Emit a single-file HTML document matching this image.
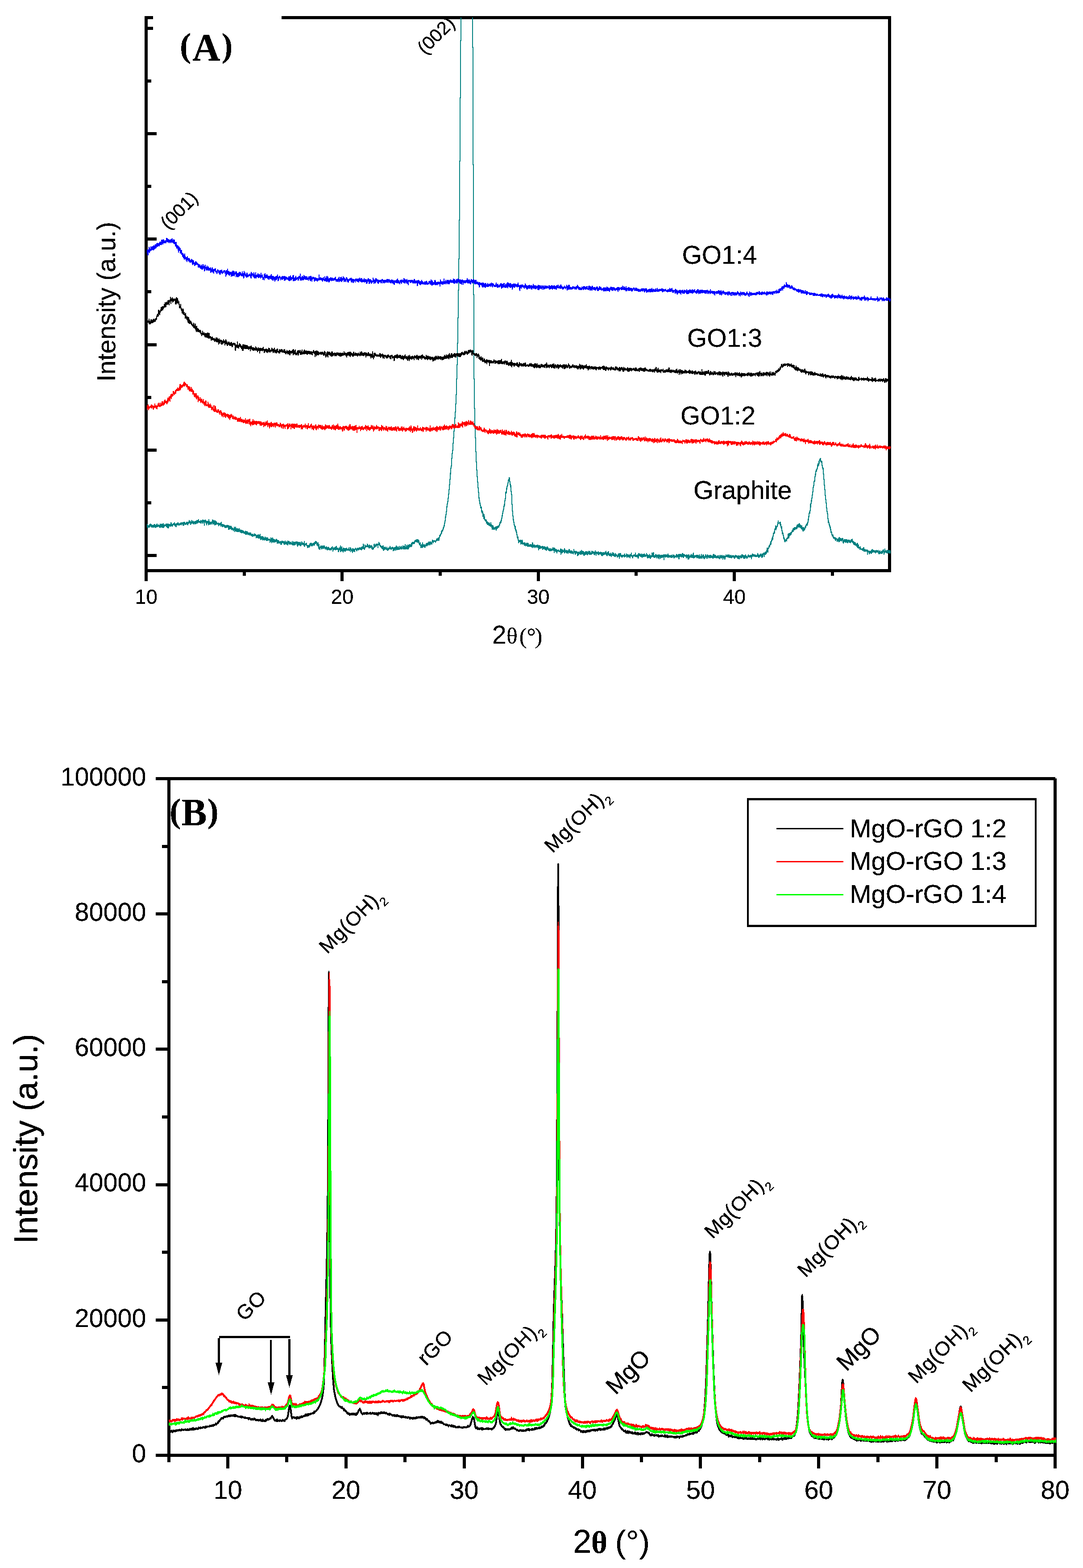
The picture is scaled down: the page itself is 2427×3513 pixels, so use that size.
<!DOCTYPE html>
<html lang="en"><head><meta charset="utf-8"><title>XRD patterns</title>
<style>html,body{margin:0;padding:0;background:#fff}body{width:2427px;height:3513px;overflow:hidden}svg{display:block}text{fill:#000;filter:url(#crisp)}</style>
</head><body>
<svg width="2427" height="3513" viewBox="0 0 2427 3513">
<rect width="2427" height="3513" fill="#fff"/>
<defs><filter id="crisp" x="-20%" y="-20%" width="140%" height="140%" color-interpolation-filters="sRGB"><feComponentTransfer><feFuncA type="discrete" tableValues="0 1 1"/></feComponentTransfer></filter></defs>
<g id="plotA">
<g shape-rendering="crispEdges">
<rect x="324" y="36" width="7" height="1266" fill="#000"/>
<rect x="1990" y="36" width="7" height="1246" fill="#000"/>
<rect x="324" y="36" width="1673" height="7" fill="#000"/>
<rect x="324" y="1275" width="1673" height="7" fill="#000"/>
<rect x="331" y="60" width="20" height="7" fill="#000"/>
<rect x="331" y="178" width="8" height="7" fill="#000"/>
<rect x="331" y="296" width="20" height="7" fill="#000"/>
<rect x="331" y="414" width="8" height="7" fill="#000"/>
<rect x="331" y="532" width="20" height="7" fill="#000"/>
<rect x="331" y="650" width="8" height="7" fill="#000"/>
<rect x="331" y="769" width="20" height="7" fill="#000"/>
<rect x="331" y="887" width="8" height="7" fill="#000"/>
<rect x="331" y="1005" width="20" height="7" fill="#000"/>
<rect x="331" y="1123" width="8" height="7" fill="#000"/>
<rect x="331" y="1241" width="20" height="7" fill="#000"/>
<rect x="544" y="1282" width="7" height="8" fill="#000"/>
<rect x="763" y="1282" width="7" height="20" fill="#000"/>
<rect x="983" y="1282" width="7" height="8" fill="#000"/>
<rect x="1203" y="1282" width="7" height="20" fill="#000"/>
<rect x="1422" y="1282" width="7" height="8" fill="#000"/>
<rect x="1642" y="1282" width="7" height="20" fill="#000"/>
<rect x="1862" y="1282" width="7" height="8" fill="#000"/>
<rect x="343" y="30" width="288" height="120" fill="#fff"/>
</g>
<g fill="none" stroke-width="1" shape-rendering="crispEdges">
<path stroke="#008080" d="M329.5 1174v8m1 -8v10m1 -8v8m1 -7v5m1 -5v5m1 -7v7m1 -8v8m1 -9v8m1 -8v6m1 -5v7m1 -7v8m1 -6v6m1 -6v6m1 -6v6m1 -6v6m1 -7v7m1 -8v8m1 -8v7m1 -7v9m1 -7v7m1 -7v6m1 -8v8m1 -9v8m1 -8v8m1 -5v5m1 -6v5m1 -5v5m1 -4v6m1 -6v6m1 -9v10m1 -10v10m1 -9v7m1 -7v8m1 -9v9m1 -9v9m1 -8v9m1 -11v11m1 -11v11m1 -8v7m1 -7v6m1 -6v4m1 -4v4m1 -6v6m1 -6v8m1 -8v8m1 -8v10m1 -10v10m1 -10v11m1 -11v11m1 -10v9m1 -9v5m1 -5v6m1 -6v6m1 -10v10m1 -10v9m1 -8v8m1 -5v6m1 -6v6m1 -7v6m1 -7v4m1 -4v5m1 -7v7m1 -7v9m1 -6v6m1 -6v8m1 -8v8m1 -9v9m1 -9v5m1 -6v6m1 -7v7m1 -7v6m1 -4v6m1 -5v5m1 -6v5m1 -5v4m1 -5v5m1 -6v7m1 -7v7m1 -6v4m1 -5v5m1 -5v8m1 -8v8m1 -9v9m1 -9v9m1 -9v6m1 -6v7m1 -4v4m1 -5v5m1 -7v6m1 -6v6m1 -6v7m1 -7v8m1 -7v7m1 -9v6m1 -9v8m1 -8v8m1 -6v5m1 -5v9m1 -7v7m1 -11v10m1 -10v8m1 -5v5m1 -7v7m1 -7v8m1 -6v7m1 -7v7m1 -7v5m1 -5v7m1 -8v8m1 -8v7m1 -7v7m1 -9v9m1 -9v7m1 -7v8m1 -8v8m1 -10v8m1 -8v8m1 -4v4m1 -4v5m1 -5v5m1 -7v8m1 -8v8m1 -7v7m1 -7v4m1 -6v9m1 -9v9m1 -9v9m1 -8v5m1 -5v13m1 -13v13m1 -14v7m1 -7v7m1 -6v9m1 -7v10m1 -10v10m1 -10v6m1 -6v6m1 -6v10m1 -14v14m1 -14v12m1 -8v9m1 -7v7m1 -7v6m1 -6v6m1 -6v6m1 -7v7m1 -11v8m1 -8v11m1 -11v11m1 -9v9m1 -10v9m1 -9v12m1 -10v10m1 -11v11m1 -11v10m1 -8v8m1 -8v7m1 -5v5m1 -3v3m1 -4v5m1 -5v8m1 -8v8m1 -7v5m1 -5v5m1 -6v6m1 -6v9m1 -11v11m1 -11v9m1 -4v7m1 -7v7m1 -7v7m1 -7v6m1 -5v5m1 -5v6m1 -5v7m1 -7v7m1 -6v6m1 -6v6m1 -7v7m1 -7v6m1 -6v6m1 -6v6m1 -6v11m1 -10v10m1 -10v10m1 -9v8m1 -8v8m1 -8v7m1 -7v8m1 -8v9m1 -7v8m1 -6v6m1 -6v5m1 -4v7m1 -6v6m1 -10v8m1 -8v12m1 -10v10m1 -12v10m1 -10v11m1 -7v7m1 -8v9m1 -9v9m1 -8v8m1 -8v8m1 -7v7m1 -9v9m1 -9v8m1 -5v7m1 -7v7m1 -6v7m1 -7v7m1 -7v8m1 -8v8m1 -7v6m1 -6v6m1 -5v6m1 -6v7m1 -5v5m1 -5v5m1 -7v9m1 -9v9m1 -8v8m1 -8v8m1 -8v8m1 -8v7m1 -5v7m1 -6v6m1 -6v5m1 -5v6m1 -6v7m1 -7v7m1 -7v6m1 -6v8m1 -5v5m1 -5v6m1 -6v7m1 -7v7m1 -7v5m1 -3v4m1 -7v7m1 -7v6m1 -5v5m1 -5v5m1 -4v9m1 -7v7m1 -8v7m1 -7v7m1 -7v8m1 -9v9m1 -9v10m1 -9v9m1 -9v8m1 -10v11m1 -11v14m1 -9v9m1 -8v7m1 -8v8m1 -8v8m1 -8v10m1 -9v9m1 -9v8m1 -6v6m1 -5v6m1 -9v9m1 -9v8m1 -6v6m1 -6v8m1 -8v8m1 -8v8m1 -8v8m1 -8v7m1 -4v4m1 -4v4m1 -4v4m1 -4v9m1 -8v8m1 -12v10m1 -10v10m1 -9v12m1 -11v11m1 -13v11m1 -11v11m1 -8v8m1 -8v9m1 -8v8m1 -8v7m1 -6v6m1 -6v6m1 -8v7m1 -7v7m1 -6v10m1 -9v9m1 -8v8m1 -8v8m1 -8v7m1 -6v7m1 -5v5m1 -5v4m1 -5v8m1 -8v9m1 -8v8m1 -10v9m1 -9v6m1 -5v5m1 -5v5m1 -5v7m1 -6v8m1 -8v8m1 -10v9m1 -9v8m1 -5v6m1 -7v7m1 -7v7m1 -6v7m1 -10v11m1 -11v11m1 -10v6m1 -6v8m1 -8v8m1 -6v6m1 -6v6m1 -6v6m1 -6v6m1 -4v4m1 -8v9m1 -9v10m1 -7v7m1 -9v9m1 -9v9m1 -8v8m1 -8v8m1 -8v7m1 -8v8m1 -8v5m1 -5v7m1 -7v10m1 -10v12m1 -11v11m1 -11v8m1 -8v8m1 -7v7m1 -8v8m1 -8v9m1 -9v10m1 -7v7m1 -11v9m1 -9v7m1 -6v7m1 -5v5m1 -5v5m1 -5v7m1 -11v13m1 -13v13m1 -7v7m1 -8v5m1 -5v4m1 -5v7m1 -7v8m1 -3v7m1 -7v7m1 -7v6m1 -6v6m1 -6v6m1 -9v9m1 -10v8m1 -9v8m1 -8v6m1 -6v8m1 -8v8m1 -6v6m1 -7v7m1 -8v6m1 -6v6m1 -6v7m1 -9v9m1 -9v7m1 -9v7m1 -7v7m1 -7v6m1 -5v9m1 -8v8m1 -6v8m1 -9v9m1 -9v14m1 -10v12m1 -12v12m1 -6v7m1 -8v8m1 -10v6m1 -6v7m1 -6v8m1 -9v9m1 -9v8m1 -7v6m1 -7v7m1 -7v8m1 -8v8m1 -8v6m1 -3v6m1 -6v6m1 -6v6m1 -7v7m1 -7v9m1 -7v7m1 -7v7m1 -8v7m1 -7v7m1 -6v7m1 -5v5m1 -5v5m1 -5v5m1 -6v6m1 -7v7m1 -8v7m1 -8v6m1 -6v12m1 -8v8m1 -10v7m1 -7v6m1 -5v5m1 -7v7m1 -7v8m1 -9v9m1 -10v9m1 -9v9m1 -5v5m1 -5v5m1 -5v10m1 -8v8m1 -10v10m1 -10v6m1 -8v8m1 -11v15m1 -15v15m1 -11v10m1 -12v11m1 -11v11m1 -5v6m1 -9v11m1 -11v11m1 -11v8m1 -7v7m1 -7v8m1 -8v8m1 -8v8m1 -8v6m1 -7v7m1 -7v6m1 -3v4m1 -5v5m1 -5v4m1 -7v8m1 -8v9m1 -5v5m1 -9v7m1 -7v11m1 -10v10m1 -8v5m1 -3v5m1 -8v11m1 -11v11m1 -10v7m1 -7v7m1 -7v7m1 -6v7m1 -8v8m1 -10v5m1 -5v5m1 -3v6m1 -6v6m1 -8v8m1 -8v5m1 -4v5m1 -6v6m1 -6v6m1 -7v5m1 -5v6m1 -6v6m1 -5v5m1 -7v8m1 -8v8m1 -9v8m1 -8v6m1 -12v12m1 -12v12m1 -10v11m1 -5v6m1 -12v12m1 -12v9m1 -7v5m1 -5v4m1 -4v4m1 -8v8m1 -8v8m1 -7v7m1 -4v5m1 -6v8m1 -9v9m1 -9v8m1 -6v6m1 -6v6m1 -7v6m1 -6v9m1 -7v8m1 -8v9m1 -6v6m1 -6v5m1 -12v12m1 -13v10m1 -10v9m1 -6v6m1 -8v6m1 -7v7m1 -7v7m1 -7v5m1 -5v4m1 -4v10m1 -10v10m1 -14v7m1 -7v8m1 -6v7m1 -6v8m1 -4v5m1 -5v6m1 -4v5m1 -5v7m1 -7v7m1 -8v9m1 -9v12m1 -12v12m1 -8v8m1 -9v7m1 -7v7m1 -7v6m1 -6v6m1 -3v4m1 -7v7m1 -7v9m1 -6v6m1 -6v6m1 -7v6m1 -7v6m1 -6v5m1 -8v7m1 -7v8m1 -6v6m1 -4v5m1 -6v6m1 -7v5m1 -5v5m1 -5v10m1 -8v8m1 -9v8m1 -8v8m1 -8v6m1 -7v9m1 -9v9m1 -12v9m1 -9v11m1 -9v9m1 -9v8m1 -6v6m1 -8v8m1 -8v8m1 -5v5m1 -9v9m1 -9v7m1 -5v6m1 -6v6m1 -8v8m1 -8v8m1 -5v5m1 -9v7m1 -7v9m1 -8v8m1 -8v8m1 -8v8m1 -12v12m1 -12v12m1 -6v6m1 -10v9m1 -9v10m1 -8v8m1 -11v11m1 -11v11m1 -10v10m1 -11v9m1 -10v8m1 -8v7m1 -7v6m1 -5v6m1 -10v10m1 -10v9m1 -11v10m1 -10v6m1 -6v5m1 -5v5m1 -5v5m1 -7v7m1 -9v8m1 -8v5m1 -6v5m1 -5v6m1 -7v7m1 -7v7m1 -7v8m1 -8v8m1 -7v7m1 -7v10m1 -8v10m1 -5v6m1 -7v8m1 -8v13m1 -7v7m1 -9v8m1 -8v9m1 -13v13m1 -13v12m1 -7v6m1 -7v6m1 -6v8m1 -7v7m1 -7v7m1 -7v7m1 -10v6m1 -6v7m1 -8v8m1 -8v8m1 -8v6m1 -7v7m1 -9v9m1 -9v7m1 -6v8m1 -9v9m1 -9v8m1 -8v6m1 -4v5m1 -7v7m1 -11v11m1 -11v6m1 -5v7m1 -6v6m1 -7v4m1 -4v4m1 -3v3m1 -3v5m1 -6v6m1 -8v6m1 -8v6m1 -6v6m1 -6v6m1 -8v7m1 -7v8m1 -8v8m1 -13v12m1 -13v8m1 -10v6m1 -7v7m1 -12v8m1 -10v9m1 -10v8m1 -9v5m1 -9v9m1 -11v8m1 -12v9m1 -14v11m1 -16v13m1 -22v16m1 -21v16m1 -23v15m1 -26v20m1 -26v19m1 -24v14m1 -22v15m1 -24v19m1 -29v21m1 -32v23m1 -35v25m1 -39v28m1 -39v27m1 -32v20m1 -37v24m1 -35v30m1 -37v20m1 -36v25m1 -37v30m1 -45v29m1 -42v30m1 -47v32m1 -45v32m1 -50v34m1 -55v41m1 -76v58m1 -90v69m1 -117v82m1 -139v107m1 -169v121m1 -191v134m1 -221v159m1 -291v221m1 -363v276m1 -404v272m1 -323v181m1 -181v53m25 -53v68m1 -68v331m1 -265v556m1 -293v482m1 -191v257m1 -68v106m1 -40v68m1 -30v61m1 -33v56m1 -25v43m1 -20v35m1 -17v29m1 -14v27m1 -15v25m1 -12v25m1 -15v21m1 -9v15m1 -8v12m1 -7v13m1 -8v8m1 -4v12m1 -12v15m1 -7v7m1 -6v14m1 -12v12m1 -8v13m1 -11v11m1 -11v13m1 -8v10m1 -4v5m1 -5v6m1 -5v9m1 -9v9m1 -5v8m1 -8v8m1 -7v7m1 -6v7m1 -6v7m1 -7v7m1 -7v8m1 -5v6m1 -10v10m1 -10v10m1 -6v9m1 -7v11m1 -11v11m1 -10v9m1 -9v10m1 -7v7m1 -5v5m1 -6v6m1 -7v5m1 -5v7m1 -8v10m1 -10v10m1 -10v7m1 -8v7m1 -7v6m1 -7v6m1 -6v5m1 -8v8m1 -12v9m1 -10v8m1 -10v6m1 -9v9m1 -13v11m1 -17v13m1 -18v13m1 -18v13m1 -17v11m1 -18v13m1 -17v13m1 -21v15m1 -20v17m1 -31v21m1 -22v17m1 -25v13m1 -17v16m1 -19v11m1 -16v10m1 -16v13m1 -15v10m1 -14v9m1 -9v11m1 -10v17m1 -9v14m1 -8v18m1 -15v22m1 -9v31m1 -24v39m1 -17v28m1 -13v22m1 -11v16m1 -8v14m1 -8v11m1 -5v10m1 -7v10m1 -10v13m1 -6v9m1 -7v12m1 -8v14m1 -8v10m1 -5v9m1 -9v15m1 -8v8m1 -7v5m1 -5v5m1 -6v6m1 -6v11m1 -10v10m1 -10v9m1 -10v10m1 -10v11m1 -9v9m1 -5v5m1 -4v4m1 -5v8m1 -8v8m1 -8v7m1 -6v8m1 -6v6m1 -8v7m1 -7v7m1 -7v9m1 -9v9m1 -9v9m1 -8v8m1 -5v5m1 -5v5m1 -6v6m1 -6v6m1 -6v6m1 -6v7m1 -6v6m1 -11v13m1 -13v13m1 -12v10m1 -6v6m1 -6v8m1 -8v8m1 -8v6m1 -4v4m1 -5v7m1 -7v7m1 -7v5m1 -5v5m1 -6v8m1 -8v8m1 -6v11m1 -12v12m1 -12v9m1 -8v8m1 -8v8m1 -7v6m1 -5v5m1 -5v5m1 -6v5m1 -5v9m1 -9v9m1 -8v7m1 -7v6m1 -6v6m1 -6v8m1 -8v8m1 -7v8m1 -7v7m1 -7v8m1 -10v10m1 -10v7m1 -6v7m1 -5v6m1 -6v7m1 -4v5m1 -7v7m1 -7v7m1 -7v7m1 -5v5m1 -6v6m1 -6v5m1 -5v5m1 -8v7m1 -7v8m1 -7v7m1 -7v12m1 -12v12m1 -12v8m1 -6v7m1 -6v7m1 -7v7m1 -7v10m1 -8v8m1 -8v5m1 -6v4m1 -4v5m1 -4v5m1 -3v3m1 -5v5m1 -8v9m1 -9v14m1 -14v14m1 -13v10m1 -9v9m1 -9v8m1 -8v7m1 -5v4m1 -6v6m1 -9v12m1 -12v12m1 -10v9m1 -6v4m1 -5v7m1 -7v8m1 -7v7m1 -7v6m1 -6v8m1 -8v8m1 -11v8m1 -8v9m1 -9v9m1 -6v7m1 -7v7m1 -6v6m1 -7v7m1 -7v8m1 -7v7m1 -6v5m1 -4v6m1 -12v12m1 -12v8m1 -4v6m1 -6v9m1 -8v8m1 -9v8m1 -8v6m1 -5v5m1 -4v10m1 -10v10m1 -10v9m1 -9v8m1 -8v8m1 -7v4m1 -7v8m1 -8v9m1 -8v8m1 -11v11m1 -11v10m1 -8v8m1 -8v8m1 -8v8m1 -7v10m1 -10v10m1 -8v8m1 -8v8m1 -10v8m1 -8v8m1 -8v8m1 -8v7m1 -7v9m1 -9v9m1 -7v7m1 -10v7m1 -7v8m1 -7v8m1 -9v9m1 -9v9m1 -6v6m1 -5v5m1 -9v9m1 -9v8m1 -8v7m1 -6v6m1 -6v5m1 -4v7m1 -7v7m1 -7v8m1 -11v11m1 -11v8m1 -5v9m1 -9v9m1 -9v5m1 -5v5m1 -4v6m1 -8v8m1 -8v9m1 -7v7m1 -7v5m1 -5v5m1 -6v6m1 -6v7m1 -6v8m1 -8v9m1 -9v9m1 -8v8m1 -9v7m1 -7v7m1 -7v7m1 -6v5m1 -7v7m1 -7v6m1 -8v9m1 -9v10m1 -6v8m1 -9v9m1 -9v9m1 -11v8m1 -8v9m1 -9v10m1 -6v7m1 -6v6m1 -6v6m1 -8v8m1 -8v10m1 -7v7m1 -8v5m1 -8v8m1 -8v9m1 -8v8m1 -7v7m1 -6v7m1 -5v6m1 -9v9m1 -9v9m1 -7v5m1 -5v5m1 -3v6m1 -5v5m1 -8v8m1 -8v6m1 -8v9m1 -9v13m1 -12v12m1 -13v9m1 -9v7m1 -7v9m1 -5v6m1 -6v6m1 -6v6m1 -6v6m1 -6v4m1 -4v4m1 -5v7m1 -9v9m1 -9v8m1 -5v5m1 -4v3m1 -7v7m1 -7v10m1 -9v9m1 -8v6m1 -6v6m1 -6v7m1 -6v6m1 -6v6m1 -8v10m1 -10v10m1 -9v5m1 -9v9m1 -9v9m1 -3v6m1 -6v7m1 -8v8m1 -8v5m1 -6v4m1 -4v5m1 -5v5m1 -9v10m1 -10v10m1 -5v5m1 -5v5m1 -5v6m1 -7v7m1 -7v10m1 -13v13m1 -13v11m1 -10v6m1 -6v6m1 -6v7m1 -6v7m1 -6v6m1 -8v8m1 -8v10m1 -8v8m1 -9v7m1 -7v7m1 -7v7m1 -8v8m1 -8v7m1 -5v6m1 -6v6m1 -5v4m1 -8v7m1 -7v10m1 -7v9m1 -9v9m1 -8v8m1 -8v7m1 -6v6m1 -9v9m1 -9v11m1 -8v8m1 -8v8m1 -8v5m1 -11v11m1 -11v10m1 -9v9m1 -11v11m1 -11v12m1 -11v12m1 -6v6m1 -6v6m1 -8v7m1 -8v7m1 -7v10m1 -8v8m1 -8v5m1 -5v8m1 -9v9m1 -9v9m1 -8v10m1 -11v11m1 -11v7m1 -5v8m1 -9v9m1 -9v7m1 -7v7m1 -7v7m1 -7v7m1 -7v6m1 -7v7m1 -7v13m1 -13v13m1 -13v6m1 -6v7m1 -7v7m1 -7v7m1 -7v6m1 -5v5m1 -6v7m1 -9v10m1 -10v10m1 -7v6m1 -6v6m1 -5v5m1 -5v5m1 -5v5m1 -6v7m1 -7v7m1 -7v7m1 -5v5m1 -8v7m1 -7v6m1 -5v8m1 -8v8m1 -8v8m1 -6v4m1 -4v4m1 -6v6m1 -8v7m1 -7v9m1 -8v8m1 -7v5m1 -6v7m1 -8v12m1 -12v12m1 -12v12m1 -12v7m1 -7v7m1 -7v6m1 -6v8m1 -7v7m1 -10v9m1 -9v9m1 -9v11m1 -9v9m1 -9v9m1 -9v6m1 -5v5m1 -4v4m1 -4v5m1 -5v8m1 -9v9m1 -9v7m1 -6v8m1 -8v11m1 -12v12m1 -12v11m1 -11v11m1 -8v5m1 -6v6m1 -7v6m1 -8v8m1 -8v9m1 -7v7m1 -7v7m1 -10v10m1 -12v13m1 -13v13m1 -7v7m1 -7v6m1 -6v6m1 -6v4m1 -5v6m1 -6v6m1 -6v8m1 -8v8m1 -8v7m1 -7v7m1 -7v9m1 -7v7m1 -10v9m1 -9v10m1 -6v6m1 -7v6m1 -10v10m1 -10v11m1 -7v7m1 -9v6m1 -7v9m1 -9v9m1 -8v10m1 -7v7m1 -7v6m1 -10v8m1 -8v7m1 -7v10m1 -7v7m1 -9v6m1 -7v10m1 -10v10m1 -8v5m1 -5v6m1 -6v6m1 -7v8m1 -8v8m1 -8v7m1 -6v6m1 -6v6m1 -5v5m1 -5v6m1 -9v10m1 -11v11m1 -11v9m1 -9v9m1 -7v7m1 -7v7m1 -7v7m1 -6v7m1 -5v5m1 -6v6m1 -6v5m1 -6v7m1 -7v7m1 -7v7m1 -4v5m1 -8v9m1 -10v10m1 -10v7m1 -5v6m1 -7v7m1 -8v8m1 -8v7m1 -5v9m1 -9v9m1 -10v7m1 -7v7m1 -6v9m1 -9v9m1 -9v8m1 -11v7m1 -7v6m1 -4v4m1 -5v5m1 -6v7m1 -7v7m1 -6v6m1 -7v8m1 -8v8m1 -6v6m1 -6v6m1 -7v7m1 -7v8m1 -6v6m1 -7v6m1 -6v5m1 -5v5m1 -5v5m1 -5v7m1 -6v7m1 -7v7m1 -9v8m1 -8v6m1 -5v5m1 -5v5m1 -5v6m1 -5v7m1 -7v7m1 -8v8m1 -8v9m1 -8v8m1 -8v8m1 -9v5m1 -5v7m1 -6v6m1 -9v9m1 -9v8m1 -8v8m1 -8v6m1 -5v8m1 -7v8m1 -8v8m1 -8v8m1 -8v8m1 -10v9m1 -9v7m1 -4v6m1 -6v7m1 -5v5m1 -8v6m1 -8v7m1 -7v6m1 -4v5m1 -5v5m1 -5v5m1 -6v6m1 -6v6m1 -6v10m1 -10v10m1 -13v9m1 -9v7m1 -6v6m1 -6v6m1 -5v5m1 -5v5m1 -5v6m1 -6v6m1 -5v5m1 -5v5m1 -4v4m1 -6v6m1 -9v8m1 -8v9m1 -7v9m1 -7v7m1 -7v6m1 -7v7m1 -8v6m1 -7v7m1 -7v7m1 -5v8m1 -10v10m1 -10v9m1 -9v9m1 -11v9m1 -9v5m1 -4v9m1 -11v11m1 -12v7m1 -7v7m1 -8v8m1 -11v9m1 -14v13m1 -13v10m1 -10v11m1 -11v11m1 -15v7m1 -9v8m1 -9v6m1 -9v9m1 -13v9m1 -10v9m1 -12v11m1 -15v9m1 -11v9m1 -12v10m1 -16v15m1 -16v9m1 -12v7m1 -12v11m1 -13v12m1 -18v10m1 -10v11m1 -9v9m1 -10v7m1 -10v6m1 -11v11m1 -15v11m1 -11v8m1 -3v2m1 -3v3m1 -4v7m1 -7v9m1 -9v13m1 -8v11m1 -6v11m1 -11v18m1 -9v9m1 -5v9m1 -7v13m1 -8v10m1 -6v10m1 -7v9m1 -6v6m1 -7v6m1 -6v4m1 -7v8m1 -8v8m1 -10v5m1 -12v12m1 -13v12m1 -12v11m1 -12v12m1 -12v8m1 -8v6m1 -8v8m1 -8v7m1 -8v7m1 -10v7m1 -8v6m1 -9v8m1 -9v9m1 -9v8m1 -10v7m1 -7v7m1 -7v7m1 -7v6m1 -6v4m1 -6v7m1 -10v10m1 -11v10m1 -10v8m1 -9v7m1 -7v8m1 -10v10m1 -10v10m1 -9v9m1 -7v8m1 -7v8m1 -7v9m1 -9v9m1 -9v10m1 -6v9m1 -9v10m1 -10v10m1 -10v8m1 -6v6m1 -9v8m1 -10v8m1 -10v7m1 -9v8m1 -9v5m1 -7v7m1 -9v9m1 -16v13m1 -19v15m1 -22v17m1 -20v13m1 -16v8m1 -22v22m1 -24v18m1 -25v17m1 -22v14m1 -21v16m1 -23v16m1 -26v19m1 -23v16m1 -25v15m1 -17v13m1 -22v13m1 -19v18m1 -24v14m1 -17v13m1 -14v6m1 -9v9m1 -16v12m1 -15v12m1 -12v8m1 -13v11m1 -13v12m1 -15v11m1 -12v6m1 -7v9m1 -9v10m1 -4v5m1 -5v12m1 -11v16m1 -7v10m1 -5v16m1 -15v27m1 -14v27m1 -15v25m1 -12v25m1 -15v24m1 -11v19m1 -10v21m1 -13v21m1 -10v15m1 -7v18m1 -13v22m1 -11v11m1 -6v11m1 -7v10m1 -6v10m1 -7v11m1 -8v14m1 -9v9m1 -4v9m1 -7v10m1 -5v5m1 -5v8m1 -7v9m1 -5v5m1 -4v4m1 -4v6m1 -5v7m1 -7v8m1 -8v8m1 -6v3m1 -3v8m1 -7v7m1 -7v6m1 -7v7m1 -9v11m1 -12v12m1 -12v11m1 -9v8m1 -8v7m1 -6v6m1 -6v7m1 -7v7m1 -8v6m1 -6v11m1 -10v12m1 -8v8m1 -10v8m1 -8v6m1 -6v7m1 -7v8m1 -8v8m1 -8v8m1 -8v7m1 -7v9m1 -7v7m1 -8v8m1 -8v5m1 -5v7m1 -7v7m1 -6v6m1 -5v6m1 -8v8m1 -9v7m1 -7v6m1 -7v9m1 -9v9m1 -5v7m1 -6v8m1 -7v8m1 -7v7m1 -7v8m1 -7v7m1 -7v8m1 -5v5m1 -5v7m1 -9v10m1 -10v12m1 -11v11m1 -8v9m1 -9v9m1 -4v4m1 -4v7m1 -8v8m1 -8v7m1 -3v4m1 -3v3m1 -3v4m1 -5v6m1 -6v6m1 -8v8m1 -8v10m1 -10v10m1 -6v6m1 -6v6m1 -6v6m1 -4v4m1 -5v4m1 -4v6m1 -6v12m1 -11v11m1 -11v5m1 -3v5m1 -5v8m1 -8v8m1 -8v6m1 -6v6m1 -6v6m1 -8v9m1 -10v10m1 -11v9m1 -9v8m1 -6v6m1 -6v5m1 -5v6m1 -5v5m1 -5v5m1 -5v7m1 -7v7m1 -8v6m1 -6v6m1 -5v5m1 -5v5m1 -6v6m1 -6v9m1 -6v7m1 -8v8m1 -9v8m1 -8v8m1 -5v4m1 -5v6m1 -7v7m1 -7v7m1 -8v7m1 -9v9m1 -9v6m1 -6v12m1 -9v9m1 -14v11m1 -11v9m1 -5v5m1 -5v6m1 -6v6m1 -6v7m1 -8v8m1 -8v8m1 -7v6m1 -7v7m1 -7v8m1 -7v7m1 -7v7m1 -7v7"/>
<path stroke="#f00" d="M329.5 908v11m1 -11v9m1 -11v10m1 -10v13m1 -10v10m1 -8v5m1 -6v5m1 -6v5m1 -5v4m1 -7v9m1 -9v9m1 -8v8m1 -8v6m1 -4v8m1 -8v9m1 -9v9m1 -9v6m1 -11v10m1 -10v9m1 -5v6m1 -6v8m1 -8v8m1 -7v8m1 -9v9m1 -13v8m1 -8v7m1 -9v9m1 -9v9m1 -8v9m1 -5v5m1 -10v10m1 -10v8m1 -6v6m1 -11v11m1 -11v10m1 -10v9m1 -9v10m1 -7v7m1 -11v9m1 -11v11m1 -12v10m1 -10v8m1 -5v5m1 -5v6m1 -6v8m1 -11v11m1 -15v13m1 -13v11m1 -11v10m1 -13v10m1 -10v10m1 -10v12m1 -14v14m1 -17v9m1 -9v11m1 -12v12m1 -12v7m1 -6v6m1 -13v11m1 -11v11m1 -11v7m1 -6v8m1 -6v6m1 -11v9m1 -9v8m1 -10v10m1 -11v6m1 -6v5m1 -8v8m1 -8v8m1 -6v6m1 -7v7m1 -10v9m1 -14v14m1 -15v15m1 -15v14m1 -12v10m1 -9v6m1 -7v7m1 -7v7m1 -8v6m1 -8v7m1 -10v10m1 -11v10m1 -10v11m1 -10v10m1 -8v6m1 -6v5m1 -3v7m1 -6v7m1 -7v7m1 -7v12m1 -8v8m1 -8v8m1 -8v11m1 -10v11m1 -11v11m1 -10v9m1 -5v7m1 -11v11m1 -11v11m1 -7v7m1 -7v13m1 -10v10m1 -10v10m1 -8v12m1 -7v9m1 -9v9m1 -9v8m1 -8v11m1 -11v12m1 -12v14m1 -9v9m1 -9v6m1 -6v15m1 -15v15m1 -12v9m1 -8v8m1 -4v4m1 -8v10m1 -10v13m1 -9v9m1 -10v8m1 -8v9m1 -7v9m1 -6v6m1 -10v10m1 -10v13m1 -7v7m1 -7v10m1 -12v12m1 -13v11m1 -11v13m1 -12v12m1 -4v4m1 -4v3m1 -9v11m1 -11v12m1 -9v11m1 -8v8m1 -8v8m1 -10v9m1 -9v10m1 -7v7m1 -7v12m1 -8v8m1 -8v6m1 -5v7m1 -11v12m1 -12v13m1 -5v7m1 -15v15m1 -15v15m1 -13v12m1 -12v13m1 -8v9m1 -6v6m1 -4v5m1 -8v8m1 -8v8m1 -8v6m1 -6v9m1 -6v9m1 -8v8m1 -10v6m1 -6v10m1 -10v11m1 -8v11m1 -10v10m1 -8v7m1 -6v9m1 -11v11m1 -11v6m1 -6v10m1 -10v10m1 -9v11m1 -11v11m1 -9v9m1 -8v5m1 -6v6m1 -6v8m1 -8v8m1 -7v9m1 -9v10m1 -9v9m1 -8v11m1 -12v12m1 -12v8m1 -10v10m1 -10v8m1 -6v5m1 -5v10m1 -7v7m1 -8v7m1 -7v9m1 -5v5m1 -7v6m1 -6v7m1 -7v8m1 -7v7m1 -7v6m1 -5v6m1 -3v7m1 -9v9m1 -9v8m1 -7v8m1 -9v9m1 -9v9m1 -8v8m1 -11v10m1 -10v12m1 -7v7m1 -8v8m1 -8v8m1 -6v6m1 -6v8m1 -8v8m1 -8v8m1 -8v7m1 -6v6m1 -10v11m1 -11v13m1 -8v8m1 -10v9m1 -9v9m1 -9v9m1 -9v10m1 -10v10m1 -11v7m1 -7v12m1 -13v13m1 -13v14m1 -8v11m1 -10v10m1 -10v6m1 -8v8m1 -8v10m1 -14v14m1 -14v13m1 -9v9m1 -10v10m1 -10v8m1 -6v7m1 -8v8m1 -8v9m1 -9v10m1 -10v10m1 -10v7m1 -6v6m1 -6v5m1 -6v7m1 -7v7m1 -6v7m1 -7v10m1 -10v10m1 -10v9m1 -9v10m1 -8v8m1 -7v6m1 -7v6m1 -6v6m1 -6v11m1 -12v12m1 -12v9m1 -6v7m1 -9v9m1 -11v10m1 -10v8m1 -7v8m1 -11v11m1 -11v15m1 -10v10m1 -9v5m1 -6v9m1 -9v13m1 -12v12m1 -12v9m1 -11v9m1 -10v12m1 -12v12m1 -9v9m1 -9v7m1 -7v7m1 -6v8m1 -10v10m1 -10v6m1 -6v9m1 -9v11m1 -11v11m1 -11v6m1 -7v9m1 -9v9m1 -8v8m1 -5v5m1 -5v4m1 -4v7m1 -6v6m1 -6v6m1 -10v10m1 -10v8m1 -7v10m1 -7v7m1 -8v10m1 -10v10m1 -10v5m1 -6v12m1 -12v12m1 -10v7m1 -7v6m1 -5v9m1 -9v9m1 -10v5m1 -5v5m1 -6v5m1 -5v12m1 -14v14m1 -14v13m1 -9v9m1 -12v10m1 -10v8m1 -8v8m1 -8v6m1 -3v10m1 -12v12m1 -13v8m1 -8v10m1 -10v10m1 -10v10m1 -10v10m1 -9v11m1 -12v12m1 -12v12m1 -11v7m1 -7v8m1 -9v9m1 -9v9m1 -9v9m1 -9v9m1 -5v5m1 -6v6m1 -6v6m1 -6v7m1 -7v7m1 -7v6m1 -6v5m1 -6v11m1 -12v12m1 -12v11m1 -8v9m1 -8v8m1 -10v6m1 -6v6m1 -5v5m1 -6v6m1 -9v8m1 -8v11m1 -7v7m1 -8v5m1 -5v9m1 -8v9m1 -10v10m1 -14v11m1 -11v11m1 -5v5m1 -5v5m1 -5v6m1 -9v9m1 -9v6m1 -8v9m1 -9v13m1 -8v8m1 -9v8m1 -8v10m1 -9v10m1 -11v11m1 -11v7m1 -5v5m1 -9v9m1 -9v12m1 -12v13m1 -9v9m1 -10v7m1 -7v5m1 -5v8m1 -11v11m1 -11v7m1 -6v7m1 -7v7m1 -7v8m1 -8v8m1 -8v10m1 -7v7m1 -10v10m1 -10v11m1 -8v8m1 -8v6m1 -6v7m1 -7v7m1 -7v9m1 -13v13m1 -13v11m1 -11v10m1 -8v8m1 -8v7m1 -7v6m1 -6v7m1 -7v7m1 -7v8m1 -9v9m1 -9v8m1 -6v7m1 -5v5m1 -5v5m1 -5v7m1 -10v10m1 -10v9m1 -10v8m1 -9v10m1 -10v12m1 -8v8m1 -10v9m1 -9v11m1 -10v10m1 -10v10m1 -12v9m1 -9v9m1 -9v9m1 -12v12m1 -12v14m1 -10v10m1 -8v8m1 -7v7m1 -8v7m1 -7v7m1 -7v7m1 -5v5m1 -5v5m1 -5v9m1 -10v11m1 -13v13m1 -13v8m1 -7v10m1 -10v10m1 -10v9m1 -10v5m1 -5v7m1 -7v7m1 -7v8m1 -8v9m1 -7v7m1 -7v9m1 -9v9m1 -12v12m1 -12v11m1 -14v14m1 -14v12m1 -11v11m1 -7v7m1 -7v7m1 -6v6m1 -8v9m1 -9v11m1 -10v10m1 -10v10m1 -11v11m1 -11v11m1 -11v11m1 -12v11m1 -12v11m1 -11v11m1 -6v13m1 -13v13m1 -13v5m1 -5v5m1 -5v5m1 -8v8m1 -8v7m1 -4v4m1 -4v9m1 -11v11m1 -11v8m1 -8v8m1 -9v9m1 -9v8m1 -5v7m1 -6v6m1 -8v7m1 -7v5m1 -5v5m1 -9v11m1 -11v11m1 -9v6m1 -6v12m1 -12v12m1 -11v7m1 -9v10m1 -10v10m1 -7v8m1 -7v8m1 -8v8m1 -8v7m1 -8v7m1 -11v9m1 -9v9m1 -7v7m1 -8v8m1 -8v10m1 -6v10m1 -13v13m1 -13v10m1 -8v8m1 -8v5m1 -5v6m1 -7v7m1 -10v10m1 -10v10m1 -7v7m1 -7v6m1 -6v5m1 -4v9m1 -9v10m1 -9v9m1 -9v7m1 -7v6m1 -6v7m1 -12v14m1 -14v14m1 -12v10m1 -10v7m1 -7v9m1 -6v8m1 -8v8m1 -8v5m1 -5v6m1 -5v6m1 -10v11m1 -11v11m1 -10v9m1 -9v11m1 -7v8m1 -9v9m1 -11v7m1 -7v6m1 -6v8m1 -7v7m1 -7v7m1 -8v8m1 -9v10m1 -10v10m1 -7v7m1 -7v7m1 -8v8m1 -8v7m1 -7v7m1 -7v8m1 -8v8m1 -10v9m1 -9v10m1 -9v9m1 -9v11m1 -8v8m1 -11v6m1 -7v6m1 -6v10m1 -8v8m1 -7v8m1 -7v7m1 -7v5m1 -5v6m1 -9v9m1 -9v9m1 -10v9m1 -9v12m1 -9v9m1 -9v7m1 -9v7m1 -7v8m1 -5v5m1 -5v8m1 -7v7m1 -9v9m1 -9v8m1 -7v7m1 -7v4m1 -4v5m1 -6v6m1 -6v6m1 -6v8m1 -11v11m1 -11v9m1 -7v11m1 -15v15m1 -15v12m1 -9v9m1 -5v10m1 -10v10m1 -12v11m1 -14v9m1 -9v12m1 -12v12m1 -11v10m1 -10v9m1 -8v7m1 -7v10m1 -9v9m1 -8v7m1 -13v12m1 -12v10m1 -4v6m1 -6v6m1 -5v5m1 -6v6m1 -8v7m1 -7v7m1 -4v6m1 -6v6m1 -7v7m1 -10v9m1 -9v12m1 -11v11m1 -11v9m1 -8v4m1 -4v5m1 -5v5m1 -5v5m1 -7v11m1 -11v11m1 -10v7m1 -7v7m1 -7v8m1 -5v5m1 -7v6m1 -6v8m1 -6v7m1 -14v14m1 -14v14m1 -8v8m1 -9v6m1 -6v8m1 -8v8m1 -8v7m1 -9v7m1 -7v8m1 -5v5m1 -6v6m1 -7v6m1 -6v9m1 -9v9m1 -10v9m1 -11v14m1 -14v14m1 -12v10m1 -10v7m1 -6v6m1 -6v7m1 -9v9m1 -10v8m1 -8v11m1 -8v8m1 -10v9m1 -9v5m1 -4v6m1 -5v7m1 -10v10m1 -10v10m1 -10v10m1 -13v11m1 -11v12m1 -9v9m1 -9v8m1 -8v8m1 -9v8m1 -8v10m1 -8v8m1 -8v5m1 -5v9m1 -9v9m1 -10v8m1 -9v9m1 -9v7m1 -6v5m1 -5v8m1 -8v8m1 -11v10m1 -11v11m1 -11v8m1 -8v8m1 -8v10m1 -7v7m1 -7v7m1 -10v10m1 -10v9m1 -9v9m1 -8v7m1 -3v4m1 -6v6m1 -6v6m1 -13v13m1 -13v13m1 -11v11m1 -10v10m1 -10v9m1 -9v9m1 -9v6m1 -6v6m1 -8v8m1 -11v12m1 -12v14m1 -13v13m1 -12v5m1 -5v7m1 -8v8m1 -8v11m1 -10v10m1 -12v9m1 -10v12m1 -12v12m1 -10v9m1 -9v6m1 -7v9m1 -12v12m1 -12v9m1 -3v5m1 -8v8m1 -10v10m1 -10v10m1 -9v8m1 -8v9m1 -7v7m1 -7v6m1 -7v9m1 -9v9m1 -5v8m1 -8v8m1 -3v7m1 -7v7m1 -6v6m1 -6v8m1 -7v7m1 -7v8m1 -8v9m1 -9v9m1 -8v8m1 -5v5m1 -10v11m1 -11v11m1 -10v8m1 -6v6m1 -6v9m1 -9v9m1 -6v6m1 -4v6m1 -5v5m1 -5v4m1 -6v7m1 -10v10m1 -10v9m1 -7v10m1 -8v8m1 -8v4m1 -4v6m1 -5v6m1 -4v6m1 -7v7m1 -7v9m1 -9v9m1 -9v8m1 -12v10m1 -10v11m1 -9v9m1 -9v10m1 -7v7m1 -9v8m1 -8v7m1 -6v6m1 -6v8m1 -7v7m1 -10v10m1 -10v8m1 -6v7m1 -8v8m1 -8v8m1 -8v8m1 -7v10m1 -13v13m1 -13v11m1 -9v9m1 -9v8m1 -8v9m1 -7v7m1 -8v8m1 -9v7m1 -7v7m1 -7v7m1 -7v10m1 -6v7m1 -12v12m1 -12v11m1 -8v8m1 -8v9m1 -8v9m1 -12v12m1 -12v11m1 -7v8m1 -12v13m1 -13v13m1 -13v9m1 -6v7m1 -5v5m1 -8v9m1 -9v9m1 -8v8m1 -7v7m1 -7v8m1 -6v6m1 -7v5m1 -8v9m1 -9v11m1 -8v8m1 -8v8m1 -9v9m1 -9v7m1 -7v8m1 -7v9m1 -9v10m1 -7v7m1 -6v7m1 -11v11m1 -13v14m1 -14v14m1 -11v11m1 -11v5m1 -6v7m1 -7v7m1 -5v6m1 -7v8m1 -8v8m1 -5v6m1 -6v9m1 -7v7m1 -8v7m1 -7v8m1 -9v9m1 -9v6m1 -6v6m1 -5v7m1 -9v9m1 -9v6m1 -6v9m1 -8v8m1 -7v6m1 -6v7m1 -9v9m1 -9v5m1 -4v7m1 -7v7m1 -7v8m1 -8v8m1 -6v5m1 -5v6m1 -7v7m1 -8v8m1 -8v10m1 -11v11m1 -12v10m1 -10v10m1 -9v9m1 -10v10m1 -10v9m1 -6v7m1 -6v6m1 -5v6m1 -7v7m1 -7v5m1 -5v8m1 -8v8m1 -8v6m1 -5v5m1 -5v5m1 -5v5m1 -3v4m1 -5v5m1 -6v6m1 -7v9m1 -9v9m1 -9v7m1 -7v7m1 -7v5m1 -5v7m1 -7v7m1 -7v8m1 -8v9m1 -9v9m1 -9v8m1 -6v6m1 -5v3m1 -3v4m1 -4v6m1 -8v10m1 -10v10m1 -10v5m1 -5v4m1 -4v6m1 -6v6m1 -7v5m1 -5v9m1 -10v10m1 -10v9m1 -7v6m1 -5v5m1 -5v6m1 -7v7m1 -7v8m1 -8v8m1 -8v7m1 -7v7m1 -8v7m1 -7v7m1 -6v7m1 -8v8m1 -8v9m1 -11v11m1 -11v10m1 -8v10m1 -8v8m1 -8v8m1 -10v11m1 -11v11m1 -10v6m1 -9v9m1 -9v9m1 -5v5m1 -5v5m1 -5v5m1 -4v6m1 -6v6m1 -6v6m1 -6v4m1 -4v4m1 -4v4m1 -4v4m1 -6v6m1 -6v6m1 -5v5m1 -6v6m1 -6v7m1 -8v9m1 -9v9m1 -9v9m1 -9v9m1 -9v11m1 -9v9m1 -9v7m1 -7v5m1 -5v5m1 -6v9m1 -9v10m1 -8v8m1 -9v9m1 -9v6m1 -5v6m1 -6v7m1 -7v7m1 -6v4m1 -4v4m1 -6v6m1 -7v7m1 -7v7m1 -5v5m1 -4v5m1 -5v6m1 -8v10m1 -10v10m1 -10v9m1 -9v7m1 -7v7m1 -7v8m1 -4v5m1 -7v8m1 -8v8m1 -10v5m1 -5v8m1 -11v11m1 -11v9m1 -5v5m1 -5v5m1 -6v7m1 -7v7m1 -6v5m1 -6v8m1 -8v10m1 -9v9m1 -8v7m1 -7v8m1 -8v8m1 -8v7m1 -9v9m1 -9v9m1 -9v9m1 -8v7m1 -8v9m1 -9v9m1 -9v8m1 -5v6m1 -6v6m1 -9v7m1 -7v8m1 -7v8m1 -7v7m1 -7v7m1 -7v7m1 -7v7m1 -7v5m1 -5v5m1 -5v7m1 -6v6m1 -10v10m1 -10v9m1 -4v4m1 -6v7m1 -7v7m1 -7v6m1 -6v8m1 -10v10m1 -10v9m1 -8v7m1 -8v8m1 -8v8m1 -8v9m1 -10v10m1 -10v8m1 -5v10m1 -13v13m1 -13v10m1 -6v7m1 -7v7m1 -8v6m1 -6v6m1 -4v4m1 -5v4m1 -5v6m1 -6v8m1 -7v7m1 -9v9m1 -9v8m1 -8v8m1 -8v8m1 -7v9m1 -10v10m1 -10v6m1 -6v10m1 -7v7m1 -7v7m1 -9v8m1 -8v7m1 -7v7m1 -8v8m1 -8v8m1 -7v8m1 -7v8m1 -8v8m1 -9v7m1 -7v7m1 -8v8m1 -8v7m1 -6v8m1 -6v7m1 -8v8m1 -8v7m1 -7v6m1 -6v5m1 -5v7m1 -5v5m1 -4v6m1 -9v9m1 -9v7m1 -6v5m1 -5v5m1 -6v5m1 -6v9m1 -9v9m1 -6v5m1 -4v5m1 -7v7m1 -7v7m1 -7v5m1 -5v4m1 -5v5m1 -5v8m1 -7v8m1 -6v6m1 -6v5m1 -5v4m1 -4v4m1 -4v4m1 -5v4m1 -4v6m1 -6v6m1 -5v6m1 -6v6m1 -10v10m1 -11v11m1 -11v7m1 -5v8m1 -7v8m1 -8v9m1 -8v9m1 -9v9m1 -10v8m1 -8v7m1 -7v7m1 -5v5m1 -7v6m1 -7v6m1 -6v10m1 -7v7m1 -11v10m1 -10v9m1 -5v7m1 -9v9m1 -9v8m1 -6v6m1 -6v9m1 -9v9m1 -9v6m1 -6v7m1 -8v8m1 -8v8m1 -7v5m1 -5v7m1 -6v6m1 -5v6m1 -8v9m1 -9v9m1 -8v6m1 -6v10m1 -9v9m1 -12v11m1 -11v10m1 -9v9m1 -6v5m1 -7v7m1 -7v8m1 -8v10m1 -11v11m1 -11v6m1 -4v7m1 -7v8m1 -6v6m1 -10v9m1 -9v9m1 -11v10m1 -10v11m1 -5v5m1 -8v8m1 -8v7m1 -8v6m1 -6v6m1 -4v7m1 -6v6m1 -9v8m1 -8v8m1 -8v6m1 -4v4m1 -3v6m1 -8v8m1 -8v8m1 -8v8m1 -8v6m1 -7v11m1 -11v11m1 -11v10m1 -8v5m1 -5v4m1 -4v6m1 -6v6m1 -6v5m1 -5v6m1 -5v5m1 -5v5m1 -6v5m1 -5v6m1 -6v8m1 -6v6m1 -5v6m1 -7v7m1 -7v7m1 -6v6m1 -10v9m1 -9v9m1 -8v9m1 -7v7m1 -6v6m1 -6v6m1 -6v6m1 -6v6m1 -6v6m1 -6v6m1 -5v5m1 -5v7m1 -10v10m1 -10v5m1 -4v4m1 -4v5m1 -5v5m1 -5v8m1 -7v7m1 -10v7m1 -7v8m1 -8v10m1 -9v9m1 -9v9m1 -9v7m1 -7v7m1 -7v7m1 -6v6m1 -6v7m1 -5v5m1 -9v8m1 -8v6m1 -7v9m1 -9v11m1 -10v10m1 -10v9m1 -9v9m1 -8v8m1 -8v7m1 -7v7m1 -8v6m1 -6v9m1 -8v9m1 -10v10m1 -10v6m1 -5v6m1 -5v5m1 -5v5m1 -6v5m1 -5v5m1 -4v7m1 -7v8m1 -11v11m1 -11v5m1 -4v6m1 -5v5m1 -5v6m1 -7v7m1 -7v6m1 -9v9m1 -9v9m1 -7v6m1 -4v4m1 -6v6m1 -6v8m1 -8v8m1 -8v5m1 -6v6m1 -6v8m1 -7v8m1 -8v8m1 -6v6m1 -9v9m1 -9v9m1 -6v6m1 -6v7m1 -6v7m1 -7v7m1 -7v8m1 -7v7m1 -7v6m1 -5v4m1 -3v5m1 -6v8m1 -8v8m1 -7v6m1 -5v5m1 -7v7m1 -7v8m1 -6v6m1 -6v6m1 -8v8m1 -8v8m1 -10v9m1 -9v9m1 -8v7m1 -4v5m1 -6v6m1 -7v7m1 -7v7m1 -7v5m1 -5v6m1 -5v6m1 -7v7m1 -8v10m1 -10v10m1 -9v7m1 -6v6m1 -6v5m1 -6v6m1 -6v7m1 -7v7m1 -7v12m1 -12v12m1 -13v10m1 -10v11m1 -10v10m1 -10v5m1 -5v5m1 -5v5m1 -5v8m1 -8v9m1 -8v8m1 -8v8m1 -9v8m1 -8v8m1 -6v6m1 -8v7m1 -7v8m1 -7v7m1 -7v6m1 -6v5m1 -4v8m1 -8v9m1 -9v9m1 -9v8m1 -8v8m1 -8v8m1 -8v5m1 -4v4m1 -4v7m1 -7v7m1 -8v10m1 -11v11m1 -13v8m1 -8v8m1 -7v9m1 -7v7m1 -7v8m1 -7v7m1 -7v6m1 -8v8m1 -9v8m1 -8v8m1 -6v5m1 -7v7m1 -7v7m1 -5v5m1 -5v7m1 -6v6m1 -8v7m1 -7v7m1 -7v7m1 -7v6m1 -4v6m1 -6v6m1 -7v6m1 -6v6m1 -5v4m1 -8v11m1 -11v11m1 -9v7m1 -7v7m1 -7v9m1 -9v9m1 -9v7m1 -6v6m1 -7v7m1 -7v7m1 -5v5m1 -8v8m1 -8v7m1 -5v6m1 -7v8m1 -8v8m1 -8v10m1 -9v9m1 -9v7m1 -6v5m1 -5v4m1 -4v5m1 -6v6m1 -7v7m1 -7v7m1 -7v7m1 -7v8m1 -5v5m1 -7v6m1 -6v6m1 -6v5m1 -6v9m1 -9v9m1 -9v6m1 -6v7m1 -8v8m1 -8v8m1 -6v6m1 -4v4m1 -5v5m1 -6v8m1 -8v8m1 -7v6m1 -8v6m1 -6v6m1 -6v6m1 -6v5m1 -7v7m1 -7v5m1 -4v4m1 -4v3m1 -7v6m1 -7v7m1 -7v8m1 -11v11m1 -11v7m1 -6v6m1 -6v6m1 -9v7m1 -7v7m1 -10v9m1 -9v7m1 -8v8m1 -9v9m1 -9v9m1 -11v8m1 -8v8m1 -8v7m1 -10v10m1 -10v9m1 -6v6m1 -6v6m1 -6v5m1 -5v6m1 -7v8m1 -8v8m1 -5v5m1 -6v6m1 -6v6m1 -6v7m1 -4v4m1 -4v5m1 -8v9m1 -9v9m1 -8v7m1 -7v9m1 -5v5m1 -4v5m1 -4v4m1 -4v4m1 -5v5m1 -5v4m1 -5v7m1 -7v9m1 -5v7m1 -7v7m1 -9v9m1 -9v9m1 -7v8m1 -11v11m1 -11v7m1 -5v7m1 -6v6m1 -6v6m1 -6v5m1 -4v4m1 -3v6m1 -6v6m1 -6v6m1 -7v7m1 -7v7m1 -6v5m1 -5v6m1 -6v7m1 -6v7m1 -9v9m1 -9v8m1 -5v6m1 -6v10m1 -10v10m1 -10v5m1 -5v5m1 -4v5m1 -7v7m1 -8v7m1 -7v11m1 -8v8m1 -7v6m1 -7v7m1 -7v7m1 -7v7m1 -7v7m1 -6v6m1 -6v6m1 -5v6m1 -5v5m1 -5v6m1 -7v7m1 -8v9m1 -9v9m1 -9v7m1 -5v6m1 -7v7m1 -7v6m1 -6v6m1 -6v8m1 -8v8m1 -8v5m1 -5v6m1 -8v9m1 -9v11m1 -11v11m1 -8v7m1 -7v6m1 -5v4m1 -5v6m1 -6v8m1 -7v7m1 -7v8m1 -7v7m1 -9v7m1 -8v8m1 -8v7m1 -5v6m1 -4v6m1 -7v7m1 -7v7m1 -8v8m1 -8v7m1 -7v7m1 -7v7m1 -6v6m1 -6v6m1 -7v7m1 -7v7m1 -7v8m1 -5v8m1 -8v8m1 -10v9m1 -10v9m1 -9v7m1 -7v7m1 -7v8m1 -7v7m1 -3v3m1 -6v6m1 -7v6m1 -6v6m1 -3v6m1 -5v5m1 -6v6m1 -6v6m1 -7v6m1 -6v5m1 -6v6m1 -8v8m1 -8v10m1 -6v6m1 -6v6m1 -6v6m1 -6v7m1 -5v5m1 -7v5m1 -5v7m1 -5v5m1 -4v4m1 -5v5m1 -5v5m1 -5v5m1 -5v5m1 -6v6m1 -6v5m1 -6v6m1 -6v7m1 -8v8m1 -8v9m1 -5v5m1 -6v6m1 -7v7m1 -7v6m1 -2v4m1 -5v5m1 -7v7m1 -7v6m1 -6v7m1 -10v10m1 -10v10m1 -7v8m1 -7v7m1 -7v6m1 -7v8m1 -8v8m1 -8v7m1 -7v7m1 -6v6m1 -6v6m1 -4v4m1 -6v8m1 -8v8m1 -8v6m1 -5v5m1 -5v5m1 -7v6m1 -7v7m1 -7v6m1 -4v4m1 -3v4m1 -4v4m1 -4v3m1 -3v6m1 -6v6m1 -8v7m1 -10v10m1 -10v10m1 -10v10m1 -7v6m1 -5v7m1 -7v8m1 -6v6m1 -8v6m1 -6v6m1 -6v7m1 -10v12m1 -12v12m1 -9v6m1 -3v5m1 -5v5m1 -5v2m1 -2v4m1 -6v6m1 -6v7m1 -6v6m1 -6v7m1 -8v8m1 -8v6m1 -8v11m1 -11v11m1 -9v6m1 -4v4m1 -8v8m1 -8v9m1 -6v6m1 -5v5m1 -7v7m1 -7v5m1 -4v5m1 -6v6m1 -6v6m1 -5v5m1 -5v4m1 -4v5m1 -4v5m1 -6v6m1 -6v5m1 -6v6m1 -6v7m1 -7v7m1 -6v6m1 -7v8m1 -8v11m1 -9v9m1 -9v6m1 -6v6m1 -6v6m1 -5v5m1 -6v6m1 -6v7m1 -7v7m1 -7v5m1 -5v5"/>
<path stroke="#000" d="M329.5 717v9m1 -9v6m1 -5v5m1 -5v5m1 -9v12m1 -12v12m1 -8v9m1 -7v7m1 -11v10m1 -11v10m1 -10v9m1 -7v7m1 -7v7m1 -9v9m1 -10v9m1 -9v8m1 -6v6m1 -8v7m1 -7v7m1 -8v8m1 -9v6m1 -10v9m1 -12v11m1 -13v7m1 -7v7m1 -16v15m1 -15v15m1 -15v10m1 -8v10m1 -10v10m1 -13v8m1 -13v10m1 -10v9m1 -10v10m1 -11v10m1 -10v9m1 -9v9m1 -9v6m1 -11v10m1 -10v8m1 -12v12m1 -12v12m1 -11v10m1 -12v12m1 -12v7m1 -6v6m1 -10v10m1 -10v9m1 -10v10m1 -10v12m1 -11v11m1 -13v7m1 -13v10m1 -10v16m1 -12v12m1 -13v7m1 -9v9m1 -9v12m1 -9v9m1 -9v7m1 -7v7m1 -7v5m1 -5v5m1 -5v13m1 -13v13m1 -16v16m1 -16v16m1 -16v13m1 -11v12m1 -12v12m1 -8v8m1 -5v8m1 -8v15m1 -9v10m1 -6v6m1 -10v10m1 -10v14m1 -6v8m1 -6v11m1 -9v9m1 -11v13m1 -13v14m1 -12v12m1 -6v7m1 -7v8m1 -4v11m1 -13v13m1 -13v12m1 -7v9m1 -6v8m1 -8v9m1 -9v13m1 -12v14m1 -14v14m1 -13v14m1 -10v11m1 -9v9m1 -8v7m1 -6v7m1 -7v9m1 -6v7m1 -6v7m1 -4v6m1 -5v5m1 -9v12m1 -12v12m1 -10v10m1 -6v8m1 -12v13m1 -13v16m1 -10v13m1 -14v14m1 -14v12m1 -7v9m1 -9v9m1 -8v8m1 -7v7m1 -5v6m1 -6v6m1 -6v7m1 -7v10m1 -8v8m1 -3v7m1 -8v8m1 -12v10m1 -10v9m1 -4v5m1 -7v7m1 -7v8m1 -6v9m1 -8v9m1 -10v10m1 -10v10m1 -10v10m1 -9v10m1 -12v12m1 -12v12m1 -12v14m1 -13v13m1 -13v11m1 -11v13m1 -6v6m1 -6v5m1 -5v10m1 -8v8m1 -8v8m1 -9v8m1 -8v8m1 -5v5m1 -4v5m1 -6v6m1 -6v9m1 -7v7m1 -7v6m1 -9v9m1 -9v10m1 -10v11m1 -11v11m1 -10v10m1 -8v8m1 -7v12m1 -14v14m1 -14v11m1 -8v9m1 -9v9m1 -9v5m1 -5v11m1 -10v10m1 -10v10m1 -9v9m1 -8v6m1 -10v10m1 -10v8m1 -5v6m1 -6v11m1 -11v11m1 -14v11m1 -11v11m1 -9v10m1 -7v10m1 -10v10m1 -7v7m1 -9v7m1 -8v7m1 -7v9m1 -7v8m1 -7v7m1 -8v8m1 -8v8m1 -9v9m1 -9v12m1 -9v9m1 -9v8m1 -9v6m1 -6v4m1 -4v6m1 -6v6m1 -5v16m1 -16v17m1 -14v14m1 -14v6m1 -6v8m1 -15v15m1 -15v14m1 -6v7m1 -7v8m1 -11v11m1 -12v8m1 -8v8m1 -6v8m1 -8v8m1 -6v9m1 -7v7m1 -7v11m1 -14v14m1 -15v15m1 -15v15m1 -14v10m1 -10v9m1 -9v10m1 -10v10m1 -9v9m1 -9v9m1 -9v9m1 -9v9m1 -9v9m1 -7v7m1 -6v8m1 -8v8m1 -8v6m1 -6v6m1 -6v11m1 -12v12m1 -13v8m1 -8v9m1 -6v8m1 -7v7m1 -7v7m1 -7v8m1 -8v8m1 -7v7m1 -7v6m1 -5v5m1 -9v9m1 -9v10m1 -8v8m1 -7v6m1 -6v10m1 -8v8m1 -11v9m1 -9v8m1 -6v6m1 -6v12m1 -13v13m1 -13v8m1 -7v6m1 -6v6m1 -6v6m1 -6v7m1 -8v8m1 -10v8m1 -8v9m1 -4v9m1 -9v9m1 -9v8m1 -8v5m1 -6v7m1 -7v9m1 -9v9m1 -8v7m1 -7v9m1 -8v8m1 -12v9m1 -9v10m1 -9v9m1 -9v10m1 -6v6m1 -7v6m1 -6v4m1 -8v9m1 -9v9m1 -8v7m1 -5v9m1 -9v9m1 -10v9m1 -11v9m1 -9v12m1 -7v7m1 -8v7m1 -7v9m1 -9v9m1 -11v10m1 -10v8m1 -8v9m1 -4v4m1 -4v6m1 -10v10m1 -10v10m1 -8v8m1 -9v6m1 -7v7m1 -7v6m1 -6v8m1 -7v7m1 -7v7m1 -4v4m1 -7v7m1 -7v8m1 -9v9m1 -9v9m1 -6v8m1 -6v7m1 -7v7m1 -10v7m1 -7v8m1 -6v8m1 -8v8m1 -8v8m1 -9v8m1 -9v12m1 -12v12m1 -10v10m1 -10v6m1 -6v6m1 -6v6m1 -7v7m1 -9v8m1 -8v13m1 -14v14m1 -14v12m1 -9v8m1 -8v9m1 -11v11m1 -11v13m1 -6v6m1 -6v6m1 -9v8m1 -10v9m1 -9v12m1 -12v12m1 -13v11m1 -11v7m1 -5v5m1 -7v11m1 -11v11m1 -7v7m1 -9v9m1 -12v11m1 -11v11m1 -5v5m1 -7v7m1 -9v8m1 -10v11m1 -11v11m1 -9v8m1 -7v7m1 -8v8m1 -8v9m1 -8v8m1 -8v9m1 -9v9m1 -9v7m1 -7v7m1 -7v7m1 -7v8m1 -7v7m1 -7v7m1 -7v7m1 -7v7m1 -7v8m1 -7v8m1 -8v8m1 -11v6m1 -7v7m1 -7v9m1 -6v6m1 -6v13m1 -14v14m1 -14v10m1 -10v12m1 -13v13m1 -13v10m1 -9v10m1 -9v9m1 -9v9m1 -8v8m1 -7v5m1 -4v4m1 -6v6m1 -6v6m1 -5v6m1 -7v7m1 -7v6m1 -6v6m1 -6v7m1 -5v7m1 -8v8m1 -11v11m1 -11v9m1 -7v9m1 -9v13m1 -7v7m1 -11v10m1 -11v8m1 -10v12m1 -12v14m1 -13v13m1 -13v7m1 -7v7m1 -7v8m1 -8v9m1 -7v7m1 -6v8m1 -11v11m1 -12v12m1 -12v12m1 -11v10m1 -7v7m1 -7v6m1 -7v5m1 -5v8m1 -8v8m1 -8v8m1 -7v7m1 -7v7m1 -9v9m1 -9v6m1 -5v6m1 -6v7m1 -7v7m1 -7v7m1 -6v7m1 -8v9m1 -9v9m1 -9v9m1 -8v8m1 -8v7m1 -8v8m1 -8v7m1 -6v6m1 -6v6m1 -10v9m1 -9v9m1 -6v6m1 -6v5m1 -5v8m1 -7v7m1 -7v10m1 -11v11m1 -12v8m1 -8v8m1 -8v8m1 -9v8m1 -8v10m1 -10v10m1 -10v12m1 -12v12m1 -12v9m1 -7v6m1 -5v6m1 -6v8m1 -7v7m1 -11v11m1 -11v11m1 -11v9m1 -5v5m1 -7v7m1 -7v7m1 -7v7m1 -6v6m1 -6v6m1 -6v8m1 -7v7m1 -9v7m1 -7v6m1 -4v6m1 -6v6m1 -10v8m1 -8v10m1 -8v8m1 -11v9m1 -9v10m1 -9v9m1 -6v6m1 -7v7m1 -7v8m1 -7v7m1 -9v8m1 -8v6m1 -6v8m1 -7v11m1 -11v11m1 -11v8m1 -7v6m1 -5v6m1 -9v9m1 -9v8m1 -8v9m1 -6v6m1 -6v6m1 -6v7m1 -7v11m1 -10v10m1 -10v7m1 -8v10m1 -15v15m1 -15v14m1 -5v9m1 -14v14m1 -14v10m1 -11v11m1 -11v7m1 -6v7m1 -5v5m1 -5v6m1 -4v4m1 -5v5m1 -5v5m1 -5v5m1 -4v4m1 -5v5m1 -8v8m1 -8v9m1 -9v11m1 -9v9m1 -9v7m1 -6v4m1 -6v8m1 -8v11m1 -9v9m1 -9v8m1 -7v9m1 -9v9m1 -9v4m1 -4v5m1 -5v7m1 -5v6m1 -7v7m1 -8v8m1 -8v8m1 -9v8m1 -8v6m1 -5v6m1 -4v4m1 -4v7m1 -8v8m1 -8v9m1 -10v10m1 -10v4m1 -4v8m1 -8v8m1 -5v5m1 -5v4m1 -4v11m1 -13v13m1 -13v12m1 -12v6m1 -7v7m1 -7v7m1 -7v7m1 -9v11m1 -11v11m1 -9v7m1 -7v7m1 -5v5m1 -7v7m1 -7v7m1 -7v8m1 -8v8m1 -8v10m1 -7v7m1 -8v7m1 -8v9m1 -9v9m1 -8v10m1 -9v9m1 -10v8m1 -9v8m1 -10v9m1 -9v9m1 -5v7m1 -7v7m1 -7v7m1 -7v10m1 -9v9m1 -12v12m1 -12v9m1 -7v11m1 -14v14m1 -14v11m1 -8v6m1 -5v6m1 -7v7m1 -7v8m1 -9v9m1 -9v7m1 -7v7m1 -5v5m1 -6v9m1 -11v11m1 -11v6m1 -5v6m1 -6v6m1 -6v6m1 -8v11m1 -11v11m1 -11v9m1 -6v8m1 -9v10m1 -10v10m1 -10v6m1 -6v6m1 -6v7m1 -7v7m1 -8v6m1 -7v11m1 -11v11m1 -12v9m1 -9v9m1 -6v6m1 -6v5m1 -4v6m1 -6v7m1 -6v7m1 -6v6m1 -11v9m1 -9v10m1 -8v8m1 -8v10m1 -10v10m1 -10v8m1 -8v8m1 -6v6m1 -7v7m1 -7v9m1 -8v8m1 -8v7m1 -7v6m1 -5v6m1 -6v6m1 -7v11m1 -11v11m1 -9v8m1 -8v8m1 -10v8m1 -8v9m1 -11v11m1 -11v9m1 -7v7m1 -9v8m1 -8v8m1 -5v5m1 -8v9m1 -9v9m1 -8v6m1 -5v5m1 -6v7m1 -7v8m1 -8v8m1 -8v6m1 -5v8m1 -7v7m1 -8v8m1 -8v8m1 -8v7m1 -8v8m1 -11v10m1 -10v9m1 -7v7m1 -7v7m1 -10v10m1 -10v10m1 -7v6m1 -8v8m1 -8v8m1 -9v9m1 -9v11m1 -14v14m1 -14v10m1 -7v9m1 -7v7m1 -11v9m1 -10v11m1 -11v11m1 -10v10m1 -7v7m1 -9v7m1 -7v6m1 -8v8m1 -8v9m1 -9v10m1 -9v9m1 -9v9m1 -9v9m1 -10v6m1 -6v7m1 -7v8m1 -8v8m1 -7v7m1 -8v9m1 -9v9m1 -8v8m1 -9v9m1 -9v9m1 -11v9m1 -9v7m1 -8v8m1 -8v6m1 -4v5m1 -5v6m1 -7v7m1 -10v10m1 -10v9m1 -7v7m1 -9v7m1 -7v6m1 -6v7m1 -5v7m1 -7v7m1 -10v9m1 -10v9m1 -9v8m1 -8v8m1 -8v6m1 -7v7m1 -7v7m1 -6v5m1 -5v11m1 -9v11m1 -13v13m1 -13v9m1 -8v10m1 -4v4m1 -4v4m1 -4v6m1 -5v5m1 -5v6m1 -7v7m1 -7v6m1 -6v11m1 -9v9m1 -8v5m1 -7v7m1 -7v12m1 -10v10m1 -8v10m1 -6v6m1 -6v8m1 -10v10m1 -10v9m1 -6v7m1 -7v10m1 -10v10m1 -10v9m1 -4v5m1 -8v8m1 -8v9m1 -8v10m1 -7v7m1 -7v6m1 -8v8m1 -8v11m1 -11v11m1 -10v6m1 -6v6m1 -5v5m1 -6v8m1 -8v14m1 -13v13m1 -13v7m1 -7v7m1 -7v7m1 -7v7m1 -5v5m1 -5v5m1 -5v5m1 -6v6m1 -9v9m1 -9v6m1 -4v8m1 -7v7m1 -8v8m1 -8v7m1 -5v5m1 -6v5m1 -5v6m1 -6v8m1 -9v9m1 -9v9m1 -9v9m1 -9v9m1 -9v8m1 -8v8m1 -9v9m1 -11v11m1 -11v12m1 -7v7m1 -6v6m1 -6v5m1 -6v6m1 -6v8m1 -8v8m1 -10v8m1 -8v6m1 -4v8m1 -8v8m1 -9v10m1 -10v10m1 -9v8m1 -5v6m1 -6v8m1 -8v8m1 -8v7m1 -8v7m1 -7v9m1 -10v10m1 -14v15m1 -15v17m1 -12v12m1 -12v8m1 -6v6m1 -6v6m1 -6v9m1 -9v9m1 -9v7m1 -7v6m1 -5v5m1 -5v5m1 -7v8m1 -8v8m1 -8v10m1 -10v10m1 -6v7m1 -8v8m1 -12v12m1 -12v9m1 -7v7m1 -6v5m1 -5v7m1 -7v7m1 -7v7m1 -6v6m1 -6v6m1 -7v7m1 -8v8m1 -8v8m1 -7v6m1 -8v9m1 -9v10m1 -9v9m1 -5v4m1 -4v4m1 -5v4m1 -4v5m1 -4v5m1 -5v5m1 -7v7m1 -8v7m1 -7v6m1 -5v6m1 -8v8m1 -8v8m1 -6v7m1 -7v7m1 -6v5m1 -5v7m1 -7v7m1 -7v9m1 -11v11m1 -11v11m1 -11v9m1 -9v9m1 -9v11m1 -9v9m1 -11v9m1 -9v10m1 -6v6m1 -7v6m1 -6v8m1 -8v8m1 -8v8m1 -6v6m1 -9v9m1 -10v8m1 -8v7m1 -6v7m1 -7v7m1 -6v6m1 -6v5m1 -4v6m1 -7v7m1 -8v8m1 -9v9m1 -9v5m1 -5v10m1 -13v13m1 -13v11m1 -8v9m1 -6v6m1 -7v6m1 -6v6m1 -6v8m1 -8v8m1 -8v5m1 -6v6m1 -6v7m1 -6v8m1 -8v8m1 -10v9m1 -9v8m1 -7v9m1 -11v11m1 -11v11m1 -7v8m1 -10v10m1 -10v9m1 -8v5m1 -5v8m1 -6v6m1 -9v8m1 -8v8m1 -8v11m1 -10v10m1 -10v8m1 -8v8m1 -7v5m1 -7v6m1 -6v7m1 -5v5m1 -5v6m1 -6v6m1 -6v8m1 -10v10m1 -10v7m1 -6v10m1 -11v11m1 -11v11m1 -10v10m1 -10v8m1 -9v9m1 -9v7m1 -5v7m1 -6v6m1 -8v7m1 -10v10m1 -10v7m1 -4v9m1 -9v9m1 -8v8m1 -6v4m1 -4v5m1 -6v6m1 -6v5m1 -7v6m1 -7v7m1 -7v8m1 -6v6m1 -5v4m1 -5v7m1 -7v7m1 -7v6m1 -4v4m1 -6v7m1 -7v8m1 -7v7m1 -6v8m1 -8v8m1 -9v8m1 -8v6m1 -10v10m1 -10v13m1 -11v11m1 -11v10m1 -8v8m1 -10v8m1 -8v9m1 -8v8m1 -8v10m1 -8v8m1 -10v10m1 -10v7m1 -5v5m1 -7v7m1 -7v7m1 -9v9m1 -9v10m1 -6v6m1 -6v7m1 -7v10m1 -10v10m1 -10v8m1 -9v9m1 -9v8m1 -6v4m1 -4v7m1 -7v7m1 -8v6m1 -6v7m1 -6v6m1 -6v7m1 -6v6m1 -7v7m1 -7v6m1 -6v6m1 -6v7m1 -7v7m1 -7v9m1 -8v8m1 -8v6m1 -6v4m1 -3v3m1 -4v7m1 -7v7m1 -8v6m1 -6v7m1 -7v8m1 -7v7m1 -7v5m1 -5v4m1 -4v4m1 -6v6m1 -6v7m1 -7v9m1 -10v10m1 -10v10m1 -9v9m1 -8v8m1 -6v8m1 -10v10m1 -10v10m1 -10v7m1 -6v5m1 -4v5m1 -5v7m1 -7v7m1 -6v6m1 -7v5m1 -5v4m1 -3v6m1 -8v8m1 -9v9m1 -9v7m1 -5v5m1 -5v5m1 -5v6m1 -6v6m1 -6v6m1 -5v6m1 -4v4m1 -9v9m1 -9v9m1 -9v9m1 -9v7m1 -6v6m1 -6v8m1 -6v6m1 -5v4m1 -5v8m1 -10v10m1 -10v10m1 -9v9m1 -8v8m1 -9v7m1 -8v6m1 -6v7m1 -6v7m1 -5v8m1 -11v11m1 -11v11m1 -8v8m1 -10v7m1 -7v7m1 -5v5m1 -5v5m1 -5v4m1 -3v5m1 -8v8m1 -8v10m1 -10v10m1 -8v8m1 -8v8m1 -9v9m1 -9v7m1 -7v7m1 -7v6m1 -6v8m1 -7v7m1 -7v5m1 -4v4m1 -5v5m1 -6v5m1 -5v6m1 -4v5m1 -7v7m1 -7v8m1 -9v9m1 -9v8m1 -7v7m1 -5v6m1 -6v6m1 -4v3m1 -6v6m1 -6v8m1 -9v9m1 -9v9m1 -9v5m1 -6v8m1 -8v8m1 -7v7m1 -6v6m1 -6v6m1 -6v7m1 -7v7m1 -7v8m1 -9v9m1 -9v9m1 -10v9m1 -9v9m1 -7v5m1 -4v5m1 -4v5m1 -5v5m1 -4v4m1 -4v4m1 -3v4m1 -6v6m1 -6v6m1 -7v6m1 -6v7m1 -6v6m1 -6v6m1 -5v4m1 -4v6m1 -7v7m1 -7v7m1 -6v6m1 -7v5m1 -5v8m1 -10v10m1 -10v7m1 -10v9m1 -9v10m1 -9v11m1 -6v7m1 -9v9m1 -11v11m1 -11v10m1 -6v6m1 -6v6m1 -6v6m1 -6v6m1 -6v8m1 -9v9m1 -9v5m1 -4v4m1 -4v4m1 -6v9m1 -9v9m1 -5v5m1 -6v6m1 -6v6m1 -6v6m1 -6v6m1 -8v7m1 -7v7m1 -6v5m1 -5v6m1 -8v8m1 -8v8m1 -11v11m1 -11v10m1 -9v11m1 -6v6m1 -7v7m1 -7v8m1 -8v8m1 -8v6m1 -4v4m1 -6v6m1 -6v6m1 -5v5m1 -4v5m1 -6v6m1 -6v7m1 -6v6m1 -9v9m1 -9v8m1 -9v10m1 -10v11m1 -7v7m1 -7v5m1 -6v6m1 -8v13m1 -13v13m1 -10v7m1 -10v8m1 -8v12m1 -10v10m1 -10v7m1 -7v9m1 -9v9m1 -7v6m1 -6v6m1 -6v5m1 -5v5m1 -8v9m1 -9v9m1 -8v6m1 -6v8m1 -7v7m1 -6v5m1 -5v4m1 -3v4m1 -6v6m1 -6v6m1 -8v9m1 -9v10m1 -8v8m1 -8v6m1 -6v7m1 -5v5m1 -7v8m1 -8v8m1 -8v8m1 -6v6m1 -6v4m1 -4v6m1 -7v9m1 -9v9m1 -10v7m1 -7v9m1 -7v7m1 -5v4m1 -5v6m1 -6v6m1 -8v6m1 -6v5m1 -3v6m1 -7v7m1 -7v8m1 -8v8m1 -7v7m1 -6v6m1 -13v13m1 -13v13m1 -7v7m1 -8v8m1 -8v7m1 -5v6m1 -8v8m1 -9v11m1 -11v11m1 -10v9m1 -10v7m1 -7v7m1 -7v7m1 -6v5m1 -8v9m1 -9v9m1 -9v8m1 -4v8m1 -6v6m1 -10v10m1 -10v8m1 -7v8m1 -7v7m1 -5v4m1 -6v6m1 -6v8m1 -6v6m1 -10v9m1 -9v8m1 -7v7m1 -7v8m1 -8v8m1 -5v4m1 -5v5m1 -5v4m1 -4v6m1 -6v7m1 -7v7m1 -9v7m1 -7v9m1 -9v9m1 -9v9m1 -8v8m1 -8v8m1 -7v7m1 -7v5m1 -5v8m1 -10v12m1 -12v12m1 -10v5m1 -6v8m1 -8v9m1 -8v8m1 -9v6m1 -6v6m1 -6v7m1 -7v7m1 -7v7m1 -5v9m1 -12v12m1 -12v12m1 -10v6m1 -6v8m1 -6v6m1 -5v5m1 -6v6m1 -7v5m1 -5v7m1 -7v7m1 -5v5m1 -6v6m1 -6v5m1 -5v5m1 -5v5m1 -7v7m1 -7v7m1 -7v11m1 -10v10m1 -10v6m1 -7v7m1 -7v8m1 -6v6m1 -6v6m1 -7v7m1 -8v9m1 -9v9m1 -7v7m1 -6v6m1 -6v9m1 -11v11m1 -11v9m1 -8v7m1 -7v7m1 -7v7m1 -7v6m1 -6v7m1 -7v7m1 -7v7m1 -6v5m1 -5v5m1 -4v3m1 -5v6m1 -7v7m1 -7v8m1 -7v7m1 -9v7m1 -7v7m1 -6v7m1 -5v6m1 -8v8m1 -8v9m1 -9v9m1 -9v8m1 -6v6m1 -7v7m1 -7v6m1 -6v5m1 -5v6m1 -6v6m1 -5v3m1 -4v7m1 -8v8m1 -8v4m1 -4v5m1 -6v8m1 -8v8m1 -7v8m1 -9v10m1 -11v11m1 -11v10m1 -12v12m1 -12v8m1 -4v8m1 -8v8m1 -8v7m1 -7v8m1 -6v6m1 -9v7m1 -7v9m1 -9v9m1 -9v7m1 -6v6m1 -6v6m1 -6v6m1 -8v8m1 -8v8m1 -8v10m1 -10v10m1 -9v5m1 -5v7m1 -7v8m1 -6v6m1 -9v11m1 -12v12m1 -12v9m1 -5v5m1 -4v4m1 -8v9m1 -9v9m1 -8v7m1 -6v6m1 -8v8m1 -8v8m1 -6v5m1 -4v6m1 -11v11m1 -11v7m1 -7v4m1 -6v7m1 -7v7m1 -8v6m1 -6v5m1 -8v8m1 -8v8m1 -7v5m1 -9v9m1 -9v7m1 -9v8m1 -12v9m1 -10v7m1 -7v9m1 -6v6m1 -9v8m1 -8v7m1 -7v6m1 -6v5m1 -6v6m1 -6v6m1 -5v5m1 -5v4m1 -4v4m1 -5v4m1 -4v8m1 -8v8m1 -8v6m1 -6v6m1 -6v6m1 -5v7m1 -6v6m1 -6v4m1 -6v7m1 -7v9m1 -6v6m1 -6v6m1 -5v6m1 -7v8m1 -8v8m1 -7v8m1 -8v10m1 -5v6m1 -7v8m1 -11v11m1 -11v11m1 -8v8m1 -8v10m1 -9v9m1 -9v7m1 -7v7m1 -6v7m1 -5v5m1 -5v4m1 -4v7m1 -5v6m1 -7v8m1 -8v8m1 -6v6m1 -8v7m1 -7v7m1 -5v6m1 -6v6m1 -9v9m1 -9v9m1 -9v11m1 -7v9m1 -9v9m1 -8v5m1 -4v4m1 -4v4m1 -4v4m1 -4v9m1 -9v9m1 -8v6m1 -7v5m1 -5v9m1 -9v9m1 -9v8m1 -8v8m1 -8v9m1 -8v8m1 -8v8m1 -6v6m1 -6v7m1 -7v7m1 -9v8m1 -8v7m1 -5v6m1 -5v5m1 -5v4m1 -4v4m1 -4v6m1 -5v5m1 -5v5m1 -5v5m1 -3v3m1 -3v4m1 -7v7m1 -7v7m1 -5v6m1 -6v6m1 -7v7m1 -7v7m1 -8v8m1 -8v10m1 -7v7m1 -7v5m1 -5v4m1 -5v6m1 -6v8m1 -8v10m1 -8v8m1 -8v5m1 -5v5m1 -5v6m1 -6v6m1 -6v5m1 -4v5m1 -5v6m1 -5v5m1 -5v6m1 -6v6m1 -6v6m1 -7v5m1 -5v6m1 -6v6m1 -5v5m1 -6v5m1 -5v6m1 -4v4m1 -4v6m1 -7v7m1 -7v4m1 -4v5m1 -4v4m1 -4v7m1 -8v8m1 -8v7m1 -7v7m1 -7v6m1 -5v5m1 -5v5m1 -5v7m1 -8v8m1 -8v8m1 -10v10m1 -10v12m1 -9v9m1 -11v9m1 -9v9m1 -7v7m1 -6v6m1 -7v7m1 -7v7m1 -5v6m1 -7v7m1 -8v8m1 -8v7m1 -7v6m1 -4v6m1 -7v7m1 -7v6m1 -5v6m1 -4v4m1 -6v6m1 -6v7m1 -8v8m1 -10v9m1 -9v8m1 -5v7m1 -7v7m1 -7v7m1 -7v9m1 -7v7m1 -8v8m1 -9v7m1 -7v7m1 -6v6m1 -6v6m1 -6v7m1 -5v5m1 -4v4m1 -4v4m1 -8v9m1 -10v10m1 -10v8m1 -5v5m1 -4v4m1 -4v2m1 -4v5m1 -5v7m1 -6v6m1 -6v4m1 -4v5m1 -6v6m1 -6v7m1 -6v6m1 -6v5m1 -5v5m1 -5v5m1 -5v4m1 -4v5m1 -5v6m1 -9v9m1 -9v9m1 -6v8m1 -8v8m1 -7v7m1 -7v5m1 -4v4m1 -4v4m1 -4v4m1 -4v5m1 -9v9m1 -9v11m1 -10v10m1 -8v6m1 -5v5m1 -7v7m1 -7v7m1 -6v6m1 -8v10m1 -10v10m1 -8v7m1 -4v3m1 -3v3m1 -3v3m1 -5v6m1 -6v6m1 -6v6m1 -7v6m1 -6v7m1 -5v5m1 -7v7m1 -7v6m1 -5v5m1 -5v5m1 -5v7m1 -7v7m1 -9v7m1 -7v7m1 -5v8m1 -6v7m1 -11v11m1 -11v8m1 -7v9m1 -9v9m1 -9v7m1 -6v6m1 -6v5m1 -4v6m1 -9v9m1 -9v8m1 -6v6m1 -5v4m1 -3v3"/>
<path stroke="#00f" d="M329.5 559v9m1 -9v13m1 -13v13m1 -13v13m1 -19v12m1 -12v14m1 -12v12m1 -9v6m1 -12v10m1 -10v10m1 -9v8m1 -9v9m1 -9v8m1 -9v9m1 -9v10m1 -12v12m1 -12v11m1 -9v7m1 -11v11m1 -11v10m1 -9v8m1 -11v11m1 -11v8m1 -9v9m1 -9v9m1 -8v7m1 -7v6m1 -7v8m1 -10v10m1 -11v8m1 -8v8m1 -7v7m1 -12v12m1 -12v12m1 -12v9m1 -9v11m1 -12v12m1 -12v9m1 -8v8m1 -5v5m1 -7v7m1 -7v7m1 -6v6m1 -12v12m1 -12v9m1 -9v9m1 -8v9m1 -8v8m1 -7v7m1 -7v9m1 -8v8m1 -8v6m1 -6v6m1 -7v9m1 -10v10m1 -10v8m1 -9v9m1 -9v10m1 -6v7m1 -9v9m1 -9v11m1 -10v10m1 -10v10m1 -5v10m1 -10v10m1 -10v12m1 -12v15m1 -9v9m1 -8v8m1 -7v11m1 -11v16m1 -14v14m1 -14v10m1 -8v8m1 -7v13m1 -12v12m1 -8v8m1 -8v11m1 -11v11m1 -5v9m1 -8v9m1 -9v11m1 -9v10m1 -8v11m1 -14v14m1 -14v12m1 -7v8m1 -5v8m1 -8v8m1 -8v11m1 -13v13m1 -13v9m1 -5v6m1 -6v8m1 -8v8m1 -8v9m1 -7v9m1 -7v7m1 -6v5m1 -8v7m1 -7v9m1 -8v11m1 -10v12m1 -12v12m1 -11v9m1 -8v8m1 -4v8m1 -8v8m1 -10v9m1 -10v9m1 -9v9m1 -7v6m1 -6v6m1 -4v5m1 -4v9m1 -8v8m1 -8v9m1 -7v7m1 -8v7m1 -7v10m1 -7v7m1 -7v7m1 -8v10m1 -12v12m1 -12v12m1 -8v8m1 -12v11m1 -11v9m1 -5v12m1 -13v13m1 -15v14m1 -14v9m1 -4v7m1 -7v8m1 -11v11m1 -11v11m1 -8v8m1 -9v8m1 -8v10m1 -7v7m1 -7v6m1 -6v6m1 -7v12m1 -12v12m1 -8v8m1 -11v9m1 -10v10m1 -10v12m1 -8v8m1 -8v10m1 -11v11m1 -11v6m1 -6v5m1 -6v9m1 -9v9m1 -3v4m1 -5v8m1 -8v8m1 -11v9m1 -9v5m1 -3v7m1 -6v6m1 -6v8m1 -8v10m1 -11v11m1 -11v9m1 -9v6m1 -7v8m1 -8v10m1 -7v7m1 -5v3m1 -6v6m1 -6v5m1 -6v4m1 -4v8m1 -7v7m1 -5v12m1 -15v15m1 -15v12m1 -11v10m1 -14v12m1 -12v12m1 -7v9m1 -9v9m1 -9v11m1 -9v9m1 -9v7m1 -7v6m1 -6v11m1 -10v10m1 -12v11m1 -11v11m1 -13v13m1 -13v12m1 -11v11m1 -11v12m1 -11v11m1 -8v5m1 -8v6m1 -6v13m1 -13v13m1 -13v11m1 -8v10m1 -9v9m1 -9v9m1 -10v10m1 -12v10m1 -10v10m1 -10v10m1 -10v8m1 -7v7m1 -5v7m1 -6v6m1 -11v11m1 -11v11m1 -7v8m1 -8v12m1 -17v17m1 -17v15m1 -12v7m1 -7v9m1 -6v7m1 -5v7m1 -11v11m1 -11v11m1 -11v10m1 -6v6m1 -6v6m1 -6v4m1 -6v6m1 -6v5m1 -3v5m1 -8v11m1 -14v15m1 -15v15m1 -13v8m1 -7v5m1 -5v8m1 -6v6m1 -10v12m1 -12v13m1 -10v11m1 -8v8m1 -14v13m1 -13v14m1 -8v8m1 -9v6m1 -6v6m1 -9v9m1 -9v11m1 -9v9m1 -8v8m1 -9v8m1 -8v7m1 -5v8m1 -13v13m1 -13v11m1 -6v6m1 -7v7m1 -7v12m1 -7v7m1 -6v5m1 -12v14m1 -14v14m1 -16v10m1 -10v12m1 -8v8m1 -9v8m1 -8v8m1 -8v8m1 -8v10m1 -7v8m1 -8v8m1 -8v9m1 -9v9m1 -9v6m1 -6v7m1 -9v9m1 -11v12m1 -12v12m1 -8v10m1 -10v10m1 -10v11m1 -11v11m1 -10v7m1 -6v8m1 -8v11m1 -11v11m1 -12v9m1 -10v10m1 -10v9m1 -9v9m1 -12v9m1 -9v15m1 -10v10m1 -10v9m1 -11v9m1 -9v5m1 -5v6m1 -4v8m1 -6v6m1 -8v5m1 -6v8m1 -8v8m1 -9v9m1 -9v7m1 -6v6m1 -6v10m1 -11v11m1 -11v11m1 -10v9m1 -8v8m1 -8v5m1 -5v7m1 -6v6m1 -5v4m1 -4v6m1 -9v10m1 -10v10m1 -10v11m1 -11v11m1 -13v12m1 -12v11m1 -8v8m1 -7v7m1 -7v5m1 -9v8m1 -8v13m1 -14v14m1 -14v14m1 -8v8m1 -8v7m1 -9v9m1 -11v11m1 -11v10m1 -6v5m1 -6v6m1 -6v4m1 -4v8m1 -9v9m1 -11v10m1 -10v6m1 -6v7m1 -12v16m1 -16v16m1 -8v6m1 -6v8m1 -11v11m1 -11v9m1 -8v9m1 -8v8m1 -12v12m1 -12v10m1 -8v8m1 -8v8m1 -7v8m1 -8v8m1 -8v8m1 -8v8m1 -8v8m1 -5v5m1 -5v7m1 -10v10m1 -10v6m1 -6v8m1 -8v10m1 -11v12m1 -12v12m1 -12v10m1 -8v11m1 -9v9m1 -11v7m1 -7v5m1 -5v5m1 -4v9m1 -8v9m1 -10v10m1 -10v8m1 -7v7m1 -7v7m1 -6v6m1 -6v8m1 -8v8m1 -7v5m1 -6v6m1 -14v13m1 -13v13m1 -6v6m1 -7v7m1 -7v6m1 -5v6m1 -6v6m1 -5v7m1 -7v8m1 -9v9m1 -10v7m1 -7v7m1 -3v5m1 -11v11m1 -11v11m1 -7v7m1 -8v9m1 -12v12m1 -13v14m1 -14v14m1 -12v10m1 -10v11m1 -7v9m1 -10v10m1 -10v9m1 -9v7m1 -9v8m1 -8v7m1 -6v8m1 -8v8m1 -8v7m1 -7v7m1 -5v5m1 -6v6m1 -6v6m1 -7v6m1 -6v6m1 -8v8m1 -8v11m1 -6v6m1 -6v6m1 -6v6m1 -6v6m1 -8v9m1 -10v10m1 -12v9m1 -9v12m1 -7v7m1 -11v9m1 -9v9m1 -10v11m1 -11v12m1 -9v9m1 -9v6m1 -10v10m1 -10v8m1 -6v11m1 -10v10m1 -10v9m1 -6v5m1 -6v8m1 -11v11m1 -11v6m1 -6v9m1 -7v9m1 -7v8m1 -8v8m1 -7v7m1 -9v5m1 -5v5m1 -6v6m1 -6v5m1 -6v10m1 -10v11m1 -9v9m1 -9v7m1 -6v9m1 -9v9m1 -9v9m1 -9v6m1 -5v4m1 -4v7m1 -9v9m1 -9v5m1 -5v6m1 -6v7m1 -6v6m1 -7v8m1 -8v8m1 -8v9m1 -9v9m1 -11v8m1 -8v8m1 -5v6m1 -8v9m1 -9v9m1 -9v10m1 -10v10m1 -7v6m1 -6v6m1 -6v6m1 -9v9m1 -9v10m1 -7v7m1 -8v7m1 -7v7m1 -6v10m1 -10v10m1 -10v9m1 -9v9m1 -12v8m1 -8v8m1 -7v12m1 -10v10m1 -11v11m1 -11v8m1 -7v7m1 -7v10m1 -8v8m1 -8v6m1 -5v5m1 -12v10m1 -10v10m1 -7v11m1 -9v9m1 -10v8m1 -8v9m1 -12v12m1 -12v10m1 -9v8m1 -8v6m1 -4v8m1 -8v9m1 -9v10m1 -9v9m1 -8v6m1 -7v5m1 -5v5m1 -5v6m1 -6v8m1 -8v8m1 -10v9m1 -9v5m1 -5v10m1 -8v8m1 -8v7m1 -7v6m1 -6v8m1 -8v8m1 -8v6m1 -6v6m1 -6v6m1 -8v8m1 -8v8m1 -8v8m1 -8v9m1 -8v8m1 -9v6m1 -6v8m1 -6v7m1 -6v6m1 -7v8m1 -8v8m1 -9v7m1 -7v9m1 -8v8m1 -8v8m1 -8v9m1 -7v9m1 -10v10m1 -10v10m1 -10v5m1 -5v6m1 -6v6m1 -8v8m1 -8v9m1 -11v11m1 -11v10m1 -7v8m1 -7v7m1 -7v7m1 -4v6m1 -10v10m1 -10v6m1 -6v7m1 -7v9m1 -10v10m1 -10v6m1 -4v5m1 -6v6m1 -10v11m1 -11v12m1 -11v11m1 -10v10m1 -9v9m1 -9v6m1 -5v8m1 -10v10m1 -10v11m1 -8v8m1 -8v11m1 -12v12m1 -12v4m1 -4v4m1 -3v6m1 -7v7m1 -7v7m1 -7v7m1 -7v5m1 -5v6m1 -6v8m1 -7v7m1 -7v7m1 -10v10m1 -10v10m1 -10v10m1 -8v8m1 -6v6m1 -6v6m1 -7v6m1 -6v13m1 -13v13m1 -13v12m1 -13v8m1 -8v8m1 -7v9m1 -7v8m1 -8v9m1 -9v9m1 -9v7m1 -10v10m1 -10v10m1 -7v7m1 -7v7m1 -6v5m1 -3v5m1 -6v6m1 -8v7m1 -7v8m1 -7v7m1 -8v8m1 -9v8m1 -8v9m1 -7v7m1 -5v5m1 -4v4m1 -8v7m1 -7v6m1 -7v6m1 -6v9m1 -8v8m1 -12v11m1 -11v13m1 -11v12m1 -12v12m1 -11v10m1 -7v7m1 -7v6m1 -6v6m1 -10v9m1 -10v12m1 -12v12m1 -10v10m1 -7v7m1 -7v6m1 -6v7m1 -8v8m1 -8v6m1 -6v6m1 -6v6m1 -6v6m1 -5v10m1 -16v16m1 -16v10m1 -7v8m1 -6v6m1 -7v7m1 -7v8m1 -7v7m1 -8v8m1 -14v12m1 -12v12m1 -6v7m1 -7v7m1 -10v8m1 -8v10m1 -7v7m1 -10v7m1 -7v9m1 -9v10m1 -10v10m1 -10v9m1 -7v8m1 -10v10m1 -10v7m1 -8v7m1 -7v7m1 -6v7m1 -6v6m1 -6v5m1 -6v7m1 -10v10m1 -10v11m1 -9v10m1 -11v11m1 -11v10m1 -7v7m1 -7v5m1 -8v10m1 -10v10m1 -9v9m1 -11v11m1 -11v8m1 -7v7m1 -7v9m1 -8v8m1 -8v10m1 -10v10m1 -10v10m1 -9v9m1 -9v11m1 -12v12m1 -12v7m1 -6v11m1 -10v10m1 -10v6m1 -6v6m1 -6v7m1 -7v7m1 -7v6m1 -7v7m1 -7v6m1 -10v10m1 -10v12m1 -9v9m1 -9v9m1 -8v8m1 -9v9m1 -9v9m1 -6v8m1 -9v9m1 -12v12m1 -12v7m1 -6v8m1 -7v8m1 -8v8m1 -10v8m1 -8v8m1 -7v9m1 -7v9m1 -10v10m1 -10v10m1 -10v10m1 -10v9m1 -5v6m1 -6v6m1 -6v6m1 -6v8m1 -6v6m1 -7v12m1 -12v12m1 -12v11m1 -10v5m1 -4v5m1 -5v5m1 -6v9m1 -9v11m1 -11v11m1 -11v11m1 -11v11m1 -10v8m1 -6v8m1 -10v10m1 -10v11m1 -11v11m1 -11v8m1 -5v6m1 -6v6m1 -9v9m1 -9v9m1 -7v7m1 -6v5m1 -6v6m1 -7v6m1 -6v6m1 -6v8m1 -10v10m1 -10v7m1 -5v7m1 -8v10m1 -10v10m1 -9v5m1 -4v6m1 -4v5m1 -5v5m1 -4v4m1 -7v7m1 -10v10m1 -10v9m1 -5v7m1 -8v9m1 -9v9m1 -9v8m1 -5v5m1 -5v5m1 -7v7m1 -8v7m1 -8v6m1 -7v10m1 -10v13m1 -11v11m1 -11v9m1 -9v9m1 -9v8m1 -10v10m1 -10v10m1 -10v10m1 -5v6m1 -9v9m1 -9v9m1 -8v8m1 -11v10m1 -10v10m1 -12v14m1 -14v14m1 -12v8m1 -8v9m1 -8v8m1 -8v10m1 -11v11m1 -11v11m1 -10v9m1 -7v7m1 -7v12m1 -13v13m1 -13v10m1 -11v8m1 -8v9m1 -8v9m1 -10v10m1 -10v9m1 -8v6m1 -5v5m1 -5v6m1 -7v8m1 -8v8m1 -11v10m1 -10v10m1 -6v6m1 -4v10m1 -10v13m1 -14v14m1 -14v7m1 -7v9m1 -9v9m1 -10v7m1 -7v6m1 -5v6m1 -6v6m1 -4v5m1 -6v8m1 -8v8m1 -12v9m1 -9v10m1 -8v9m1 -7v8m1 -8v10m1 -9v9m1 -9v8m1 -9v8m1 -8v7m1 -7v8m1 -9v9m1 -9v9m1 -7v5m1 -6v9m1 -9v9m1 -9v10m1 -9v9m1 -9v6m1 -10v10m1 -10v11m1 -8v8m1 -8v7m1 -7v9m1 -8v8m1 -9v9m1 -9v9m1 -7v6m1 -6v4m1 -5v9m1 -11v12m1 -12v12m1 -11v11m1 -11v11m1 -11v8m1 -8v8m1 -6v6m1 -8v8m1 -8v8m1 -5v7m1 -9v9m1 -10v6m1 -6v10m1 -8v8m1 -7v6m1 -9v9m1 -9v9m1 -8v6m1 -5v6m1 -7v7m1 -7v6m1 -6v6m1 -5v5m1 -4v4m1 -7v7m1 -7v10m1 -10v10m1 -9v8m1 -7v7m1 -8v8m1 -9v8m1 -8v8m1 -8v10m1 -9v9m1 -9v7m1 -7v7m1 -8v8m1 -8v9m1 -8v8m1 -7v6m1 -6v8m1 -10v10m1 -10v10m1 -9v5m1 -7v8m1 -8v8m1 -8v8m1 -4v4m1 -6v6m1 -6v7m1 -8v8m1 -10v10m1 -10v10m1 -7v6m1 -6v7m1 -4v6m1 -7v7m1 -7v6m1 -5v5m1 -8v6m1 -6v6m1 -4v4m1 -4v6m1 -6v6m1 -10v7m1 -7v13m1 -11v11m1 -10v8m1 -11v11m1 -11v11m1 -11v11m1 -11v10m1 -6v7m1 -6v6m1 -6v5m1 -5v6m1 -5v5m1 -7v6m1 -7v7m1 -7v6m1 -5v5m1 -5v4m1 -4v6m1 -5v6m1 -6v6m1 -8v6m1 -6v8m1 -8v8m1 -11v8m1 -8v8m1 -6v7m1 -6v8m1 -6v7m1 -7v7m1 -7v6m1 -6v7m1 -5v5m1 -5v5m1 -8v8m1 -8v7m1 -6v4m1 -5v8m1 -9v9m1 -9v8m1 -8v6m1 -6v8m1 -6v6m1 -7v7m1 -7v7m1 -8v7m1 -7v7m1 -7v8m1 -3v3m1 -8v9m1 -10v10m1 -10v8m1 -8v11m1 -10v10m1 -10v10m1 -8v7m1 -8v9m1 -11v11m1 -11v11m1 -10v7m1 -4v5m1 -6v7m1 -7v7m1 -7v7m1 -7v8m1 -6v6m1 -8v8m1 -9v6m1 -6v7m1 -7v10m1 -10v10m1 -7v7m1 -7v7m1 -10v8m1 -9v8m1 -8v9m1 -7v7m1 -7v6m1 -6v8m1 -5v5m1 -5v5m1 -5v4m1 -6v7m1 -7v9m1 -9v9m1 -9v9m1 -9v8m1 -8v8m1 -8v9m1 -8v8m1 -11v9m1 -9v10m1 -9v9m1 -8v8m1 -8v8m1 -7v7m1 -6v8m1 -10v10m1 -10v7m1 -9v7m1 -7v8m1 -7v8m1 -8v8m1 -8v9m1 -8v8m1 -9v6m1 -6v8m1 -7v7m1 -7v6m1 -4v6m1 -6v6m1 -7v5m1 -5v5m1 -6v6m1 -7v8m1 -8v11m1 -11v11m1 -11v7m1 -7v8m1 -7v7m1 -6v4m1 -5v3m1 -4v7m1 -7v7m1 -7v7m1 -10v10m1 -10v9m1 -5v5m1 -8v9m1 -9v9m1 -7v7m1 -7v7m1 -5v6m1 -10v12m1 -12v12m1 -8v7m1 -7v7m1 -7v4m1 -6v9m1 -9v9m1 -8v7m1 -7v8m1 -8v8m1 -7v6m1 -6v6m1 -6v8m1 -8v8m1 -7v7m1 -7v7m1 -7v5m1 -7v6m1 -6v4m1 -4v8m1 -6v6m1 -6v5m1 -7v8m1 -8v8m1 -7v7m1 -6v6m1 -6v6m1 -5v6m1 -6v7m1 -7v7m1 -7v6m1 -5v6m1 -5v5m1 -7v7m1 -7v5m1 -6v6m1 -6v7m1 -7v7m1 -7v7m1 -7v5m1 -5v7m1 -7v9m1 -8v8m1 -9v9m1 -9v6m1 -6v7m1 -7v10m1 -10v10m1 -7v6m1 -6v5m1 -6v7m1 -7v7m1 -8v6m1 -6v8m1 -8v8m1 -8v8m1 -8v8m1 -8v8m1 -10v9m1 -9v9m1 -6v7m1 -7v7m1 -8v6m1 -6v7m1 -6v6m1 -5v5m1 -7v7m1 -8v8m1 -8v8m1 -5v4m1 -8v8m1 -8v9m1 -6v6m1 -6v6m1 -6v5m1 -6v6m1 -6v6m1 -5v4m1 -5v5m1 -5v5m1 -6v6m1 -6v8m1 -8v9m1 -8v8m1 -8v7m1 -6v5m1 -5v5m1 -5v5m1 -5v5m1 -6v5m1 -5v6m1 -3v4m1 -4v4m1 -5v6m1 -7v7m1 -7v6m1 -6v6m1 -6v6m1 -9v9m1 -9v9m1 -7v7m1 -7v7m1 -8v8m1 -9v7m1 -7v11m1 -7v7m1 -7v6m1 -5v6m1 -6v6m1 -6v3m1 -5v10m1 -11v11m1 -11v10m1 -8v7m1 -7v10m1 -10v11m1 -9v9m1 -9v7m1 -7v5m1 -6v7m1 -7v7m1 -8v8m1 -8v9m1 -8v10m1 -9v9m1 -10v6m1 -7v7m1 -7v9m1 -8v8m1 -6v6m1 -9v9m1 -9v9m1 -8v8m1 -8v5m1 -5v6m1 -5v6m1 -9v11m1 -11v11m1 -8v8m1 -9v9m1 -9v9m1 -9v8m1 -8v8m1 -10v8m1 -8v8m1 -7v8m1 -7v7m1 -7v7m1 -9v9m1 -9v10m1 -9v9m1 -9v8m1 -7v6m1 -7v6m1 -7v7m1 -7v8m1 -4v4m1 -4v6m1 -8v8m1 -8v8m1 -10v10m1 -10v8m1 -8v8m1 -8v11m1 -8v8m1 -9v8m1 -9v8m1 -8v9m1 -8v8m1 -9v7m1 -7v8m1 -8v8m1 -8v8m1 -7v7m1 -7v6m1 -6v6m1 -6v7m1 -7v8m1 -8v8m1 -8v8m1 -8v8m1 -8v8m1 -9v6m1 -6v9m1 -7v8m1 -8v8m1 -8v6m1 -5v4m1 -5v8m1 -11v11m1 -11v10m1 -5v3m1 -5v6m1 -6v7m1 -6v6m1 -6v6m1 -6v6m1 -6v8m1 -8v8m1 -8v10m1 -9v9m1 -9v5m1 -5v4m1 -5v7m1 -7v7m1 -7v6m1 -6v6m1 -8v8m1 -8v8m1 -7v7m1 -7v10m1 -10v10m1 -9v9m1 -11v9m1 -9v12m1 -9v9m1 -9v7m1 -9v6m1 -6v8m1 -8v8m1 -7v5m1 -3v6m1 -6v6m1 -6v7m1 -6v6m1 -7v5m1 -5v6m1 -5v5m1 -7v9m1 -9v9m1 -9v9m1 -9v6m1 -6v8m1 -8v8m1 -5v4m1 -5v8m1 -8v8m1 -9v9m1 -9v4m1 -4v8m1 -8v8m1 -8v8m1 -7v6m1 -6v6m1 -6v8m1 -8v8m1 -8v6m1 -6v6m1 -5v6m1 -8v8m1 -10v8m1 -8v7m1 -5v6m1 -5v8m1 -7v7m1 -7v5m1 -5v8m1 -11v11m1 -11v7m1 -5v6m1 -6v7m1 -8v8m1 -8v5m1 -4v6m1 -7v7m1 -7v7m1 -6v7m1 -6v7m1 -6v6m1 -6v5m1 -7v7m1 -9v8m1 -8v6m1 -3v6m1 -5v5m1 -5v7m1 -7v8m1 -12v12m1 -12v7m1 -5v8m1 -8v8m1 -8v7m1 -7v7m1 -6v6m1 -6v5m1 -4v4m1 -5v5m1 -5v5m1 -5v5m1 -5v5m1 -4v4m1 -6v7m1 -7v7m1 -8v7m1 -7v6m1 -6v6m1 -6v5m1 -4v4m1 -7v8m1 -8v9m1 -8v8m1 -6v5m1 -5v5m1 -5v6m1 -7v7m1 -8v8m1 -8v8m1 -7v5m1 -5v5m1 -4v5m1 -7v7m1 -7v6m1 -4v4m1 -4v5m1 -4v6m1 -9v9m1 -9v9m1 -9v9m1 -9v7m1 -6v6m1 -6v6m1 -7v6m1 -6v6m1 -6v6m1 -5v6m1 -7v7m1 -7v5m1 -4v6m1 -7v7m1 -7v8m1 -9v9m1 -9v6m1 -5v4m1 -5v6m1 -6v6m1 -7v7m1 -7v4m1 -3v6m1 -9v9m1 -9v8m1 -5v5m1 -5v5m1 -9v9m1 -10v10m1 -10v9m1 -10v10m1 -10v6m1 -6v6m1 -7v7m1 -10v9m1 -9v6m1 -7v10m1 -10v10m1 -10v6m1 -8v8m1 -10v10m1 -10v7m1 -5v5m1 -5v4m1 -11v11m1 -11v11m1 -8v10m1 -8v8m1 -8v6m1 -5v7m1 -7v7m1 -7v6m1 -6v9m1 -8v8m1 -6v6m1 -5v5m1 -8v8m1 -8v7m1 -6v7m1 -5v7m1 -5v6m1 -6v6m1 -6v6m1 -6v7m1 -5v5m1 -5v4m1 -4v5m1 -4v6m1 -5v5m1 -5v6m1 -6v6m1 -7v7m1 -7v9m1 -8v8m1 -7v6m1 -7v6m1 -6v6m1 -5v8m1 -8v8m1 -7v8m1 -8v8m1 -8v7m1 -7v7m1 -6v7m1 -7v7m1 -7v7m1 -4v4m1 -8v8m1 -8v8m1 -5v8m1 -9v9m1 -9v9m1 -8v7m1 -7v5m1 -3v3m1 -3v3m1 -3v6m1 -6v6m1 -6v6m1 -4v4m1 -6v6m1 -6v6m1 -4v3m1 -4v4m1 -4v7m1 -6v6m1 -7v7m1 -7v7m1 -7v7m1 -7v7m1 -6v5m1 -4v5m1 -5v5m1 -5v5m1 -5v5m1 -5v4m1 -2v3m1 -3v3m1 -4v4m1 -4v4m1 -4v4m1 -5v6m1 -6v7m1 -7v7m1 -8v7m1 -7v9m1 -7v7m1 -7v7m1 -7v4m1 -4v6m1 -5v5m1 -6v6m1 -6v5m1 -4v7m1 -7v7m1 -7v7m1 -7v5m1 -6v6m1 -7v7m1 -7v7m1 -7v8m1 -6v7m1 -6v6m1 -5v5m1 -6v8m1 -8v8m1 -10v10m1 -10v8m1 -9v9m1 -9v9m1 -7v5m1 -3v4m1 -5v8m1 -8v8m1 -7v6m1 -7v7m1 -7v7m1 -6v6m1 -6v5m1 -6v8m1 -8v8m1 -11v8m1 -8v10m1 -7v7m1 -8v8m1 -8v8m1 -7v8m1 -6v6m1 -7v7m1 -9v7m1 -7v9m1 -6v6m1 -6v6m1 -6v8m1 -9v9m1 -9v7m1 -6v6m1 -5v5m1 -5v5m1 -6v7m1 -7v7m1 -5v4m1 -4v6m1 -8v8m1 -8v7m1 -4v4m1 -9v9m1 -9v9m1 -7v6m1 -5v8m1 -9v9m1 -10v8m1 -8v7m1 -4v4m1 -4v7m1 -8v8m1 -8v6m1 -5v5m1 -5v5m1 -6v6m1 -6v6m1 -6v8m1 -8v8m1 -6v4m1 -5v6m1 -9v9m1 -9v8m1 -6v6m1 -6v6m1 -4v7m1 -6v6m1 -6v6m1 -8v8m1 -8v9m1 -8v8m1 -9v6m1 -6v6m1 -6v4m1 -4v6m1 -9v9m1 -9v12m1 -9v9m1 -9v8m1 -6v6m1 -6v6m1 -8v6m1 -6v7m1 -6v9m1 -9v9m1 -8v6m1 -5v4m1 -3v3m1 -3v3m1 -5v5m1 -8v8m1 -8v8m1 -4v4m1 -4v4m1 -4v5m1 -5v5m1 -5v5m1 -5v5m1 -5v5m1 -5v6m1 -5v5m1 -6v5m1 -5v5m1 -5v4m1 -8v8m1 -8v12m1 -9v9m1 -9v7m1 -5v6m1 -6v6m1 -9v7m1 -7v6m1 -5v4m1 -4v4m1 -5v6m1 -6v9m1 -7v7m1 -7v5m1 -7v8m1 -8v9m1 -6v6m1 -6v5m1 -5v4m1 -3v3m1 -6v6m1 -7v8m1 -8v8m1 -6v6m1 -7v7m1 -7v5m1 -5v5m1 -5v7m1 -5v7m1 -7v7m1 -7v5"/>
</g>
<text x="403" y="134.6" font-family="'Liberation Serif','Times New Roman',serif" font-weight="bold" font-size="86"><tspan font-size="75.7" dy="-7.5">(</tspan><tspan dy="7.5" dx="3">A</tspan><tspan font-size="75.7" dy="-7.5" dx="3">)</tspan></text>
<text x="0" y="0" font-family="'Liberation Sans',Arial,Helvetica,sans-serif" font-size="45.5" text-anchor="middle" transform="translate(327.5,1353) scale(1,1)">10</text>
<text x="0" y="0" font-family="'Liberation Sans',Arial,Helvetica,sans-serif" font-size="45.5" text-anchor="middle" transform="translate(766.9,1353) scale(1,1)">20</text>
<text x="0" y="0" font-family="'Liberation Sans',Arial,Helvetica,sans-serif" font-size="45.5" text-anchor="middle" transform="translate(1206.3,1353) scale(1,1)">30</text>
<text x="0" y="0" font-family="'Liberation Sans',Arial,Helvetica,sans-serif" font-size="45.5" text-anchor="middle" transform="translate(1645.7,1353) scale(1,1)">40</text>
<text x="1103" y="1442" font-family="'Liberation Sans',Arial,sans-serif" font-size="57">2<tspan font-family="'Liberation Serif','Times New Roman',serif" font-size="51" dx="0.5">θ</tspan><tspan font-family="'Liberation Serif','Times New Roman',serif" font-size="51" dx="4">(°</tspan><tspan font-family="'Liberation Serif','Times New Roman',serif" font-size="51" dx="-2.5">)</tspan></text>
<text x="0" y="0" font-family="'Liberation Sans',Arial,Helvetica,sans-serif" font-size="56.5" text-anchor="middle" transform="translate(258.3,676) rotate(-90)">Intensity (a.u.)</text>
<text x="0" y="0" font-family="'Liberation Sans',Arial,Helvetica,sans-serif" font-size="57" text-anchor="start" transform="translate(1528.5,591.3) scale(1,1)">GO1:4</text>
<text x="0" y="0" font-family="'Liberation Sans',Arial,Helvetica,sans-serif" font-size="57" text-anchor="start" transform="translate(1540,777.4) scale(1,1)">GO1:3</text>
<text x="0" y="0" font-family="'Liberation Sans',Arial,Helvetica,sans-serif" font-size="57" text-anchor="start" transform="translate(1525,950.5) scale(1,1)">GO1:2</text>
<text x="1554" y="1117.6" font-family="'Liberation Sans',Arial,Helvetica,sans-serif" font-size="57.5" text-anchor="start">Graphite</text>
<text x="0" y="0" font-family="'Liberation Sans',Arial,Helvetica,sans-serif" font-size="42" text-anchor="start" transform="translate(377,516) rotate(-45)">(001)</text>
<text x="0" y="0" font-family="'Liberation Sans',Arial,Helvetica,sans-serif" font-size="42" text-anchor="start" transform="translate(952.5,124) rotate(-45)">(002)</text>
</g>
<g id="plotB">
<g shape-rendering="crispEdges">
<rect x="375" y="1741" width="7" height="1535" fill="#000"/>
<rect x="2361" y="1744" width="7" height="1546" fill="#000"/>
<rect x="349" y="1741" width="2016" height="7" fill="#000"/>
<rect x="349" y="3257" width="2019" height="7" fill="#000"/>
<rect x="363" y="3105" width="12" height="7" fill="#000"/>
<rect x="349" y="2954" width="26" height="7" fill="#000"/>
<rect x="363" y="2802" width="12" height="7" fill="#000"/>
<rect x="349" y="2651" width="26" height="7" fill="#000"/>
<rect x="363" y="2499" width="12" height="7" fill="#000"/>
<rect x="349" y="2347" width="26" height="7" fill="#000"/>
<rect x="363" y="2196" width="12" height="7" fill="#000"/>
<rect x="349" y="2044" width="26" height="7" fill="#000"/>
<rect x="363" y="1893" width="12" height="7" fill="#000"/>
<rect x="507" y="3264" width="7" height="26" fill="#000"/>
<rect x="639" y="3264" width="7" height="12" fill="#000"/>
<rect x="772" y="3264" width="7" height="26" fill="#000"/>
<rect x="904" y="3264" width="7" height="12" fill="#000"/>
<rect x="1037" y="3264" width="7" height="26" fill="#000"/>
<rect x="1169" y="3264" width="7" height="12" fill="#000"/>
<rect x="1302" y="3264" width="7" height="26" fill="#000"/>
<rect x="1434" y="3264" width="7" height="12" fill="#000"/>
<rect x="1566" y="3264" width="7" height="26" fill="#000"/>
<rect x="1699" y="3264" width="7" height="12" fill="#000"/>
<rect x="1831" y="3264" width="7" height="26" fill="#000"/>
<rect x="1964" y="3264" width="7" height="12" fill="#000"/>
<rect x="2096" y="3264" width="7" height="26" fill="#000"/>
<rect x="2229" y="3264" width="7" height="12" fill="#000"/>
</g>
<g fill="none" stroke-width="1" shape-rendering="crispEdges">
<path stroke="#000" d="M378.5 3204v7m1 -7v7m1 -6v6m1 -7v5m1 -5v6m1 -6v6m1 -7v6m1 -6v7m1 -5v6m1 -8v8m1 -8v6m1 -6v6m1 -6v5m1 -4v5m1 -6v6m1 -6v6m1 -7v6m1 -6v6m1 -5v5m1 -6v5m1 -5v5m1 -5v5m1 -5v5m1 -6v6m1 -6v5m1 -4v5m1 -5v5m1 -6v6m1 -7v7m1 -7v6m1 -5v5m1 -5v4m1 -4v5m1 -5v5m1 -4v4m1 -5v4m1 -5v5m1 -5v6m1 -5v5m1 -5v5m1 -5v5m1 -6v6m1 -6v6m1 -6v6m1 -5v5m1 -5v5m1 -7v7m1 -7v6m1 -5v5m1 -6v6m1 -6v6m1 -6v6m1 -7v7m1 -7v7m1 -8v8m1 -8v8m1 -6v6m1 -6v6m1 -6v5m1 -5v5m1 -6v6m1 -6v6m1 -6v5m1 -5v5m1 -5v6m1 -5v5m1 -8v7m1 -7v7m1 -6v4m1 -4v5m1 -6v6m1 -6v6m1 -6v6m1 -5v4m1 -4v4m1 -5v5m1 -6v6m1 -6v5m1 -5v5m1 -4v4m1 -5v6m1 -7v7m1 -7v7m1 -7v6m1 -6v6m1 -6v5m1 -5v5m1 -5v4m1 -4v4m1 -4v4m1 -4v4m1 -6v6m1 -6v6m1 -6v5m1 -4v4m1 -5v5m1 -6v6m1 -6v6m1 -6v5m1 -5v6m1 -7v7m1 -7v5m1 -5v5m1 -5v5m1 -8v7m1 -7v6m1 -5v6m1 -6v6m1 -9v7m1 -7v6m1 -9v9m1 -9v8m1 -8v7m1 -9v7m1 -8v7m1 -8v7m1 -9v7m1 -8v7m1 -7v6m1 -6v5m1 -5v5m1 -6v6m1 -7v7m1 -8v8m1 -8v5m1 -5v5m1 -5v5m1 -5v5m1 -6v5m1 -5v5m1 -5v5m1 -5v5m1 -6v6m1 -6v5m1 -6v6m1 -6v6m1 -5v5m1 -6v6m1 -6v6m1 -6v5m1 -5v5m1 -5v5m1 -5v5m1 -5v5m1 -5v5m1 -6v6m1 -6v7m1 -7v7m1 -7v7m1 -7v7m1 -7v7m1 -6v6m1 -5v4m1 -4v5m1 -4v5m1 -5v5m1 -4v4m1 -4v4m1 -4v4m1 -4v5m1 -5v5m1 -6v6m1 -6v7m1 -6v6m1 -6v6m1 -6v5m1 -5v5m1 -4v5m1 -4v4m1 -4v5m1 -6v6m1 -6v6m1 -5v5m1 -4v4m1 -4v4m1 -4v4m1 -4v4m1 -4v6m1 -6v7m1 -7v7m1 -7v5m1 -5v6m1 -6v7m1 -5v5m1 -4v5m1 -6v6m1 -6v5m1 -5v5m1 -5v6m1 -5v5m1 -7v6m1 -6v6m1 -6v6m1 -5v6m1 -6v7m1 -5v5m1 -5v5m1 -5v5m1 -5v5m1 -5v5m1 -5v5m1 -5v6m1 -5v5m1 -6v5m1 -5v5m1 -6v6m1 -6v8m1 -7v7m1 -6v5m1 -5v6m1 -8v8m1 -8v8m1 -6v5m1 -4v5m1 -5v5m1 -5v5m1 -7v7m1 -7v7m1 -7v7m1 -8v6m1 -7v7m1 -7v6m1 -6v5m1 -5v6m1 -5v5m1 -6v5m1 -7v6m1 -6v6m1 -7v6m1 -8v8m1 -9v8m1 -9v6m1 -6v8m1 -7v8m1 -6v8m1 -7v9m1 -7v8m1 -6v7m1 -5v5m1 -5v5m1 -6v6m1 -6v7m1 -8v8m1 -8v8m1 -7v7m1 -5v4m1 -5v5m1 -5v6m1 -6v6m1 -6v5m1 -5v5m1 -5v5m1 -4v5m1 -5v5m1 -7v6m1 -6v6m1 -5v5m1 -5v5m1 -5v5m1 -5v6m1 -8v8m1 -8v7m1 -7v4m1 -6v6m1 -8v7m1 -11v10m1 -17v17m1 -24v21m1 -26v24m1 -26v22m1 -24v17m1 -17v12m1 -12v20m1 -18v25m1 -22v25m1 -19v22m1 -14v14m1 -7v7m1 -7v5m1 -5v5m1 -5v5m1 -5v6m1 -5v5m1 -5v5m1 -5v5m1 -5v7m1 -8v8m1 -8v7m1 -7v7m1 -7v6m1 -6v6m1 -5v6m1 -6v6m1 -8v7m1 -7v6m1 -5v5m1 -7v7m1 -7v6m1 -6v6m1 -5v5m1 -6v6m1 -6v5m1 -6v5m1 -5v4m1 -5v6m1 -8v8m1 -8v7m1 -7v7m1 -7v6m1 -6v7m1 -7v7m1 -8v7m1 -7v7m1 -7v7m1 -7v6m1 -6v5m1 -5v5m1 -6v6m1 -6v5m1 -5v5m1 -5v4m1 -5v5m1 -5v4m1 -5v6m1 -7v7m1 -9v8m1 -8v8m1 -7v6m1 -7v6m1 -7v5m1 -6v5m1 -7v7m1 -7v6m1 -9v7m1 -8v8m1 -10v8m1 -10v9m1 -11v9m1 -12v10m1 -13v11m1 -15v13m1 -16v14m1 -19v16m1 -23v20m1 -28v24m1 -35v32m1 -54v49m1 -87v80m1 -122v114m1 -164v153m1 -197v175m1 -215v177m1 -223v181m1 -240v190m1 -272v228m1 -399v359m1 -611v565m1 -643v584m1 -587v505m1 -505v608m1 -605v731m1 -646v711m1 -405v442m1 -229v254m1 -128v148m1 -83v101m1 -64v81m1 -56v69m1 -49v59m1 -41v47m1 -30v35m1 -22v27m1 -17v21m1 -15v18m1 -13v16m1 -11v14m1 -10v13m1 -10v11m1 -8v11m1 -8v8m1 -6v8m1 -6v7m1 -5v5m1 -4v5m1 -5v5m1 -4v6m1 -6v6m1 -5v6m1 -7v7m1 -7v7m1 -4v6m1 -5v8m1 -8v8m1 -8v7m1 -5v7m1 -6v7m1 -6v6m1 -5v6m1 -5v8m1 -7v7m1 -5v6m1 -6v7m1 -7v7m1 -5v5m1 -5v7m1 -7v7m1 -7v7m1 -6v5m1 -5v5m1 -6v6m1 -6v6m1 -6v6m1 -6v6m1 -6v6m1 -6v6m1 -6v6m1 -6v6m1 -5v6m1 -6v6m1 -8v8m1 -8v8m1 -7v7m1 -9v7m1 -10v10m1 -12v10m1 -11v9m1 -10v8m1 -10v7m1 -7v8m1 -8v11m1 -8v10m1 -9v10m1 -7v8m1 -5v7m1 -5v5m1 -7v6m1 -6v5m1 -5v6m1 -6v6m1 -6v5m1 -5v5m1 -5v5m1 -6v6m1 -6v7m1 -6v6m1 -7v6m1 -6v6m1 -4v4m1 -4v4m1 -5v5m1 -5v5m1 -6v5m1 -5v7m1 -6v6m1 -5v4m1 -5v5m1 -6v6m1 -6v5m1 -4v5m1 -5v6m1 -6v6m1 -6v6m1 -6v6m1 -6v6m1 -5v5m1 -6v7m1 -7v7m1 -7v7m1 -6v8m1 -9v9m1 -10v8m1 -8v6m1 -5v5m1 -5v5m1 -7v7m1 -7v6m1 -6v6m1 -6v6m1 -6v6m1 -5v5m1 -5v5m1 -6v6m1 -6v6m1 -6v6m1 -5v5m1 -5v6m1 -5v5m1 -6v5m1 -5v6m1 -4v5m1 -5v6m1 -5v5m1 -5v5m1 -6v7m1 -7v7m1 -7v7m1 -7v6m1 -5v5m1 -4v4m1 -4v6m1 -5v5m1 -4v5m1 -6v6m1 -6v5m1 -4v5m1 -6v6m1 -6v7m1 -6v6m1 -6v5m1 -5v6m1 -6v6m1 -7v7m1 -7v6m1 -5v6m1 -5v5m1 -5v5m1 -5v5m1 -4v5m1 -5v5m1 -5v6m1 -6v6m1 -6v7m1 -7v7m1 -7v6m1 -6v6m1 -6v6m1 -6v6m1 -6v6m1 -4v4m1 -4v5m1 -6v6m1 -6v6m1 -5v5m1 -5v5m1 -4v5m1 -6v6m1 -6v5m1 -5v5m1 -5v5m1 -4v6m1 -6v7m1 -7v7m1 -7v5m1 -5v5m1 -4v5m1 -5v5m1 -5v6m1 -7v7m1 -7v6m1 -5v5m1 -5v5m1 -6v6m1 -6v6m1 -5v5m1 -7v7m1 -7v6m1 -6v6m1 -5v5m1 -6v5m1 -5v5m1 -5v5m1 -5v5m1 -5v5m1 -5v5m1 -6v6m1 -6v6m1 -6v6m1 -6v6m1 -6v6m1 -6v6m1 -5v5m1 -5v7m1 -7v7m1 -7v6m1 -5v6m1 -5v7m1 -7v8m1 -6v6m1 -6v6m1 -6v6m1 -5v8m1 -6v6m1 -5v5m1 -5v7m1 -6v6m1 -5v8m1 -7v8m1 -6v6m1 -6v5m1 -5v5m1 -6v5m1 -5v6m1 -5v5m1 -5v5m1 -6v6m1 -6v5m1 -5v5m1 -6v6m1 -6v5m1 -6v6m1 -6v6m1 -7v7m1 -8v7m1 -7v7m1 -6v6m1 -6v7m1 -6v6m1 -6v6m1 -5v5m1 -6v7m1 -7v7m1 -7v7m1 -5v5m1 -5v6m1 -6v6m1 -5v7m1 -5v5m1 -4v4m1 -4v4m1 -4v5m1 -4v5m1 -6v6m1 -6v6m1 -5v5m1 -5v5m1 -5v6m1 -4v6m1 -7v7m1 -7v4m1 -4v5m1 -4v4m1 -4v5m1 -5v6m1 -7v7m1 -7v6m1 -6v7m1 -5v5m1 -6v7m1 -7v7m1 -6v5m1 -5v6m1 -6v6m1 -5v6m1 -6v6m1 -4v4m1 -5v5m1 -5v5m1 -5v5m1 -6v6m1 -6v6m1 -5v5m1 -6v5m1 -5v6m1 -4v4m1 -4v4m1 -4v4m1 -4v5m1 -5v5m1 -5v5m1 -5v5m1 -6v6m1 -6v4m1 -3v4m1 -5v5m1 -5v5m1 -4v4m1 -4v4m1 -5v5m1 -6v6m1 -7v6m1 -7v7m1 -7v7m1 -5v4m1 -5v5m1 -8v8m1 -11v9m1 -12v12m1 -16v14m1 -17v15m1 -17v13m1 -16v13m1 -13v9m1 -8v8m1 -7v13m1 -13v19m1 -17v22m1 -18v20m1 -14v16m1 -10v10m1 -5v5m1 -7v7m1 -7v9m1 -7v7m1 -6v5m1 -5v6m1 -6v6m1 -5v5m1 -6v6m1 -6v5m1 -5v5m1 -5v6m1 -7v8m1 -8v8m1 -7v7m1 -7v6m1 -5v5m1 -5v5m1 -4v4m1 -4v3m1 -4v4m1 -4v5m1 -6v6m1 -6v5m1 -5v5m1 -5v6m1 -6v6m1 -6v6m1 -6v6m1 -5v5m1 -5v4m1 -4v4m1 -4v5m1 -5v5m1 -5v6m1 -6v6m1 -7v6m1 -6v5m1 -7v7m1 -8v6m1 -8v8m1 -10v9m1 -13v11m1 -18v17m1 -26v23m1 -30v28m1 -32v28m1 -30v23m1 -23v14m1 -14v16m1 -15v22m1 -20v26m1 -21v25m1 -18v20m1 -13v14m1 -8v10m1 -6v7m1 -7v8m1 -5v6m1 -5v6m1 -6v6m1 -5v7m1 -6v7m1 -6v7m1 -5v6m1 -6v7m1 -7v7m1 -6v5m1 -5v5m1 -5v5m1 -5v5m1 -5v5m1 -5v5m1 -5v5m1 -5v5m1 -5v5m1 -6v5m1 -6v6m1 -7v6m1 -7v7m1 -7v7m1 -6v6m1 -8v7m1 -7v7m1 -5v6m1 -5v5m1 -5v5m1 -5v6m1 -5v5m1 -4v5m1 -4v6m1 -6v6m1 -6v5m1 -4v5m1 -4v5m1 -5v5m1 -5v5m1 -6v6m1 -6v5m1 -5v5m1 -5v5m1 -5v6m1 -5v5m1 -5v5m1 -6v6m1 -6v6m1 -5v5m1 -5v5m1 -5v4m1 -4v5m1 -6v6m1 -7v6m1 -6v6m1 -7v7m1 -7v5m1 -5v6m1 -6v6m1 -7v7m1 -7v7m1 -6v7m1 -6v6m1 -6v4m1 -4v4m1 -5v5m1 -5v6m1 -7v7m1 -7v6m1 -5v5m1 -5v5m1 -5v5m1 -7v7m1 -8v7m1 -7v7m1 -6v6m1 -7v6m1 -6v6m1 -6v6m1 -5v5m1 -5v4m1 -5v5m1 -6v6m1 -6v6m1 -6v6m1 -6v6m1 -6v5m1 -7v7m1 -7v6m1 -6v6m1 -6v5m1 -6v6m1 -7v7m1 -9v7m1 -8v8m1 -10v9m1 -10v9m1 -9v6m1 -8v7m1 -9v8m1 -10v9m1 -11v9m1 -12v11m1 -14v11m1 -15v13m1 -17v15m1 -21v18m1 -27v24m1 -36v32m1 -48v44m1 -67v61m1 -101v92m1 -137v125m1 -178v162m1 -201v178m1 -208v168m1 -195v150m1 -178v124m1 -159v121m1 -169v139m1 -212v185m1 -357v329m1 -572v537m1 -816v768m1 -819v746m1 -747v575m1 -575v711m1 -710v812m1 -718v777m1 -383v427m1 -206v240m1 -138v168m1 -109v139m1 -95v129m1 -95v128m1 -98v128m1 -98v125m1 -91v120m1 -87v113m1 -83v103m1 -76v86m1 -57v63m1 -37v43m1 -23v27m1 -17v21m1 -15v19m1 -13v16m1 -12v16m1 -12v15m1 -11v14m1 -11v14m1 -10v10m1 -7v10m1 -8v9m1 -7v7m1 -7v8m1 -5v5m1 -5v6m1 -5v5m1 -4v6m1 -6v6m1 -5v5m1 -5v5m1 -5v7m1 -6v6m1 -5v6m1 -6v7m1 -6v6m1 -5v5m1 -5v4m1 -4v7m1 -7v7m1 -6v5m1 -5v5m1 -4v5m1 -5v8m1 -6v6m1 -6v5m1 -5v6m1 -6v7m1 -6v6m1 -7v6m1 -6v7m1 -7v7m1 -7v6m1 -5v5m1 -5v6m1 -7v7m1 -7v6m1 -6v6m1 -7v7m1 -7v6m1 -5v5m1 -6v6m1 -6v6m1 -6v6m1 -6v6m1 -6v6m1 -7v6m1 -6v5m1 -5v5m1 -5v5m1 -5v4m1 -5v5m1 -5v6m1 -5v5m1 -6v5m1 -5v6m1 -6v7m1 -6v6m1 -7v5m1 -5v5m1 -5v6m1 -6v6m1 -7v7m1 -7v6m1 -7v6m1 -6v6m1 -6v6m1 -6v6m1 -6v7m1 -6v6m1 -6v6m1 -6v4m1 -4v5m1 -5v5m1 -5v5m1 -7v7m1 -7v7m1 -7v7m1 -6v6m1 -7v7m1 -7v5m1 -5v5m1 -6v6m1 -6v6m1 -6v6m1 -7v7m1 -7v6m1 -6v5m1 -5v5m1 -6v6m1 -7v6m1 -6v6m1 -8v8m1 -9v7m1 -9v9m1 -12v10m1 -11v8m1 -10v9m1 -11v10m1 -13v10m1 -13v11m1 -13v11m1 -13v11m1 -13v10m1 -11v8m1 -8v8m1 -8v13m1 -11v16m1 -15v20m1 -16v20m1 -15v17m1 -12v13m1 -8v10m1 -6v7m1 -5v7m1 -6v7m1 -6v7m1 -6v6m1 -5v6m1 -5v7m1 -6v6m1 -4v5m1 -5v5m1 -6v6m1 -6v8m1 -8v9m1 -7v7m1 -6v6m1 -8v8m1 -8v8m1 -7v8m1 -8v8m1 -8v6m1 -6v7m1 -6v6m1 -6v6m1 -5v5m1 -5v6m1 -6v6m1 -6v6m1 -6v7m1 -7v7m1 -5v5m1 -5v4m1 -5v6m1 -7v7m1 -7v7m1 -6v7m1 -6v6m1 -6v5m1 -5v7m1 -8v8m1 -8v6m1 -5v7m1 -7v7m1 -7v6m1 -4v4m1 -5v5m1 -6v7m1 -7v7m1 -7v5m1 -5v6m1 -6v6m1 -6v6m1 -6v6m1 -6v5m1 -5v5m1 -5v5m1 -6v5m1 -6v5m1 -5v5m1 -6v5m1 -5v5m1 -4v4m1 -4v5m1 -5v6m1 -5v5m1 -5v7m1 -7v8m1 -6v8m1 -6v6m1 -6v6m1 -5v5m1 -8v8m1 -8v7m1 -4v4m1 -4v5m1 -5v5m1 -5v6m1 -6v6m1 -6v6m1 -6v5m1 -4v4m1 -5v5m1 -5v5m1 -5v6m1 -5v5m1 -6v6m1 -6v8m1 -7v7m1 -6v5m1 -5v5m1 -5v5m1 -6v5m1 -5v6m1 -6v6m1 -6v5m1 -5v5m1 -5v6m1 -4v4m1 -4v4m1 -6v6m1 -7v8m1 -8v8m1 -6v6m1 -7v7m1 -7v7m1 -5v5m1 -7v8m1 -8v8m1 -6v6m1 -6v5m1 -5v5m1 -5v5m1 -5v5m1 -5v5m1 -5v5m1 -5v5m1 -5v5m1 -5v5m1 -4v4m1 -4v4m1 -4v5m1 -5v6m1 -6v6m1 -6v5m1 -5v6m1 -6v6m1 -7v7m1 -7v6m1 -5v5m1 -6v6m1 -6v5m1 -4v4m1 -4v7m1 -7v7m1 -8v7m1 -7v5m1 -5v5m1 -5v5m1 -5v5m1 -5v5m1 -6v6m1 -6v6m1 -6v5m1 -5v5m1 -5v4m1 -4v4m1 -5v5m1 -6v5m1 -5v5m1 -5v5m1 -7v7m1 -7v6m1 -6v5m1 -5v5m1 -5v5m1 -6v6m1 -6v6m1 -6v5m1 -5v5m1 -5v5m1 -5v4m1 -5v5m1 -5v5m1 -6v7m1 -7v7m1 -7v6m1 -6v6m1 -6v4m1 -6v6m1 -6v6m1 -6v5m1 -5v6m1 -6v6m1 -7v6m1 -8v8m1 -8v5m1 -6v6m1 -8v8m1 -10v10m1 -10v7m1 -9v8m1 -11v10m1 -14v12m1 -16v14m1 -19v17m1 -22v19m1 -27v23m1 -33v29m1 -41v36m1 -51v46m1 -65v57m1 -80v70m1 -100v88m1 -121v106m1 -140v121m1 -156v133m1 -174v144m1 -188v155m1 -194v160m1 -184v149m1 -153v112m1 -114v70m1 -70v70m1 -68v113m1 -109v149m1 -125v159m1 -120v155m1 -110v141m1 -101v127m1 -93v115m1 -80v100m1 -69v86m1 -60v73m1 -51v62m1 -42v52m1 -35v43m1 -30v36m1 -25v29m1 -19v22m1 -14v16m1 -10v13m1 -9v11m1 -8v10m1 -8v8m1 -5v7m1 -7v8m1 -6v7m1 -7v7m1 -5v7m1 -6v6m1 -5v5m1 -4v5m1 -5v5m1 -4v5m1 -5v5m1 -7v7m1 -7v8m1 -7v9m1 -6v6m1 -6v6m1 -6v6m1 -6v6m1 -6v9m1 -7v8m1 -8v8m1 -7v5m1 -5v6m1 -6v6m1 -5v5m1 -6v5m1 -5v7m1 -7v8m1 -6v6m1 -6v6m1 -5v4m1 -4v4m1 -4v5m1 -5v5m1 -4v4m1 -6v6m1 -6v6m1 -6v6m1 -4v6m1 -5v5m1 -5v5m1 -7v7m1 -7v8m1 -7v7m1 -6v5m1 -5v5m1 -6v6m1 -6v6m1 -4v4m1 -5v5m1 -5v5m1 -5v7m1 -6v6m1 -7v7m1 -7v7m1 -6v5m1 -5v5m1 -5v5m1 -6v6m1 -6v6m1 -5v6m1 -6v6m1 -5v5m1 -5v5m1 -6v6m1 -6v5m1 -4v5m1 -5v5m1 -8v8m1 -8v8m1 -8v8m1 -5v5m1 -6v6m1 -7v7m1 -7v7m1 -4v4m1 -5v5m1 -5v5m1 -5v5m1 -5v6m1 -5v5m1 -5v5m1 -5v5m1 -6v6m1 -7v6m1 -6v5m1 -5v6m1 -6v6m1 -5v5m1 -9v8m1 -8v10m1 -7v7m1 -7v6m1 -6v5m1 -5v7m1 -6v6m1 -6v6m1 -7v6m1 -6v6m1 -4v4m1 -4v5m1 -5v5m1 -7v6m1 -6v5m1 -4v4m1 -4v4m1 -4v5m1 -5v6m1 -6v6m1 -6v5m1 -5v7m1 -6v6m1 -7v5m1 -5v5m1 -5v6m1 -6v6m1 -6v6m1 -6v6m1 -6v5m1 -5v6m1 -6v6m1 -5v5m1 -5v5m1 -5v4m1 -4v5m1 -4v4m1 -5v6m1 -6v6m1 -6v5m1 -6v6m1 -6v7m1 -7v7m1 -6v6m1 -6v6m1 -6v4m1 -4v4m1 -5v5m1 -6v6m1 -6v6m1 -5v7m1 -7v7m1 -7v6m1 -6v6m1 -7v5m1 -5v6m1 -6v6m1 -7v7m1 -7v7m1 -7v7m1 -7v7m1 -5v5m1 -6v5m1 -7v6m1 -6v7m1 -6v6m1 -6v5m1 -5v5m1 -6v6m1 -6v6m1 -6v6m1 -6v6m1 -8v8m1 -8v6m1 -7v6m1 -7v6m1 -6v5m1 -7v7m1 -9v9m1 -13v12m1 -18v16m1 -24v21m1 -30v28m1 -38v34m1 -48v42m1 -60v52m1 -71v62m1 -84v74m1 -99v85m1 -112v94m1 -121v102m1 -133v111m1 -159v134m1 -173v146m1 -148v121m1 -123v93m1 -93v93m1 -89v115m1 -104v129m1 -90v113m1 -76v97m1 -70v90m1 -65v84m1 -61v79m1 -58v75m1 -55v68m1 -49v59m1 -41v49m1 -32v39m1 -26v32m1 -22v26m1 -18v20m1 -13v15m1 -9v11m1 -7v8m1 -7v10m1 -7v7m1 -6v7m1 -6v6m1 -3v4m1 -4v4m1 -4v7m1 -7v7m1 -7v7m1 -7v7m1 -6v6m1 -5v5m1 -5v4m1 -4v6m1 -6v6m1 -6v6m1 -5v6m1 -6v6m1 -6v5m1 -5v6m1 -6v6m1 -6v5m1 -5v5m1 -4v5m1 -4v4m1 -5v5m1 -5v5m1 -5v6m1 -8v8m1 -8v8m1 -7v7m1 -6v6m1 -6v5m1 -5v4m1 -5v7m1 -9v9m1 -9v8m1 -5v5m1 -5v7m1 -8v8m1 -8v7m1 -7v6m1 -6v6m1 -6v6m1 -6v5m1 -5v5m1 -4v6m1 -8v8m1 -8v7m1 -7v6m1 -6v5m1 -6v5m1 -7v7m1 -7v6m1 -8v7m1 -9v8m1 -11v10m1 -14v12m1 -17v16m1 -21v18m1 -23v20m1 -27v23m1 -30v25m1 -34v29m1 -38v32m1 -42v36m1 -52v45m1 -65v56m1 -72v63m1 -68v57m1 -59v44m1 -44v24m1 -23v38m1 -37v52m1 -45v56m1 -43v53m1 -37v48m1 -33v41m1 -30v37m1 -27v33m1 -22v27m1 -19v24m1 -16v20m1 -15v18m1 -13v15m1 -10v12m1 -8v11m1 -10v10m1 -6v8m1 -6v7m1 -6v6m1 -5v6m1 -6v6m1 -4v4m1 -5v7m1 -7v7m1 -5v5m1 -4v5m1 -5v5m1 -5v6m1 -6v6m1 -5v6m1 -6v7m1 -7v7m1 -7v6m1 -5v5m1 -6v6m1 -6v6m1 -5v4m1 -5v5m1 -5v7m1 -6v6m1 -6v6m1 -6v6m1 -6v5m1 -4v4m1 -4v4m1 -4v5m1 -7v7m1 -7v6m1 -4v5m1 -5v5m1 -5v5m1 -5v5m1 -5v5m1 -4v4m1 -5v5m1 -5v5m1 -5v5m1 -5v5m1 -5v6m1 -5v5m1 -5v5m1 -5v5m1 -4v6m1 -7v7m1 -8v7m1 -7v6m1 -4v5m1 -5v5m1 -6v6m1 -6v5m1 -5v5m1 -4v4m1 -4v4m1 -4v5m1 -7v7m1 -7v6m1 -6v7m1 -7v7m1 -5v5m1 -5v5m1 -5v5m1 -5v5m1 -5v4m1 -4v5m1 -6v6m1 -6v6m1 -5v5m1 -6v6m1 -6v5m1 -5v6m1 -7v7m1 -7v7m1 -9v9m1 -9v7m1 -4v4m1 -4v4m1 -5v5m1 -5v6m1 -5v7m1 -7v7m1 -9v6m1 -6v7m1 -5v6m1 -7v7m1 -7v5m1 -4v5m1 -6v6m1 -6v6m1 -5v5m1 -6v6m1 -6v6m1 -7v7m1 -7v5m1 -5v5m1 -5v6m1 -6v6m1 -6v6m1 -6v7m1 -7v7m1 -7v5m1 -5v5m1 -5v6m1 -6v6m1 -7v7m1 -7v7m1 -7v6m1 -6v5m1 -4v5m1 -5v5m1 -6v6m1 -6v6m1 -6v6m1 -5v5m1 -5v4m1 -6v6m1 -6v6m1 -6v7m1 -7v7m1 -5v5m1 -8v8m1 -8v7m1 -7v7m1 -6v4m1 -6v6m1 -6v5m1 -8v7m1 -7v6m1 -8v7m1 -9v9m1 -12v10m1 -14v13m1 -17v15m1 -20v17m1 -22v19m1 -24v20m1 -27v23m1 -31v26m1 -34v29m1 -37v32m1 -41v34m1 -42v34m1 -37v29m1 -32v24m1 -24v15m1 -14v23m1 -21v28m1 -25v34m1 -26v35m1 -26v33m1 -26v32m1 -23v28m1 -19v23m1 -16v19m1 -13v15m1 -10v14m1 -10v10m1 -7v9m1 -7v7m1 -6v6m1 -4v6m1 -6v6m1 -5v8m1 -7v7m1 -6v8m1 -8v9m1 -6v6m1 -4v6m1 -6v7m1 -6v7m1 -5v6m1 -5v5m1 -5v5m1 -5v6m1 -6v7m1 -6v6m1 -5v5m1 -5v5m1 -4v5m1 -4v4m1 -5v5m1 -5v5m1 -4v5m1 -4v4m1 -4v4m1 -5v5m1 -5v5m1 -5v5m1 -5v5m1 -5v6m1 -6v7m1 -7v7m1 -7v7m1 -7v6m1 -7v6m1 -6v6m1 -5v6m1 -7v8m1 -8v8m1 -6v6m1 -6v5m1 -5v5m1 -7v7m1 -7v7m1 -6v6m1 -6v6m1 -6v6m1 -6v6m1 -6v6m1 -6v6m1 -6v5m1 -5v5m1 -5v7m1 -6v6m1 -6v5m1 -5v5m1 -6v6m1 -7v6m1 -6v8m1 -8v8m1 -7v6m1 -7v7m1 -7v5m1 -5v5m1 -6v6m1 -7v6m1 -7v6m1 -6v6m1 -8v8m1 -10v10m1 -14v11m1 -14v12m1 -16v14m1 -18v16m1 -21v17m1 -23v20m1 -27v24m1 -30v25m1 -31v26m1 -33v27m1 -34v27m1 -32v26m1 -30v24m1 -24v17m1 -19v12m1 -12v18m1 -17v25m1 -23v30m1 -24v31m1 -23v29m1 -21v28m1 -20v25m1 -19v24m1 -18v21m1 -14v17m1 -12v14m1 -9v11m1 -8v10m1 -7v9m1 -7v9m1 -7v7m1 -5v8m1 -6v6m1 -6v6m1 -6v6m1 -5v5m1 -4v5m1 -5v5m1 -4v5m1 -5v5m1 -5v5m1 -6v8m1 -8v8m1 -5v5m1 -6v5m1 -5v5m1 -5v5m1 -4v4m1 -5v5m1 -5v5m1 -5v6m1 -6v6m1 -6v5m1 -4v4m1 -4v5m1 -6v6m1 -8v8m1 -8v7m1 -4v5m1 -6v6m1 -6v6m1 -6v7m1 -7v7m1 -7v5m1 -4v5m1 -7v7m1 -7v6m1 -5v6m1 -5v5m1 -5v5m1 -5v5m1 -5v5m1 -5v5m1 -5v5m1 -5v5m1 -5v5m1 -5v5m1 -5v5m1 -6v6m1 -6v5m1 -5v6m1 -6v6m1 -6v7m1 -7v7m1 -7v7m1 -7v6m1 -5v6m1 -6v6m1 -6v7m1 -8v8m1 -8v8m1 -8v8m1 -8v7m1 -5v5m1 -5v4m1 -4v6m1 -6v6m1 -6v6m1 -7v5m1 -5v5m1 -4v3m1 -4v6m1 -6v6m1 -6v6m1 -5v5m1 -5v6m1 -7v7m1 -7v6m1 -6v5m1 -5v6m1 -6v7m1 -7v7m1 -7v7m1 -5v4m1 -5v5m1 -5v5m1 -6v6m1 -6v8m1 -8v8m1 -8v5m1 -5v5m1 -5v6m1 -6v6m1 -6v6m1 -5v5m1 -6v6m1 -6v6m1 -6v6m1 -5v5m1 -5v5m1 -5v5m1 -5v6m1 -6v6m1 -7v6m1 -6v6m1 -7v6m1 -6v6m1 -5v6m1 -5v5m1 -6v5m1 -5v6m1 -6v7m1 -7v7m1 -7v6m1 -6v6m1 -6v6m1 -6v7m1 -6v6m1 -7v7m1 -8v7m1 -7v5m1 -5v6m1 -7v7m1 -7v7m1 -6v6m1 -8v7m1 -8v7m1 -7v7m1 -6v6m1 -4v4m1 -6v6m1 -6v7m1 -7v7m1 -7v7m1 -6v4m1 -5v5m1 -5v5m1 -5v5m1 -5v6m1 -7v7m1 -7v7m1 -6v6m1 -6v6m1 -6v6m1 -6v5m1 -5v5m1 -5v6m1 -6v6m1 -6v5m1 -5v8m1 -8v8m1 -8v8m1 -8v7m1 -6v6m1 -6v4m1 -5v5m1 -5v5m1 -6v6m1 -6v8m1 -7v7m1 -7v7m1 -7v6m1 -4v4m1 -5v6m1 -6v6m1 -6v5m1 -7v7m1 -7v7m1 -4v5m1 -5v5m1 -5v5m1 -5v5m1 -5v5m1 -4v4m1 -3v4m1 -4v4m1 -4v4m1 -4v4m1 -5v5m1 -5v5m1 -5v5m1 -5v5m1 -6v6m1 -6v7m1 -6v6m1 -6v6m1 -7v7m1 -7v6m1 -6v5m1 -4v5m1 -7v7m1 -7v7m1 -7v6m1 -6v6m1 -6v7m1 -6v6m1 -6v6m1 -6v7m1 -5v5"/>
<path stroke="#f00" d="M378.5 3181v3m1 -3v6m1 -7v7m1 -7v6m1 -5v5m1 -5v6m1 -5v5m1 -7v7m1 -8v7m1 -7v5m1 -5v5m1 -5v6m1 -6v6m1 -6v7m1 -7v7m1 -7v6m1 -6v6m1 -8v7m1 -7v7m1 -6v6m1 -6v5m1 -5v5m1 -5v6m1 -6v6m1 -5v5m1 -5v5m1 -5v4m1 -7v6m1 -6v6m1 -7v7m1 -7v8m1 -7v7m1 -7v5m1 -5v5m1 -5v4m1 -4v6m1 -5v5m1 -5v5m1 -6v6m1 -6v5m1 -6v6m1 -6v6m1 -7v7m1 -8v8m1 -8v8m1 -7v6m1 -5v5m1 -4v4m1 -4v4m1 -6v6m1 -6v6m1 -6v6m1 -6v5m1 -5v5m1 -5v5m1 -5v5m1 -5v5m1 -5v6m1 -7v7m1 -7v4m1 -6v6m1 -6v5m1 -5v4m1 -4v5m1 -6v6m1 -6v5m1 -6v6m1 -6v5m1 -5v5m1 -6v6m1 -6v6m1 -6v5m1 -6v6m1 -6v5m1 -6v6m1 -6v5m1 -6v6m1 -7v7m1 -8v7m1 -8v8m1 -9v6m1 -6v5m1 -7v7m1 -9v7m1 -7v6m1 -6v5m1 -7v6m1 -6v6m1 -8v7m1 -8v7m1 -8v6m1 -8v7m1 -8v7m1 -9v7m1 -7v6m1 -8v7m1 -8v7m1 -10v10m1 -10v7m1 -10v8m1 -9v8m1 -9v7m1 -8v7m1 -9v7m1 -8v7m1 -9v7m1 -8v7m1 -8v6m1 -7v6m1 -8v7m1 -7v5m1 -6v5m1 -5v6m1 -6v6m1 -7v5m1 -5v5m1 -6v6m1 -7v7m1 -7v6m1 -6v6m1 -6v6m1 -5v6m1 -6v9m1 -7v7m1 -6v6m1 -5v7m1 -6v6m1 -5v7m1 -5v6m1 -6v7m1 -6v8m1 -6v6m1 -4v5m1 -5v6m1 -5v7m1 -6v6m1 -6v6m1 -5v6m1 -6v6m1 -6v7m1 -7v8m1 -6v6m1 -6v5m1 -5v6m1 -7v7m1 -7v7m1 -6v6m1 -5v6m1 -6v6m1 -6v6m1 -5v5m1 -5v6m1 -6v6m1 -6v5m1 -4v4m1 -4v5m1 -5v6m1 -5v6m1 -6v7m1 -6v6m1 -6v5m1 -4v4m1 -4v4m1 -5v6m1 -6v6m1 -6v7m1 -5v5m1 -5v5m1 -5v5m1 -4v4m1 -4v5m1 -7v7m1 -7v6m1 -5v6m1 -6v6m1 -5v5m1 -5v5m1 -4v5m1 -5v5m1 -9v9m1 -9v9m1 -7v7m1 -6v8m1 -8v8m1 -8v6m1 -6v7m1 -6v6m1 -7v7m1 -7v7m1 -6v6m1 -6v6m1 -5v5m1 -5v4m1 -4v4m1 -4v6m1 -5v5m1 -5v5m1 -5v5m1 -5v6m1 -4v5m1 -7v7m1 -7v7m1 -6v5m1 -5v6m1 -5v6m1 -7v7m1 -7v5m1 -5v7m1 -7v7m1 -7v7m1 -7v5m1 -5v5m1 -4v4m1 -4v6m1 -7v7m1 -7v7m1 -7v7m1 -7v6m1 -5v5m1 -6v6m1 -6v5m1 -5v5m1 -5v6m1 -7v7m1 -7v6m1 -6v6m1 -6v6m1 -6v6m1 -8v7m1 -7v6m1 -9v7m1 -7v6m1 -6v5m1 -5v6m1 -6v7m1 -6v7m1 -6v9m1 -8v8m1 -5v5m1 -6v6m1 -6v6m1 -5v5m1 -4v5m1 -5v5m1 -6v5m1 -5v5m1 -5v5m1 -5v6m1 -6v6m1 -6v5m1 -5v5m1 -5v5m1 -5v5m1 -7v7m1 -7v7m1 -5v4m1 -5v5m1 -5v5m1 -4v6m1 -8v8m1 -9v6m1 -7v7m1 -9v7m1 -7v6m1 -8v7m1 -10v9m1 -13v12m1 -17v15m1 -18v16m1 -18v15m1 -16v12m1 -13v8m1 -8v13m1 -11v17m1 -17v20m1 -15v16m1 -11v12m1 -6v6m1 -5v7m1 -7v8m1 -7v7m1 -8v8m1 -8v6m1 -4v4m1 -6v7m1 -7v8m1 -7v7m1 -5v5m1 -4v4m1 -5v6m1 -6v6m1 -6v5m1 -7v7m1 -7v6m1 -6v6m1 -6v5m1 -5v5m1 -6v6m1 -6v5m1 -5v4m1 -6v7m1 -7v7m1 -7v6m1 -7v6m1 -8v7m1 -7v7m1 -6v6m1 -6v6m1 -6v6m1 -6v5m1 -5v5m1 -5v5m1 -5v5m1 -6v6m1 -6v6m1 -6v5m1 -5v5m1 -6v5m1 -6v6m1 -6v6m1 -7v6m1 -6v6m1 -6v6m1 -6v6m1 -7v7m1 -8v7m1 -7v7m1 -8v8m1 -8v6m1 -6v5m1 -6v6m1 -6v6m1 -6v6m1 -7v6m1 -9v9m1 -10v9m1 -10v7m1 -9v8m1 -9v8m1 -10v9m1 -12v11m1 -14v11m1 -16v14m1 -21v19m1 -27v24m1 -32v29m1 -40v35m1 -48v41m1 -61v53m1 -82v74m1 -101v90m1 -109v96m1 -128v108m1 -156v127m1 -194v167m1 -256v237m1 -401v369m1 -625v577m1 -694v627m1 -642v553m1 -553v521m1 -506v648m1 -633v732m1 -468v522m1 -295v325m1 -184v204m1 -105v119m1 -65v76m1 -46v55m1 -35v43m1 -29v35m1 -24v29m1 -20v25m1 -17v21m1 -15v18m1 -13v16m1 -11v14m1 -10v13m1 -10v13m1 -10v11m1 -8v9m1 -6v7m1 -7v9m1 -5v6m1 -6v9m1 -7v7m1 -6v7m1 -6v6m1 -5v5m1 -4v5m1 -5v6m1 -6v6m1 -6v6m1 -5v7m1 -5v5m1 -5v6m1 -6v6m1 -6v6m1 -5v7m1 -5v5m1 -5v6m1 -6v7m1 -6v6m1 -5v5m1 -5v6m1 -4v6m1 -6v6m1 -6v6m1 -6v6m1 -6v6m1 -5v5m1 -4v5m1 -5v5m1 -5v5m1 -5v6m1 -6v6m1 -5v5m1 -5v5m1 -5v5m1 -5v6m1 -7v7m1 -7v6m1 -6v6m1 -7v6m1 -7v6m1 -7v6m1 -6v5m1 -7v6m1 -6v5m1 -5v7m1 -7v7m1 -7v6m1 -4v5m1 -5v7m1 -6v6m1 -4v4m1 -5v6m1 -7v7m1 -7v6m1 -6v6m1 -7v7m1 -7v6m1 -5v5m1 -4v5m1 -6v6m1 -6v7m1 -6v6m1 -6v6m1 -7v7m1 -7v7m1 -7v7m1 -6v6m1 -7v7m1 -7v7m1 -6v6m1 -7v7m1 -7v6m1 -6v5m1 -5v5m1 -5v5m1 -4v5m1 -5v5m1 -6v6m1 -6v6m1 -6v6m1 -6v6m1 -5v5m1 -6v6m1 -6v6m1 -6v6m1 -7v7m1 -7v6m1 -5v5m1 -4v5m1 -5v5m1 -6v5m1 -5v5m1 -5v5m1 -6v6m1 -7v6m1 -6v5m1 -4v5m1 -4v4m1 -4v5m1 -5v5m1 -5v5m1 -5v4m1 -5v5m1 -5v5m1 -5v5m1 -5v5m1 -5v5m1 -5v6m1 -6v7m1 -7v7m1 -7v6m1 -7v7m1 -7v5m1 -4v4m1 -5v5m1 -5v5m1 -5v6m1 -5v5m1 -5v5m1 -6v6m1 -6v5m1 -5v4m1 -4v5m1 -4v4m1 -4v4m1 -5v5m1 -5v4m1 -4v4m1 -4v5m1 -5v5m1 -6v6m1 -6v7m1 -6v6m1 -6v5m1 -6v6m1 -6v5m1 -5v4m1 -5v5m1 -5v6m1 -5v6m1 -6v6m1 -7v6m1 -6v6m1 -6v6m1 -6v5m1 -6v6m1 -6v5m1 -5v5m1 -7v6m1 -6v6m1 -6v6m1 -7v7m1 -7v5m1 -5v4m1 -4v4m1 -6v6m1 -7v7m1 -8v6m1 -7v7m1 -7v7m1 -6v6m1 -7v5m1 -7v6m1 -6v6m1 -6v6m1 -7v7m1 -7v5m1 -6v5m1 -5v5m1 -7v7m1 -7v6m1 -6v6m1 -7v6m1 -8v7m1 -8v7m1 -9v8m1 -11v9m1 -10v10m1 -12v9m1 -12v11m1 -13v10m1 -11v9m1 -12v10m1 -10v8m1 -9v7m1 -7v11m1 -11v16m1 -14v19m1 -17v20m1 -14v17m1 -12v14m1 -9v11m1 -8v11m1 -8v10m1 -8v10m1 -8v10m1 -7v9m1 -7v8m1 -6v8m1 -6v9m1 -8v9m1 -7v8m1 -6v7m1 -5v7m1 -7v7m1 -7v9m1 -5v6m1 -5v5m1 -5v5m1 -5v5m1 -5v6m1 -5v6m1 -5v6m1 -6v6m1 -5v7m1 -5v5m1 -5v5m1 -5v6m1 -5v5m1 -5v6m1 -6v6m1 -5v6m1 -6v6m1 -6v6m1 -5v5m1 -5v6m1 -6v6m1 -6v6m1 -5v5m1 -5v6m1 -5v5m1 -5v5m1 -5v6m1 -6v6m1 -6v6m1 -6v7m1 -7v7m1 -6v5m1 -4v6m1 -5v5m1 -6v7m1 -7v8m1 -6v6m1 -6v4m1 -4v6m1 -5v5m1 -5v5m1 -5v5m1 -5v7m1 -5v7m1 -7v7m1 -7v6m1 -6v6m1 -6v7m1 -6v6m1 -6v6m1 -6v8m1 -6v6m1 -6v6m1 -5v5m1 -5v5m1 -5v5m1 -5v5m1 -5v6m1 -5v6m1 -6v7m1 -7v7m1 -7v6m1 -6v6m1 -6v6m1 -5v4m1 -4v4m1 -5v5m1 -5v5m1 -5v6m1 -6v7m1 -6v6m1 -7v6m1 -6v5m1 -5v5m1 -5v6m1 -5v5m1 -5v5m1 -5v5m1 -6v6m1 -6v6m1 -6v6m1 -6v6m1 -8v7m1 -9v8m1 -8v8m1 -10v7m1 -8v7m1 -9v7m1 -10v10m1 -12v9m1 -9v8m1 -9v7m1 -7v9m1 -7v11m1 -11v14m1 -12v14m1 -10v12m1 -8v8m1 -5v7m1 -5v5m1 -4v6m1 -5v5m1 -5v5m1 -5v5m1 -5v5m1 -5v6m1 -6v6m1 -5v5m1 -5v5m1 -5v5m1 -5v6m1 -6v6m1 -6v6m1 -6v6m1 -6v6m1 -6v5m1 -5v4m1 -4v6m1 -6v6m1 -6v6m1 -8v8m1 -8v7m1 -6v7m1 -7v7m1 -5v5m1 -5v4m1 -4v5m1 -4v4m1 -6v6m1 -6v6m1 -7v7m1 -7v7m1 -6v6m1 -6v6m1 -8v7m1 -7v5m1 -6v5m1 -7v6m1 -8v7m1 -10v10m1 -16v14m1 -20v18m1 -24v22m1 -26v23m1 -25v19m1 -21v15m1 -15v9m1 -8v15m1 -14v22m1 -21v28m1 -23v27m1 -20v21m1 -13v14m1 -7v8m1 -5v6m1 -5v7m1 -7v7m1 -5v5m1 -5v6m1 -6v8m1 -6v6m1 -5v5m1 -6v6m1 -6v6m1 -5v6m1 -5v5m1 -5v4m1 -4v5m1 -5v5m1 -5v4m1 -4v4m1 -5v5m1 -5v5m1 -5v5m1 -5v5m1 -6v6m1 -9v9m1 -9v9m1 -7v7m1 -6v5m1 -4v6m1 -8v8m1 -8v6m1 -5v6m1 -5v5m1 -5v5m1 -5v5m1 -4v6m1 -6v6m1 -5v5m1 -5v5m1 -5v6m1 -6v6m1 -6v7m1 -7v7m1 -5v5m1 -6v6m1 -6v5m1 -5v7m1 -7v7m1 -7v6m1 -6v6m1 -6v5m1 -6v6m1 -6v6m1 -5v6m1 -6v6m1 -6v6m1 -5v5m1 -5v5m1 -6v5m1 -6v6m1 -6v6m1 -4v5m1 -5v5m1 -6v6m1 -6v5m1 -5v7m1 -7v7m1 -7v7m1 -9v8m1 -8v8m1 -7v7m1 -6v6m1 -7v6m1 -6v6m1 -6v5m1 -5v5m1 -5v6m1 -5v5m1 -7v7m1 -7v5m1 -6v7m1 -7v7m1 -6v7m1 -8v8m1 -8v7m1 -7v6m1 -6v6m1 -6v5m1 -5v4m1 -6v7m1 -7v7m1 -7v5m1 -5v6m1 -6v6m1 -6v5m1 -6v5m1 -6v6m1 -6v6m1 -7v6m1 -8v8m1 -10v7m1 -7v6m1 -8v8m1 -9v7m1 -9v8m1 -10v8m1 -10v10m1 -12v9m1 -12v10m1 -13v11m1 -15v13m1 -18v16m1 -24v21m1 -32v29m1 -44v40m1 -59v54m1 -85v77m1 -114v103m1 -144v129m1 -170v151m1 -183v152m1 -181v144m1 -176v135m1 -175v134m1 -189v157m1 -250v221m1 -430v398m1 -676v636m1 -734v679m1 -688v595m1 -595v492m1 -483v645m1 -635v707m1 -466v518m1 -287v327m1 -165v203m1 -131v176m1 -124v178m1 -138v178m1 -140v166m1 -121v141m1 -87v102m1 -62v72m1 -46v54m1 -34v40m1 -25v31m1 -21v25m1 -17v21m1 -15v18m1 -12v14m1 -10v12m1 -8v10m1 -7v9m1 -8v10m1 -7v9m1 -7v8m1 -6v8m1 -7v8m1 -6v6m1 -5v5m1 -5v6m1 -5v7m1 -6v7m1 -5v5m1 -4v5m1 -5v7m1 -7v7m1 -5v6m1 -6v7m1 -7v7m1 -7v6m1 -6v7m1 -7v7m1 -6v6m1 -6v7m1 -4v4m1 -6v6m1 -6v7m1 -5v5m1 -6v5m1 -5v6m1 -5v5m1 -5v5m1 -5v5m1 -5v5m1 -4v4m1 -5v6m1 -6v6m1 -6v6m1 -7v6m1 -6v7m1 -6v6m1 -6v5m1 -6v6m1 -6v7m1 -7v7m1 -7v5m1 -5v5m1 -5v5m1 -4v6m1 -6v6m1 -6v6m1 -6v6m1 -7v7m1 -7v4m1 -5v5m1 -5v6m1 -5v6m1 -6v6m1 -6v5m1 -5v5m1 -6v6m1 -6v7m1 -7v7m1 -7v6m1 -6v6m1 -6v6m1 -6v6m1 -6v5m1 -5v5m1 -5v4m1 -4v4m1 -4v5m1 -4v4m1 -6v6m1 -6v6m1 -7v7m1 -7v7m1 -6v7m1 -6v6m1 -7v6m1 -6v4m1 -4v5m1 -5v5m1 -5v5m1 -5v5m1 -5v5m1 -7v6m1 -6v6m1 -5v5m1 -5v5m1 -4v4m1 -6v7m1 -7v7m1 -8v8m1 -8v6m1 -6v6m1 -5v5m1 -7v6m1 -7v6m1 -8v7m1 -9v8m1 -9v8m1 -10v10m1 -12v8m1 -10v9m1 -11v10m1 -13v10m1 -11v9m1 -11v9m1 -9v7m1 -8v7m1 -7v10m1 -8v12m1 -11v14m1 -11v14m1 -11v13m1 -9v11m1 -8v10m1 -7v8m1 -6v8m1 -8v9m1 -6v8m1 -6v6m1 -4v5m1 -5v6m1 -6v6m1 -6v6m1 -6v9m1 -9v9m1 -7v7m1 -5v4m1 -5v5m1 -5v7m1 -7v7m1 -7v6m1 -6v6m1 -6v6m1 -4v4m1 -4v4m1 -4v6m1 -6v6m1 -5v4m1 -5v7m1 -7v7m1 -6v6m1 -6v6m1 -6v6m1 -6v7m1 -7v7m1 -6v6m1 -5v6m1 -5v6m1 -9v9m1 -9v8m1 -8v8m1 -6v6m1 -6v7m1 -6v6m1 -6v4m1 -5v6m1 -6v6m1 -4v4m1 -4v4m1 -4v5m1 -5v5m1 -4v5m1 -6v6m1 -7v6m1 -6v6m1 -6v6m1 -6v6m1 -5v5m1 -5v5m1 -8v7m1 -8v8m1 -8v8m1 -7v7m1 -7v6m1 -6v6m1 -5v5m1 -5v5m1 -5v7m1 -6v6m1 -6v8m1 -6v6m1 -4v5m1 -6v6m1 -6v7m1 -6v6m1 -6v6m1 -6v6m1 -6v7m1 -7v7m1 -6v6m1 -5v5m1 -7v8m1 -8v8m1 -7v6m1 -4v6m1 -8v8m1 -8v7m1 -5v5m1 -5v4m1 -4v5m1 -5v5m1 -7v6m1 -6v6m1 -4v6m1 -6v6m1 -7v5m1 -5v5m1 -5v5m1 -5v6m1 -6v6m1 -5v5m1 -5v6m1 -6v6m1 -5v5m1 -6v5m1 -5v6m1 -6v6m1 -6v5m1 -5v5m1 -5v6m1 -6v6m1 -6v6m1 -6v6m1 -6v7m1 -6v6m1 -7v8m1 -8v8m1 -7v6m1 -6v5m1 -5v6m1 -6v6m1 -5v6m1 -5v5m1 -6v6m1 -7v7m1 -7v7m1 -6v6m1 -6v6m1 -6v7m1 -7v7m1 -6v6m1 -6v5m1 -5v5m1 -5v6m1 -6v6m1 -7v7m1 -7v6m1 -6v6m1 -6v6m1 -7v7m1 -8v7m1 -7v7m1 -5v5m1 -6v6m1 -6v5m1 -4v5m1 -5v5m1 -6v6m1 -6v6m1 -6v6m1 -7v7m1 -8v6m1 -6v5m1 -5v4m1 -4v6m1 -6v6m1 -7v5m1 -5v6m1 -6v6m1 -6v7m1 -6v6m1 -7v6m1 -6v5m1 -5v6m1 -6v6m1 -5v4m1 -4v4m1 -5v5m1 -5v7m1 -7v7m1 -8v5m1 -5v5m1 -5v5m1 -5v5m1 -6v6m1 -6v6m1 -7v6m1 -6v6m1 -6v6m1 -8v7m1 -7v6m1 -7v6m1 -7v7m1 -9v7m1 -9v7m1 -10v9m1 -12v11m1 -14v12m1 -17v15m1 -21v18m1 -25v22m1 -30v27m1 -37v32m1 -46v40m1 -57v50m1 -73v65m1 -97v87m1 -121v107m1 -138v121m1 -152v129m1 -169v137m1 -181v147m1 -183v152m1 -164v132m1 -135v96m1 -96v54m1 -51v93m1 -93v132m1 -116v156m1 -122v161m1 -119v148m1 -108v132m1 -93v114m1 -75v91m1 -62v74m1 -50v61m1 -40v49m1 -33v40m1 -28v34m1 -23v27m1 -18v22m1 -15v18m1 -13v16m1 -11v13m1 -9v11m1 -8v9m1 -7v9m1 -6v8m1 -6v7m1 -6v7m1 -5v7m1 -6v6m1 -5v6m1 -5v5m1 -5v6m1 -5v6m1 -4v5m1 -6v6m1 -6v5m1 -5v5m1 -4v5m1 -5v6m1 -5v5m1 -5v5m1 -5v6m1 -5v5m1 -7v6m1 -6v6m1 -6v7m1 -6v6m1 -6v5m1 -4v6m1 -6v6m1 -7v7m1 -7v8m1 -6v6m1 -6v5m1 -5v6m1 -5v5m1 -4v5m1 -6v6m1 -6v8m1 -7v7m1 -7v6m1 -5v5m1 -5v5m1 -4v5m1 -5v6m1 -6v6m1 -6v6m1 -6v5m1 -5v5m1 -6v5m1 -5v7m1 -7v9m1 -7v7m1 -8v5m1 -5v5m1 -7v7m1 -7v8m1 -6v6m1 -8v7m1 -7v7m1 -5v6m1 -7v7m1 -7v8m1 -8v8m1 -6v5m1 -5v5m1 -5v6m1 -7v7m1 -8v6m1 -6v8m1 -7v7m1 -7v6m1 -5v5m1 -5v6m1 -6v7m1 -7v7m1 -7v5m1 -5v5m1 -5v6m1 -6v6m1 -6v6m1 -6v5m1 -5v6m1 -6v6m1 -6v6m1 -7v7m1 -7v6m1 -5v6m1 -6v6m1 -6v6m1 -6v5m1 -5v5m1 -6v7m1 -8v8m1 -8v8m1 -5v5m1 -5v5m1 -5v4m1 -4v7m1 -7v7m1 -8v8m1 -8v5m1 -5v6m1 -5v6m1 -7v7m1 -7v7m1 -6v6m1 -5v4m1 -5v7m1 -7v7m1 -7v7m1 -6v5m1 -5v5m1 -5v7m1 -6v6m1 -6v5m1 -6v6m1 -6v6m1 -5v5m1 -6v6m1 -6v6m1 -6v5m1 -6v6m1 -6v7m1 -7v7m1 -7v5m1 -5v5m1 -5v5m1 -5v5m1 -5v5m1 -6v7m1 -7v7m1 -6v5m1 -5v4m1 -4v4m1 -5v5m1 -5v6m1 -8v8m1 -8v7m1 -6v6m1 -6v5m1 -4v6m1 -7v7m1 -7v7m1 -6v5m1 -5v6m1 -6v7m1 -8v8m1 -8v7m1 -6v6m1 -6v5m1 -5v8m1 -8v8m1 -7v5m1 -5v5m1 -5v5m1 -5v5m1 -5v6m1 -7v7m1 -7v8m1 -7v7m1 -7v5m1 -5v7m1 -7v7m1 -7v7m1 -7v5m1 -6v6m1 -7v7m1 -8v6m1 -6v6m1 -7v6m1 -7v6m1 -7v7m1 -12v12m1 -15v15m1 -22v18m1 -26v24m1 -34v31m1 -46v41m1 -60v53m1 -73v65m1 -88v78m1 -105v90m1 -115v96m1 -122v102m1 -126v103m1 -127v100m1 -122v97m1 -109v83m1 -83v59m1 -60v36m1 -36v60m1 -59v94m1 -87v126m1 -104v143m1 -115v141m1 -105v125m1 -86v103m1 -64v75m1 -49v57m1 -37v44m1 -27v32m1 -21v25m1 -17v19m1 -12v15m1 -10v11m1 -7v7m1 -7v9m1 -6v6m1 -5v7m1 -7v7m1 -7v7m1 -5v5m1 -5v6m1 -5v5m1 -5v5m1 -4v5m1 -5v5m1 -4v5m1 -5v5m1 -5v6m1 -6v6m1 -6v5m1 -5v5m1 -6v7m1 -7v8m1 -6v6m1 -7v7m1 -7v5m1 -4v5m1 -5v5m1 -5v5m1 -5v5m1 -5v5m1 -5v5m1 -4v4m1 -5v5m1 -6v5m1 -5v7m1 -7v7m1 -7v7m1 -6v5m1 -5v5m1 -5v5m1 -6v6m1 -6v6m1 -5v5m1 -5v5m1 -5v5m1 -5v5m1 -5v6m1 -7v7m1 -7v5m1 -5v6m1 -6v7m1 -6v6m1 -7v6m1 -6v5m1 -5v5m1 -7v7m1 -8v7m1 -7v5m1 -7v7m1 -7v6m1 -9v8m1 -10v9m1 -13v11m1 -16v15m1 -20v18m1 -23v20m1 -26v22m1 -30v25m1 -34v29m1 -38v33m1 -44v38m1 -52v44m1 -59v50m1 -59v50m1 -50v39m1 -41v27m1 -27v24m1 -23v36m1 -34v46m1 -38v47m1 -35v45m1 -32v40m1 -28v36m1 -27v33m1 -23v28m1 -20v25m1 -17v21m1 -15v18m1 -13v15m1 -10v11m1 -8v9m1 -5v8m1 -7v8m1 -7v7m1 -7v9m1 -6v6m1 -6v6m1 -4v4m1 -4v6m1 -5v5m1 -5v5m1 -5v6m1 -6v7m1 -5v5m1 -6v5m1 -6v6m1 -6v6m1 -5v5m1 -4v6m1 -7v7m1 -8v8m1 -8v8m1 -6v5m1 -5v5m1 -5v6m1 -5v5m1 -5v6m1 -7v7m1 -7v6m1 -6v6m1 -6v7m1 -6v6m1 -5v5m1 -6v6m1 -6v6m1 -6v6m1 -4v4m1 -5v5m1 -5v6m1 -7v7m1 -7v6m1 -5v5m1 -5v5m1 -5v5m1 -5v6m1 -5v5m1 -6v6m1 -7v5m1 -5v6m1 -5v7m1 -7v7m1 -7v6m1 -6v6m1 -7v6m1 -6v6m1 -4v4m1 -4v6m1 -6v7m1 -7v7m1 -6v7m1 -7v7m1 -8v6m1 -6v6m1 -6v6m1 -8v8m1 -8v8m1 -7v6m1 -5v5m1 -5v6m1 -9v9m1 -9v8m1 -7v7m1 -5v5m1 -6v7m1 -8v8m1 -8v7m1 -5v5m1 -5v5m1 -5v5m1 -5v5m1 -6v6m1 -6v6m1 -8v8m1 -8v8m1 -5v5m1 -6v5m1 -7v7m1 -7v7m1 -4v4m1 -6v6m1 -6v6m1 -6v6m1 -5v5m1 -5v5m1 -5v5m1 -5v4m1 -4v4m1 -5v5m1 -5v6m1 -6v6m1 -6v5m1 -6v6m1 -6v6m1 -7v8m1 -8v8m1 -7v6m1 -5v5m1 -5v5m1 -4v4m1 -7v7m1 -7v6m1 -5v6m1 -4v6m1 -6v6m1 -6v5m1 -6v6m1 -6v5m1 -5v5m1 -5v5m1 -5v5m1 -5v5m1 -6v6m1 -6v6m1 -6v6m1 -6v6m1 -6v6m1 -6v5m1 -6v5m1 -7v7m1 -7v6m1 -7v5m1 -5v5m1 -6v6m1 -8v6m1 -8v7m1 -10v9m1 -13v12m1 -16v14m1 -18v16m1 -21v18m1 -24v20m1 -26v22m1 -31v27m1 -36v31m1 -39v34m1 -41v34m1 -40v31m1 -34v25m1 -27v19m1 -19v12m1 -10v18m1 -18v25m1 -22v29m1 -23v31m1 -23v31m1 -24v30m1 -23v28m1 -20v24m1 -16v19m1 -13v16m1 -11v12m1 -8v11m1 -9v9m1 -5v9m1 -8v8m1 -6v5m1 -4v5m1 -5v6m1 -5v7m1 -6v7m1 -5v6m1 -5v6m1 -5v7m1 -5v6m1 -5v5m1 -4v6m1 -5v6m1 -6v8m1 -8v8m1 -7v7m1 -7v5m1 -6v7m1 -7v7m1 -4v5m1 -4v4m1 -4v4m1 -4v5m1 -5v5m1 -4v4m1 -4v4m1 -3v5m1 -5v5m1 -7v7m1 -7v7m1 -7v7m1 -6v5m1 -5v5m1 -5v5m1 -5v4m1 -4v4m1 -4v5m1 -6v6m1 -6v6m1 -5v6m1 -8v8m1 -8v7m1 -7v7m1 -6v6m1 -5v5m1 -7v6m1 -6v7m1 -7v7m1 -6v6m1 -6v6m1 -5v5m1 -4v4m1 -5v5m1 -5v6m1 -5v5m1 -7v7m1 -7v7m1 -7v6m1 -6v6m1 -6v6m1 -6v5m1 -4v5m1 -5v6m1 -6v6m1 -7v6m1 -7v6m1 -6v5m1 -6v5m1 -6v6m1 -7v6m1 -9v9m1 -11v9m1 -12v11m1 -15v13m1 -16v13m1 -18v16m1 -22v19m1 -25v21m1 -26v23m1 -29v24m1 -29v23m1 -28v22m1 -27v22m1 -25v19m1 -21v16m1 -17v12m1 -12v13m1 -12v18m1 -16v22m1 -19v25m1 -19v25m1 -19v26m1 -20v26m1 -20v25m1 -19v22m1 -15v17m1 -11v14m1 -9v11m1 -8v10m1 -8v10m1 -7v7m1 -6v7m1 -4v6m1 -5v6m1 -5v5m1 -5v5m1 -5v4m1 -4v6m1 -6v6m1 -5v6m1 -5v6m1 -5v5m1 -5v5m1 -8v7m1 -7v7m1 -5v6m1 -7v7m1 -7v7m1 -5v5m1 -5v5m1 -5v7m1 -8v9m1 -10v10m1 -10v8m1 -8v7m1 -5v5m1 -6v6m1 -6v6m1 -5v6m1 -7v7m1 -7v6m1 -6v6m1 -6v6m1 -5v5m1 -5v5m1 -5v5m1 -5v6m1 -5v5m1 -5v5m1 -5v5m1 -6v6m1 -6v5m1 -5v4m1 -4v4m1 -5v5m1 -5v5m1 -5v7m1 -6v6m1 -6v6m1 -7v6m1 -7v7m1 -7v7m1 -5v5m1 -5v5m1 -5v5m1 -6v6m1 -6v6m1 -5v5m1 -5v5m1 -5v6m1 -6v6m1 -7v6m1 -6v7m1 -6v6m1 -6v6m1 -6v7m1 -6v6m1 -6v6m1 -6v5m1 -7v8m1 -8v8m1 -6v6m1 -6v6m1 -6v4m1 -4v5m1 -5v6m1 -6v6m1 -6v5m1 -5v5m1 -5v5m1 -7v6m1 -6v8m1 -7v7m1 -7v7m1 -5v5m1 -5v5m1 -5v6m1 -6v6m1 -6v5m1 -5v5m1 -6v5m1 -5v6m1 -6v6m1 -6v5m1 -4v5m1 -8v8m1 -8v8m1 -8v8m1 -8v10m1 -7v7m1 -7v5m1 -6v6m1 -6v7m1 -6v6m1 -6v5m1 -5v5m1 -5v5m1 -5v4m1 -5v5m1 -5v5m1 -5v5m1 -5v5m1 -5v5m1 -5v5m1 -5v5m1 -5v5m1 -5v5m1 -6v6m1 -6v7m1 -7v7m1 -7v6m1 -6v5m1 -6v6m1 -6v6m1 -5v5m1 -5v5m1 -6v5m1 -5v5m1 -5v4m1 -5v5m1 -5v5m1 -6v6m1 -6v7m1 -6v6m1 -6v6m1 -6v6m1 -6v7m1 -8v8m1 -8v5m1 -5v6m1 -6v8m1 -8v8m1 -8v7m1 -7v7m1 -6v6m1 -6v5m1 -5v5m1 -4v4m1 -4v6m1 -7v7m1 -7v5m1 -5v6m1 -6v6m1 -7v7m1 -7v7m1 -7v7m1 -7v8m1 -8v8m1 -8v7m1 -7v6m1 -6v6m1 -6v6m1 -5v5m1 -6v6m1 -6v6m1 -5v5m1 -6v6m1 -6v8m1 -6v7m1 -8v8m1 -8v7m1 -7v8m1 -7v7m1 -7v7m1 -7v7m1 -5v5m1 -5v4m1 -4v5m1 -5v5m1 -6v5m1 -5v5m1 -5v5m1 -5v5m1 -5v5m1 -4v4m1 -4v4m1 -4v4m1 -3v4m1 -4v4m1 -6v6m1 -7v7m1 -7v7m1 -7v7m1 -7v5m1 -5v6m1 -6v6m1 -7v7m1 -7v8m1 -7v7m1 -7v4"/>
<path stroke="#0f0" d="M378.5 3188v6m1 -7v7m1 -7v7m1 -7v7m1 -5v4m1 -5v5m1 -5v6m1 -6v6m1 -6v4m1 -4v4m1 -4v4m1 -5v5m1 -6v5m1 -5v7m1 -6v7m1 -8v8m1 -8v8m1 -8v7m1 -7v7m1 -7v5m1 -6v6m1 -6v6m1 -5v6m1 -7v7m1 -7v6m1 -7v7m1 -7v5m1 -5v5m1 -5v5m1 -4v5m1 -5v5m1 -5v4m1 -5v5m1 -5v6m1 -6v6m1 -9v9m1 -10v7m1 -7v8m1 -7v7m1 -7v7m1 -5v4m1 -5v5m1 -6v6m1 -6v6m1 -5v6m1 -6v6m1 -7v7m1 -8v7m1 -7v6m1 -5v4m1 -5v5m1 -5v5m1 -6v6m1 -6v6m1 -5v5m1 -5v5m1 -7v7m1 -7v6m1 -6v7m1 -5v5m1 -6v6m1 -6v5m1 -5v5m1 -6v6m1 -6v5m1 -6v6m1 -6v6m1 -6v6m1 -6v6m1 -6v4m1 -4v5m1 -7v7m1 -7v6m1 -6v5m1 -5v7m1 -8v8m1 -8v8m1 -7v6m1 -6v4m1 -5v5m1 -7v7m1 -7v6m1 -4v4m1 -5v5m1 -6v6m1 -7v6m1 -6v5m1 -5v4m1 -4v5m1 -6v6m1 -6v6m1 -7v7m1 -7v7m1 -7v6m1 -5v5m1 -6v5m1 -5v4m1 -5v5m1 -8v8m1 -8v8m1 -6v6m1 -7v7m1 -8v7m1 -8v8m1 -8v5m1 -5v5m1 -5v6m1 -6v6m1 -8v8m1 -8v7m1 -7v7m1 -7v7m1 -8v6m1 -6v6m1 -5v5m1 -5v5m1 -6v5m1 -6v6m1 -7v6m1 -6v6m1 -6v5m1 -6v6m1 -6v5m1 -6v5m1 -5v4m1 -4v4m1 -5v6m1 -6v6m1 -5v5m1 -5v5m1 -6v6m1 -7v6m1 -6v4m1 -4v4m1 -7v7m1 -7v6m1 -6v5m1 -6v6m1 -6v7m1 -7v7m1 -6v5m1 -5v5m1 -5v5m1 -7v6m1 -6v6m1 -6v7m1 -5v5m1 -7v6m1 -6v6m1 -6v6m1 -7v7m1 -7v6m1 -6v6m1 -6v6m1 -5v5m1 -6v6m1 -6v6m1 -6v6m1 -5v5m1 -5v4m1 -4v4m1 -5v5m1 -8v7m1 -7v7m1 -6v6m1 -5v5m1 -5v5m1 -4v4m1 -4v5m1 -4v4m1 -4v4m1 -4v7m1 -7v7m1 -7v6m1 -7v7m1 -7v6m1 -6v6m1 -4v6m1 -6v6m1 -6v5m1 -6v6m1 -6v6m1 -5v6m1 -5v5m1 -5v5m1 -5v5m1 -5v5m1 -5v5m1 -6v6m1 -6v7m1 -6v6m1 -6v6m1 -6v5m1 -5v6m1 -6v7m1 -6v6m1 -6v6m1 -6v6m1 -6v6m1 -6v6m1 -6v6m1 -6v6m1 -7v6m1 -6v7m1 -6v7m1 -6v6m1 -7v6m1 -6v7m1 -7v7m1 -6v6m1 -7v6m1 -6v6m1 -6v6m1 -6v6m1 -6v6m1 -5v5m1 -5v8m1 -8v8m1 -8v5m1 -5v5m1 -5v5m1 -4v4m1 -5v5m1 -5v5m1 -6v6m1 -6v7m1 -6v6m1 -7v7m1 -9v8m1 -10v8m1 -8v6m1 -6v6m1 -6v5m1 -5v6m1 -5v5m1 -4v6m1 -5v6m1 -5v6m1 -5v7m1 -7v7m1 -6v6m1 -6v6m1 -6v6m1 -7v6m1 -6v7m1 -7v7m1 -7v5m1 -5v5m1 -5v5m1 -5v5m1 -6v6m1 -6v6m1 -6v6m1 -5v5m1 -5v5m1 -5v5m1 -6v5m1 -5v6m1 -6v6m1 -6v5m1 -9v9m1 -9v9m1 -8v7m1 -8v6m1 -7v6m1 -8v7m1 -11v10m1 -13v12m1 -15v13m1 -15v13m1 -13v9m1 -10v7m1 -7v12m1 -11v15m1 -13v16m1 -13v13m1 -8v10m1 -6v6m1 -5v5m1 -6v5m1 -5v6m1 -5v6m1 -5v5m1 -6v6m1 -6v6m1 -6v6m1 -6v6m1 -6v5m1 -6v6m1 -6v6m1 -6v5m1 -4v5m1 -6v6m1 -8v7m1 -7v6m1 -4v5m1 -7v7m1 -7v7m1 -7v5m1 -5v5m1 -5v5m1 -5v5m1 -5v5m1 -6v6m1 -6v5m1 -5v5m1 -5v5m1 -6v6m1 -7v6m1 -6v5m1 -5v5m1 -5v5m1 -4v5m1 -6v6m1 -7v6m1 -6v5m1 -5v6m1 -6v6m1 -6v5m1 -5v5m1 -6v6m1 -7v7m1 -7v5m1 -5v5m1 -6v6m1 -7v6m1 -6v6m1 -6v5m1 -4v6m1 -10v10m1 -10v8m1 -8v6m1 -6v6m1 -7v7m1 -8v7m1 -8v7m1 -9v9m1 -11v9m1 -11v8m1 -11v10m1 -12v11m1 -15v12m1 -17v15m1 -22v19m1 -27v25m1 -34v30m1 -38v33m1 -41v34m1 -45v37m1 -56v47m1 -83v75m1 -101v93m1 -117v106m1 -146v127m1 -184v148m1 -227v201m1 -311v287m1 -507v467m1 -641v584m1 -584v505m1 -516v406m1 -406v556m1 -545v666m1 -575v621m1 -365v390m1 -193v213m1 -92v108m1 -62v76m1 -51v61m1 -41v50m1 -34v41m1 -27v33m1 -23v28m1 -19v23m1 -16v20m1 -14v17m1 -12v15m1 -11v14m1 -10v12m1 -9v11m1 -8v10m1 -7v10m1 -8v8m1 -6v8m1 -6v7m1 -5v6m1 -6v8m1 -6v7m1 -5v5m1 -4v6m1 -6v6m1 -5v7m1 -5v7m1 -6v7m1 -6v6m1 -6v7m1 -7v7m1 -7v7m1 -6v6m1 -6v5m1 -5v7m1 -6v6m1 -4v4m1 -4v6m1 -6v6m1 -6v6m1 -6v6m1 -5v5m1 -7v7m1 -7v7m1 -4v4m1 -4v4m1 -4v5m1 -6v6m1 -6v5m1 -5v5m1 -6v6m1 -6v5m1 -6v6m1 -6v6m1 -5v5m1 -6v6m1 -7v7m1 -9v6m1 -7v7m1 -8v7m1 -9v8m1 -8v5m1 -6v6m1 -6v5m1 -5v5m1 -4v7m1 -7v7m1 -6v5m1 -5v6m1 -5v5m1 -5v5m1 -6v6m1 -6v6m1 -6v6m1 -4v4m1 -5v5m1 -5v5m1 -8v8m1 -8v7m1 -7v6m1 -4v4m1 -6v6m1 -6v6m1 -7v6m1 -7v5m1 -5v7m1 -7v7m1 -9v8m1 -8v6m1 -6v6m1 -6v5m1 -6v6m1 -7v7m1 -7v7m1 -7v6m1 -6v5m1 -4v4m1 -6v6m1 -6v6m1 -7v7m1 -7v6m1 -7v7m1 -7v5m1 -5v5m1 -6v6m1 -6v5m1 -5v5m1 -7v7m1 -7v6m1 -7v7m1 -8v7m1 -7v5m1 -5v5m1 -6v6m1 -6v6m1 -6v6m1 -4v4m1 -5v5m1 -6v5m1 -6v6m1 -6v6m1 -6v6m1 -6v5m1 -6v7m1 -7v7m1 -7v7m1 -4v5m1 -6v6m1 -6v5m1 -4v5m1 -5v5m1 -5v4m1 -4v5m1 -4v5m1 -5v5m1 -6v6m1 -6v5m1 -6v6m1 -6v6m1 -7v7m1 -7v6m1 -4v5m1 -5v5m1 -4v5m1 -5v5m1 -5v4m1 -5v6m1 -6v6m1 -5v5m1 -6v7m1 -7v7m1 -6v6m1 -7v7m1 -7v6m1 -4v4m1 -4v5m1 -5v5m1 -5v7m1 -7v7m1 -9v7m1 -7v7m1 -7v7m1 -4v5m1 -6v6m1 -6v6m1 -6v6m1 -5v6m1 -6v6m1 -6v6m1 -6v5m1 -4v5m1 -5v5m1 -5v5m1 -8v7m1 -7v8m1 -6v7m1 -6v6m1 -6v4m1 -6v6m1 -6v6m1 -5v5m1 -5v6m1 -6v6m1 -6v6m1 -6v5m1 -5v5m1 -5v6m1 -6v6m1 -6v5m1 -7v5m1 -5v5m1 -6v6m1 -6v7m1 -6v6m1 -8v6m1 -6v6m1 -7v6m1 -6v6m1 -5v5m1 -7v6m1 -6v7m1 -7v7m1 -7v7m1 -6v7m1 -5v7m1 -7v9m1 -7v8m1 -6v8m1 -7v9m1 -6v9m1 -8v9m1 -7v9m1 -7v9m1 -7v9m1 -7v9m1 -7v8m1 -8v9m1 -5v7m1 -7v8m1 -5v6m1 -5v7m1 -6v6m1 -4v5m1 -4v6m1 -7v7m1 -7v7m1 -6v7m1 -5v7m1 -6v9m1 -10v10m1 -10v9m1 -8v6m1 -5v5m1 -5v6m1 -6v6m1 -6v6m1 -6v6m1 -6v5m1 -4v8m1 -7v7m1 -6v4m1 -5v5m1 -5v5m1 -6v6m1 -6v6m1 -5v5m1 -4v7m1 -7v7m1 -7v5m1 -4v4m1 -4v6m1 -5v5m1 -4v5m1 -5v5m1 -5v6m1 -5v6m1 -5v7m1 -5v5m1 -5v6m1 -4v5m1 -5v6m1 -5v5m1 -5v5m1 -5v6m1 -5v7m1 -6v6m1 -7v7m1 -7v6m1 -4v5m1 -5v6m1 -6v6m1 -6v6m1 -5v6m1 -5v5m1 -6v6m1 -6v7m1 -7v7m1 -4v4m1 -5v6m1 -6v6m1 -5v6m1 -5v6m1 -7v7m1 -7v7m1 -6v6m1 -4v5m1 -5v5m1 -5v5m1 -5v7m1 -6v6m1 -6v5m1 -5v4m1 -4v5m1 -5v5m1 -5v5m1 -5v5m1 -5v5m1 -5v7m1 -8v8m1 -8v7m1 -7v7m1 -7v7m1 -7v7m1 -7v6m1 -6v5m1 -5v5m1 -6v5m1 -5v5m1 -6v6m1 -6v6m1 -8v8m1 -10v8m1 -9v7m1 -9v8m1 -9v7m1 -7v5m1 -7v7m1 -7v7m1 -6v9m1 -8v11m1 -10v13m1 -10v12m1 -9v10m1 -7v8m1 -6v8m1 -6v8m1 -8v8m1 -8v7m1 -7v8m1 -8v8m1 -5v5m1 -4v6m1 -5v5m1 -6v5m1 -7v7m1 -7v7m1 -5v7m1 -7v7m1 -6v4m1 -4v5m1 -5v5m1 -5v5m1 -5v5m1 -5v6m1 -6v6m1 -6v6m1 -6v5m1 -5v6m1 -5v5m1 -5v6m1 -8v8m1 -8v6m1 -6v5m1 -4v6m1 -5v5m1 -5v6m1 -5v5m1 -5v5m1 -5v5m1 -7v7m1 -7v6m1 -7v5m1 -7v7m1 -9v9m1 -10v8m1 -12v10m1 -15v14m1 -20v18m1 -24v22m1 -25v21m1 -22v17m1 -18v12m1 -12v14m1 -13v19m1 -17v23m1 -19v23m1 -17v19m1 -13v14m1 -8v9m1 -5v7m1 -5v7m1 -6v7m1 -6v6m1 -4v5m1 -4v5m1 -5v6m1 -5v5m1 -5v5m1 -5v6m1 -6v6m1 -6v6m1 -6v7m1 -5v6m1 -6v6m1 -5v5m1 -6v6m1 -7v6m1 -6v5m1 -7v7m1 -7v7m1 -7v7m1 -5v5m1 -6v5m1 -6v5m1 -7v8m1 -8v8m1 -6v5m1 -4v5m1 -5v5m1 -5v6m1 -6v6m1 -6v5m1 -4v5m1 -5v7m1 -6v6m1 -6v6m1 -6v6m1 -6v6m1 -5v4m1 -4v7m1 -6v6m1 -6v5m1 -5v4m1 -4v5m1 -5v5m1 -5v5m1 -5v5m1 -4v4m1 -4v5m1 -6v6m1 -6v5m1 -6v6m1 -6v5m1 -5v4m1 -4v6m1 -5v5m1 -5v5m1 -5v5m1 -6v6m1 -7v7m1 -7v7m1 -8v8m1 -8v7m1 -6v6m1 -6v6m1 -5v5m1 -5v6m1 -6v6m1 -6v5m1 -5v5m1 -5v5m1 -5v4m1 -4v5m1 -5v5m1 -6v5m1 -5v5m1 -6v6m1 -6v6m1 -4v4m1 -4v5m1 -6v6m1 -6v6m1 -6v6m1 -5v5m1 -6v6m1 -6v6m1 -6v5m1 -8v7m1 -7v7m1 -6v5m1 -6v5m1 -7v7m1 -8v6m1 -6v6m1 -7v7m1 -9v8m1 -8v6m1 -6v5m1 -7v7m1 -9v9m1 -10v7m1 -8v7m1 -9v8m1 -10v8m1 -10v9m1 -12v10m1 -13v11m1 -14v12m1 -16v14m1 -20v17m1 -24v21m1 -34v31m1 -49v45m1 -71v65m1 -108v101m1 -137v124m1 -154v136m1 -170v144m1 -175v132m1 -165v129m1 -169v139m1 -190v156m1 -225v194m1 -356v323m1 -551v511m1 -668v617m1 -619v550m1 -550v429m1 -427v567m1 -567v642m1 -432v488m1 -272v317m1 -177v216m1 -141v177m1 -121v152m1 -107v134m1 -95v120m1 -84v108m1 -77v98m1 -71v86m1 -61v71m1 -47v55m1 -34v42m1 -27v33m1 -23v28m1 -20v24m1 -16v18m1 -12v14m1 -9v10m1 -6v9m1 -7v8m1 -7v7m1 -5v6m1 -5v5m1 -4v6m1 -6v7m1 -6v8m1 -6v6m1 -5v6m1 -5v5m1 -5v6m1 -5v7m1 -6v6m1 -6v5m1 -4v6m1 -5v5m1 -5v6m1 -5v5m1 -5v6m1 -6v7m1 -6v6m1 -6v5m1 -4v4m1 -4v5m1 -6v6m1 -6v7m1 -4v4m1 -3v4m1 -5v5m1 -6v7m1 -7v7m1 -7v6m1 -5v5m1 -5v5m1 -5v6m1 -6v6m1 -6v4m1 -4v6m1 -6v7m1 -8v8m1 -8v7m1 -7v7m1 -7v6m1 -6v5m1 -5v6m1 -6v7m1 -7v7m1 -6v6m1 -6v5m1 -8v7m1 -7v8m1 -7v7m1 -6v6m1 -9v7m1 -7v8m1 -8v8m1 -6v6m1 -6v6m1 -7v7m1 -7v6m1 -6v6m1 -6v6m1 -6v6m1 -5v5m1 -6v6m1 -6v6m1 -6v6m1 -6v5m1 -5v5m1 -5v5m1 -5v5m1 -5v5m1 -5v4m1 -4v5m1 -5v5m1 -5v6m1 -6v6m1 -6v5m1 -6v7m1 -7v7m1 -6v4m1 -4v4m1 -4v4m1 -4v6m1 -7v7m1 -7v6m1 -5v5m1 -7v7m1 -7v5m1 -5v5m1 -6v6m1 -6v5m1 -5v5m1 -5v5m1 -7v7m1 -8v6m1 -8v7m1 -8v7m1 -9v8m1 -10v9m1 -11v9m1 -11v9m1 -11v11m1 -14v10m1 -12v10m1 -12v10m1 -11v9m1 -9v6m1 -7v6m1 -6v10m1 -8v12m1 -11v14m1 -12v15m1 -11v13m1 -9v11m1 -8v10m1 -7v9m1 -7v7m1 -7v8m1 -5v7m1 -6v7m1 -5v5m1 -7v8m1 -8v10m1 -8v8m1 -8v7m1 -7v7m1 -6v6m1 -4v5m1 -5v5m1 -6v5m1 -5v7m1 -6v7m1 -5v5m1 -5v5m1 -5v5m1 -5v5m1 -6v8m1 -8v8m1 -6v5m1 -4v5m1 -5v6m1 -7v7m1 -7v7m1 -7v8m1 -6v6m1 -6v5m1 -5v6m1 -5v8m1 -8v8m1 -8v7m1 -5v5m1 -6v6m1 -7v7m1 -7v6m1 -4v5m1 -5v5m1 -5v4m1 -5v5m1 -5v5m1 -4v5m1 -5v5m1 -6v6m1 -6v7m1 -6v6m1 -5v5m1 -5v5m1 -6v6m1 -6v6m1 -6v6m1 -6v4m1 -4v5m1 -7v7m1 -8v7m1 -7v4m1 -5v7m1 -7v7m1 -6v6m1 -6v6m1 -4v6m1 -6v6m1 -6v7m1 -5v6m1 -6v7m1 -4v4m1 -4v4m1 -4v5m1 -4v4m1 -6v6m1 -6v8m1 -8v8m1 -7v7m1 -7v7m1 -7v8m1 -7v7m1 -7v7m1 -7v6m1 -6v6m1 -7v7m1 -7v6m1 -4v5m1 -5v5m1 -6v5m1 -5v6m1 -6v6m1 -6v6m1 -5v5m1 -6v7m1 -7v7m1 -6v5m1 -5v5m1 -5v4m1 -6v8m1 -8v8m1 -6v6m1 -6v6m1 -6v6m1 -5v5m1 -5v4m1 -4v4m1 -4v4m1 -4v4m1 -4v5m1 -5v6m1 -6v6m1 -6v4m1 -4v6m1 -7v7m1 -7v6m1 -6v6m1 -5v6m1 -5v5m1 -5v5m1 -5v5m1 -5v6m1 -6v6m1 -6v5m1 -5v6m1 -6v6m1 -5v5m1 -5v5m1 -5v5m1 -6v6m1 -6v5m1 -4v4m1 -5v5m1 -5v5m1 -6v6m1 -6v6m1 -4v5m1 -5v5m1 -6v6m1 -7v6m1 -6v7m1 -7v7m1 -7v7m1 -8v6m1 -6v6m1 -6v5m1 -5v5m1 -5v5m1 -6v6m1 -7v6m1 -6v6m1 -6v6m1 -6v8m1 -8v8m1 -9v6m1 -6v6m1 -5v6m1 -5v5m1 -6v6m1 -7v5m1 -5v6m1 -6v6m1 -6v6m1 -6v5m1 -5v5m1 -6v6m1 -6v6m1 -7v7m1 -7v7m1 -7v6m1 -6v6m1 -6v6m1 -6v6m1 -7v7m1 -7v7m1 -6v6m1 -9v8m1 -8v6m1 -7v6m1 -6v6m1 -6v5m1 -7v7m1 -8v7m1 -9v7m1 -10v10m1 -12v10m1 -14v12m1 -15v13m1 -17v14m1 -21v19m1 -27v23m1 -32v29m1 -41v37m1 -53v46m1 -65v57m1 -83v74m1 -108v96m1 -128v112m1 -144v125m1 -156v130m1 -165v131m1 -163v131m1 -147v115m1 -115v84m1 -85v50m1 -50v79m1 -78v109m1 -98v131m1 -101v132m1 -96v124m1 -93v118m1 -85v109m1 -78v96m1 -68v80m1 -55v66m1 -42v51m1 -33v40m1 -28v34m1 -23v27m1 -18v22m1 -15v18m1 -12v15m1 -11v13m1 -9v11m1 -8v10m1 -7v8m1 -7v9m1 -6v7m1 -5v7m1 -6v7m1 -6v7m1 -7v7m1 -5v7m1 -7v7m1 -5v6m1 -5v5m1 -5v4m1 -4v4m1 -4v6m1 -5v5m1 -4v6m1 -8v8m1 -9v8m1 -8v7m1 -5v6m1 -6v6m1 -6v6m1 -6v5m1 -5v5m1 -5v5m1 -5v7m1 -6v6m1 -6v6m1 -6v7m1 -7v7m1 -6v6m1 -5v5m1 -5v6m1 -5v6m1 -6v7m1 -7v7m1 -7v6m1 -5v6m1 -6v6m1 -6v6m1 -6v7m1 -7v7m1 -6v6m1 -6v5m1 -5v7m1 -6v6m1 -6v5m1 -6v6m1 -7v7m1 -7v6m1 -5v7m1 -6v6m1 -7v7m1 -7v6m1 -6v8m1 -8v8m1 -8v7m1 -6v6m1 -6v6m1 -6v6m1 -5v5m1 -5v5m1 -6v6m1 -6v5m1 -4v4m1 -6v6m1 -6v7m1 -7v7m1 -6v6m1 -6v6m1 -6v6m1 -5v5m1 -5v5m1 -5v5m1 -5v5m1 -5v5m1 -5v6m1 -6v6m1 -5v6m1 -6v6m1 -9v7m1 -7v7m1 -5v5m1 -5v5m1 -4v4m1 -4v5m1 -5v5m1 -5v6m1 -6v6m1 -8v7m1 -7v6m1 -6v6m1 -6v7m1 -5v5m1 -7v7m1 -7v7m1 -6v5m1 -5v6m1 -6v6m1 -6v6m1 -7v7m1 -7v8m1 -7v7m1 -7v6m1 -5v6m1 -6v6m1 -6v5m1 -5v5m1 -5v5m1 -5v5m1 -5v5m1 -5v5m1 -5v7m1 -7v7m1 -6v5m1 -5v6m1 -6v6m1 -6v5m1 -6v5m1 -5v5m1 -6v6m1 -6v6m1 -7v7m1 -7v7m1 -7v6m1 -4v4m1 -4v4m1 -6v6m1 -6v6m1 -6v6m1 -6v7m1 -6v6m1 -7v6m1 -6v4m1 -4v5m1 -6v6m1 -6v5m1 -4v6m1 -6v6m1 -6v6m1 -7v7m1 -7v7m1 -6v6m1 -6v6m1 -6v5m1 -5v6m1 -5v5m1 -5v5m1 -5v5m1 -5v5m1 -5v5m1 -5v5m1 -4v4m1 -4v4m1 -5v5m1 -5v5m1 -5v5m1 -5v6m1 -5v5m1 -5v6m1 -6v6m1 -6v4m1 -4v5m1 -6v7m1 -7v7m1 -8v5m1 -8v7m1 -7v6m1 -8v8m1 -8v6m1 -10v9m1 -14v13m1 -19v17m1 -24v23m1 -31v27m1 -39v34m1 -50v44m1 -63v56m1 -76v68m1 -92v80m1 -106v90m1 -120v101m1 -132v112m1 -129v105m1 -116v90m1 -96v66m1 -66v35m1 -36v19m1 -19v26m1 -25v65m1 -63v102m1 -93v122m1 -110v133m1 -92v113m1 -74v91m1 -62v76m1 -53v62m1 -41v49m1 -32v38m1 -24v30m1 -21v24m1 -16v18m1 -12v14m1 -8v9m1 -6v8m1 -6v7m1 -6v8m1 -6v7m1 -5v6m1 -6v6m1 -6v6m1 -4v6m1 -7v9m1 -9v9m1 -8v6m1 -6v6m1 -6v6m1 -5v6m1 -5v5m1 -5v8m1 -8v8m1 -8v8m1 -9v7m1 -7v6m1 -5v5m1 -5v7m1 -7v7m1 -7v7m1 -7v7m1 -7v7m1 -6v4m1 -5v6m1 -6v6m1 -5v5m1 -6v6m1 -7v6m1 -6v8m1 -5v5m1 -6v6m1 -6v6m1 -6v5m1 -5v6m1 -6v6m1 -5v4m1 -4v4m1 -5v5m1 -5v5m1 -7v7m1 -7v8m1 -8v8m1 -8v8m1 -8v7m1 -5v5m1 -5v6m1 -8v8m1 -8v6m1 -6v4m1 -5v6m1 -7v7m1 -7v6m1 -7v7m1 -10v9m1 -12v10m1 -13v11m1 -16v15m1 -19v16m1 -21v18m1 -24v21m1 -29v24m1 -32v28m1 -37v31m1 -40v35m1 -47v39m1 -53v45m1 -55v46m1 -47v37m1 -38v27m1 -27v19m1 -19v30m1 -28v38m1 -32v42m1 -32v43m1 -32v41m1 -31v39m1 -29v34m1 -23v28m1 -19v24m1 -16v19m1 -14v17m1 -12v14m1 -9v11m1 -8v10m1 -7v7m1 -5v7m1 -6v6m1 -5v6m1 -5v6m1 -4v4m1 -4v6m1 -6v6m1 -5v6m1 -6v6m1 -5v5m1 -5v4m1 -4v6m1 -6v7m1 -5v5m1 -6v5m1 -5v5m1 -5v7m1 -6v6m1 -5v5m1 -6v6m1 -6v5m1 -4v4m1 -4v4m1 -4v4m1 -5v5m1 -5v6m1 -6v6m1 -4v5m1 -5v5m1 -5v4m1 -4v4m1 -4v5m1 -7v7m1 -7v7m1 -6v7m1 -7v7m1 -7v5m1 -5v6m1 -6v6m1 -5v5m1 -5v7m1 -7v7m1 -7v6m1 -6v5m1 -5v5m1 -5v6m1 -6v6m1 -6v6m1 -6v6m1 -5v5m1 -5v5m1 -5v5m1 -5v5m1 -6v6m1 -6v7m1 -7v7m1 -7v7m1 -6v6m1 -6v6m1 -7v7m1 -7v6m1 -6v6m1 -5v5m1 -5v5m1 -4v4m1 -5v6m1 -6v6m1 -6v6m1 -6v6m1 -6v5m1 -4v4m1 -5v5m1 -6v5m1 -6v6m1 -6v6m1 -5v5m1 -5v5m1 -5v5m1 -5v5m1 -5v5m1 -6v7m1 -7v7m1 -7v5m1 -5v5m1 -4v6m1 -5v5m1 -5v4m1 -6v6m1 -6v6m1 -7v6m1 -6v6m1 -5v5m1 -6v6m1 -6v7m1 -6v6m1 -6v6m1 -6v6m1 -6v6m1 -6v6m1 -5v5m1 -7v7m1 -7v7m1 -6v6m1 -6v6m1 -7v6m1 -7v7m1 -7v9m1 -6v6m1 -5v4m1 -7v7m1 -7v6m1 -6v6m1 -5v5m1 -7v7m1 -7v7m1 -6v7m1 -6v6m1 -6v5m1 -7v6m1 -6v6m1 -5v5m1 -5v6m1 -6v6m1 -6v5m1 -6v6m1 -6v5m1 -6v5m1 -5v5m1 -6v6m1 -8v7m1 -7v7m1 -10v7m1 -7v7m1 -10v10m1 -13v11m1 -15v13m1 -17v15m1 -20v17m1 -21v18m1 -25v21m1 -29v25m1 -34v29m1 -35v30m1 -36v30m1 -36v28m1 -30v21m1 -24v17m1 -17v12m1 -11v15m1 -13v19m1 -18v26m1 -21v29m1 -23v30m1 -24v30m1 -22v27m1 -19v23m1 -16v19m1 -13v15m1 -10v11m1 -7v9m1 -6v7m1 -5v6m1 -5v7m1 -6v6m1 -4v4m1 -4v6m1 -6v7m1 -6v7m1 -6v9m1 -7v8m1 -6v6m1 -6v9m1 -8v8m1 -7v7m1 -6v8m1 -7v7m1 -6v5m1 -6v8m1 -8v8m1 -7v7m1 -5v5m1 -5v5m1 -6v7m1 -7v7m1 -7v7m1 -6v6m1 -6v6m1 -5v5m1 -5v5m1 -4v5m1 -5v5m1 -5v5m1 -5v5m1 -6v4m1 -4v5m1 -5v6m1 -6v6m1 -6v6m1 -6v6m1 -6v6m1 -6v6m1 -6v7m1 -7v7m1 -7v6m1 -6v6m1 -6v5m1 -5v5m1 -5v6m1 -5v5m1 -5v5m1 -6v5m1 -5v5m1 -5v4m1 -4v5m1 -5v6m1 -6v6m1 -6v6m1 -8v8m1 -8v7m1 -4v5m1 -6v6m1 -6v6m1 -6v5m1 -5v6m1 -5v5m1 -6v5m1 -6v6m1 -6v6m1 -6v6m1 -8v6m1 -8v8m1 -8v7m1 -9v8m1 -10v8m1 -11v10m1 -13v12m1 -15v13m1 -18v15m1 -20v17m1 -22v19m1 -25v22m1 -26v21m1 -26v21m1 -26v21m1 -25v19m1 -22v17m1 -17v13m1 -14v9m1 -9v9m1 -9v15m1 -14v19m1 -17v23m1 -18v23m1 -17v23m1 -18v24m1 -18v22m1 -17v20m1 -14v17m1 -11v13m1 -9v11m1 -8v10m1 -7v9m1 -7v8m1 -6v9m1 -7v7m1 -6v6m1 -6v6m1 -6v7m1 -7v7m1 -6v6m1 -6v6m1 -6v6m1 -5v6m1 -5v6m1 -6v6m1 -6v6m1 -5v5m1 -5v5m1 -6v7m1 -7v7m1 -6v6m1 -7v6m1 -6v6m1 -4v4m1 -4v5m1 -5v6m1 -6v6m1 -7v6m1 -6v6m1 -6v6m1 -6v6m1 -5v5m1 -6v6m1 -6v5m1 -5v5m1 -6v5m1 -5v6m1 -6v6m1 -6v7m1 -6v6m1 -7v7m1 -7v7m1 -7v8m1 -8v8m1 -8v6m1 -6v5m1 -5v8m1 -6v6m1 -8v8m1 -8v6m1 -6v5m1 -4v6m1 -5v5m1 -6v5m1 -5v6m1 -6v6m1 -6v5m1 -4v5m1 -5v5m1 -5v4m1 -5v5m1 -5v6m1 -6v6m1 -5v5m1 -5v5m1 -5v5m1 -5v5m1 -6v6m1 -6v6m1 -6v6m1 -6v6m1 -5v5m1 -5v6m1 -6v6m1 -5v5m1 -6v6m1 -6v6m1 -6v6m1 -6v7m1 -6v6m1 -6v5m1 -5v5m1 -5v5m1 -5v6m1 -7v7m1 -7v7m1 -7v6m1 -6v6m1 -6v6m1 -5v4m1 -6v7m1 -7v7m1 -7v7m1 -6v6m1 -6v6m1 -6v5m1 -5v5m1 -5v5m1 -5v5m1 -5v6m1 -5v6m1 -5v5m1 -6v6m1 -6v9m1 -9v9m1 -9v6m1 -6v5m1 -5v5m1 -5v6m1 -6v6m1 -6v5m1 -5v5m1 -6v6m1 -6v5m1 -6v6m1 -6v8m1 -7v7m1 -7v7m1 -7v7m1 -7v6m1 -7v7m1 -7v6m1 -6v6m1 -6v6m1 -6v5m1 -7v7m1 -7v7m1 -5v5m1 -5v5m1 -6v6m1 -6v7m1 -6v6m1 -8v7m1 -7v5m1 -6v6m1 -6v6m1 -6v8m1 -6v6m1 -6v5m1 -5v4m1 -4v4m1 -4v4m1 -4v4m1 -5v5m1 -6v6m1 -7v7m1 -7v7m1 -5v5m1 -5v5m1 -5v5m1 -4v4m1 -5v8m1 -8v8m1 -9v8m1 -8v5m1 -4v6m1 -6v7m1 -6v6m1 -7v6m1 -6v5m1 -5v7m1 -7v7m1 -7v6m1 -6v7m1 -7v7m1 -6v6m1 -6v6m1 -7v5m1 -5v6m1 -5v5m1 -5v5m1 -5v5m1 -5v5m1 -4v5m1 -5v5m1 -6v6m1 -7v6m1 -6v7m1 -6v7m1 -4v4m1 -6v6m1 -6v6m1 -6v5m1 -5v5m1 -5v6m1 -6v6m1 -6v5m1 -5v5m1 -5v5m1 -3v4m1 -7v7m1 -7v6m1 -6v6m1 -5v5m1 -5v5m1 -5v6m1 -6v6m1 -6v6m1 -6v5m1 -6v5m1 -6v8m1 -8v8"/>
</g>
<g shape-rendering="crispEdges">
<rect x="491" y="2993" width="159" height="5" fill="#000"/>
<rect x="488" y="2998" width="5" height="58" fill="#000"/>
<rect x="605" y="3002" width="4" height="98" fill="#000"/>
<rect x="646" y="3000" width="5" height="84" fill="#000"/>
<polygon points="483,3053 498,3053 490.5,3081"/>
<polygon points="600,3097 615,3097 607.5,3125"/>
<polygon points="641,3081 656,3081 648.5,3109"/>
<rect x="1674" y="1788" width="649" height="289" fill="#000"/>
<rect x="1678" y="1793" width="641" height="279" fill="#fff"/>
<rect x="1740" y="1855" width="150" height="3" fill="#000"/>
<rect x="1740" y="1929" width="150" height="3" fill="#f00"/>
<rect x="1740" y="2003" width="150" height="3" fill="#0f0"/>
</g>
<text x="0" y="0" font-family="'Liberation Sans',Arial,Helvetica,sans-serif" font-size="58" text-anchor="start" transform="translate(1904.3,1875.7) scale(1,1)">MgO-rGO 1:2</text>
<text x="0" y="0" font-family="'Liberation Sans',Arial,Helvetica,sans-serif" font-size="58" text-anchor="start" transform="translate(1904.3,1949.4) scale(1,1)">MgO-rGO 1:3</text>
<text x="0" y="0" font-family="'Liberation Sans',Arial,Helvetica,sans-serif" font-size="58" text-anchor="start" transform="translate(1904.3,2023.1) scale(1,1)">MgO-rGO 1:4</text>
<text x="380" y="1849" font-family="'Liberation Serif','Times New Roman',serif" font-weight="bold" font-size="86"><tspan font-size="75.7" dy="-7.5">(</tspan><tspan dy="7.5" dx="1">B</tspan><tspan font-size="75.7" dy="-7.5" dx="1">)</tspan></text>
<text x="0" y="0" font-family="'Liberation Sans',Arial,Helvetica,sans-serif" font-size="57.5" text-anchor="end" transform="translate(327.5,3275.8) scale(1,1)">0</text>
<text x="0" y="0" font-family="'Liberation Sans',Arial,Helvetica,sans-serif" font-size="57.5" text-anchor="end" transform="translate(327.5,2972.6) scale(1,1)">20000</text>
<text x="0" y="0" font-family="'Liberation Sans',Arial,Helvetica,sans-serif" font-size="57.5" text-anchor="end" transform="translate(327.5,2669.4) scale(1,1)">40000</text>
<text x="0" y="0" font-family="'Liberation Sans',Arial,Helvetica,sans-serif" font-size="57.5" text-anchor="end" transform="translate(327.5,2366.2) scale(1,1)">60000</text>
<text x="0" y="0" font-family="'Liberation Sans',Arial,Helvetica,sans-serif" font-size="57.5" text-anchor="end" transform="translate(327.5,2063) scale(1,1)">80000</text>
<text x="0" y="0" font-family="'Liberation Sans',Arial,Helvetica,sans-serif" font-size="57.5" text-anchor="end" transform="translate(327.5,1759.8) scale(1,1)">100000</text>
<text x="0" y="0" font-family="'Liberation Sans',Arial,Helvetica,sans-serif" font-size="58" text-anchor="middle" transform="translate(510.5,3357.8) scale(1,1)">10</text>
<text x="0" y="0" font-family="'Liberation Sans',Arial,Helvetica,sans-serif" font-size="58" text-anchor="middle" transform="translate(775.36,3357.8) scale(1,1)">20</text>
<text x="0" y="0" font-family="'Liberation Sans',Arial,Helvetica,sans-serif" font-size="58" text-anchor="middle" transform="translate(1040.22,3357.8) scale(1,1)">30</text>
<text x="0" y="0" font-family="'Liberation Sans',Arial,Helvetica,sans-serif" font-size="58" text-anchor="middle" transform="translate(1305.08,3357.8) scale(1,1)">40</text>
<text x="0" y="0" font-family="'Liberation Sans',Arial,Helvetica,sans-serif" font-size="58" text-anchor="middle" transform="translate(1569.94,3357.8) scale(1,1)">50</text>
<text x="0" y="0" font-family="'Liberation Sans',Arial,Helvetica,sans-serif" font-size="58" text-anchor="middle" transform="translate(1834.8,3357.8) scale(1,1)">60</text>
<text x="0" y="0" font-family="'Liberation Sans',Arial,Helvetica,sans-serif" font-size="58" text-anchor="middle" transform="translate(2099.66,3357.8) scale(1,1)">70</text>
<text x="0" y="0" font-family="'Liberation Sans',Arial,Helvetica,sans-serif" font-size="58" text-anchor="middle" transform="translate(2364.52,3357.8) scale(1,1)">80</text>
<text x="0" y="0" font-family="'Liberation Sans',Arial,Helvetica,sans-serif" font-size="74.3" text-anchor="middle" transform="translate(83.4,2551.5) rotate(-90)">Intensity (a.u.)</text>
<text x="1284" y="3479.2" font-family="'Liberation Sans',Arial,sans-serif" font-size="74">2<tspan font-family="'Liberation Serif','Times New Roman',serif" font-weight="bold" font-size="70" dx="-0.5">θ</tspan><tspan font-size="73" dx="-3"> (°)</tspan></text>
<text transform="translate(733.4,2138.7) rotate(-45)" font-family="'Liberation Sans',Arial,sans-serif" font-size="45" letter-spacing="1">Mg<tspan font-size="46.5">(</tspan>OH<tspan font-size="46.5" dy="-0.5">)</tspan><tspan font-size="28" dx="-1" dy="15.5">2</tspan></text>
<text transform="translate(1238.4,1912.7) rotate(-45)" font-family="'Liberation Sans',Arial,sans-serif" font-size="45" letter-spacing="1">Mg<tspan font-size="46.5">(</tspan>OH<tspan font-size="46.5" dy="-0.5">)</tspan><tspan font-size="28" dx="-1" dy="15.5">2</tspan></text>
<text transform="translate(1597.1,2777.1) rotate(-45)" font-family="'Liberation Sans',Arial,sans-serif" font-size="45" letter-spacing="1">Mg<tspan font-size="46.5">(</tspan>OH<tspan font-size="46.5" dy="-0.5">)</tspan><tspan font-size="28" dx="-1" dy="15.5">2</tspan></text>
<text transform="translate(1805.3,2863.9) rotate(-45)" font-family="'Liberation Sans',Arial,sans-serif" font-size="45" letter-spacing="1">Mg<tspan font-size="46.5">(</tspan>OH<tspan font-size="46.5" dy="-0.5">)</tspan><tspan font-size="28" dx="-1" dy="15.5">2</tspan></text>
<text transform="translate(1088.3,3106.2) rotate(-45)" font-family="'Liberation Sans',Arial,sans-serif" font-size="45" letter-spacing="1">Mg<tspan font-size="46.5">(</tspan>OH<tspan font-size="46.5" dy="-0.5">)</tspan><tspan font-size="28" dx="-1" dy="15.5">2</tspan></text>
<text transform="translate(2053.3,3102) rotate(-45)" font-family="'Liberation Sans',Arial,sans-serif" font-size="45" letter-spacing="1">Mg<tspan font-size="46.5">(</tspan>OH<tspan font-size="46.5" dy="-0.5">)</tspan><tspan font-size="28" dx="-1" dy="15.5">2</tspan></text>
<text transform="translate(2175,3121.6) rotate(-45)" font-family="'Liberation Sans',Arial,sans-serif" font-size="45" letter-spacing="1">Mg<tspan font-size="46.5">(</tspan>OH<tspan font-size="46.5" dy="-0.5">)</tspan><tspan font-size="28" dx="-1" dy="15.5">2</tspan></text>
<text x="0" y="0" font-family="'Liberation Sans',Arial,Helvetica,sans-serif" font-size="53" text-anchor="start" transform="translate(1379.6,3127) rotate(-45)">MgO</text>
<text x="0" y="0" font-family="'Liberation Sans',Arial,Helvetica,sans-serif" font-size="53" text-anchor="start" transform="translate(1896.6,3074.2) rotate(-45)">MgO</text>
<text x="0" y="0" font-family="'Liberation Sans',Arial,Helvetica,sans-serif" font-size="46" text-anchor="start" letter-spacing="1" transform="translate(954.8,3061.2) rotate(-45)">rGO</text>
<text x="0" y="0" font-family="'Liberation Sans',Arial,Helvetica,sans-serif" font-size="46" text-anchor="start" letter-spacing="1" transform="translate(547.9,2962.2) rotate(-45)">GO</text>
</g>
</svg></body></html>
